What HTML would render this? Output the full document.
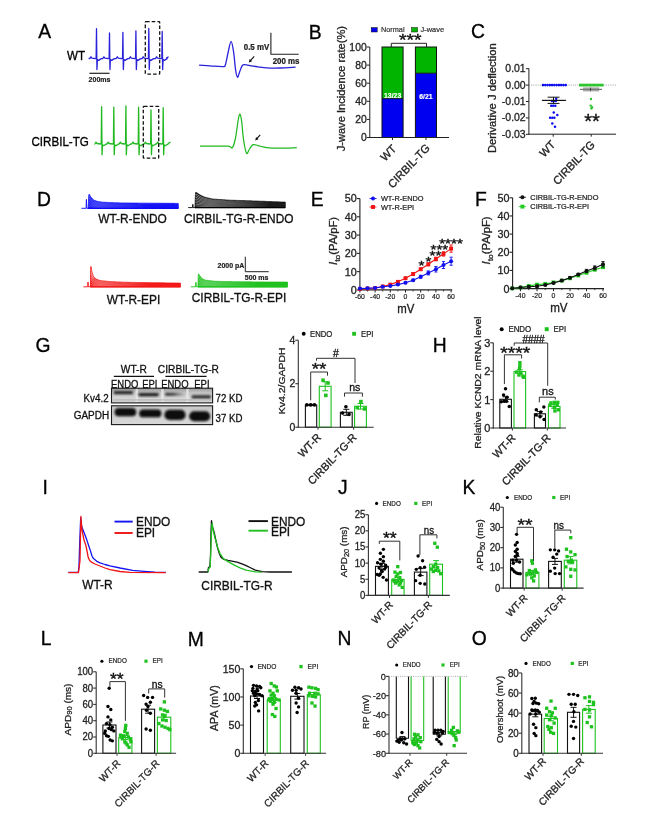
<!DOCTYPE html>
<html><head><meta charset="utf-8"><title>Figure</title>
<style>html,body{margin:0;padding:0;background:#fff;} svg{display:block;} text{font-family:'Liberation Sans', Arial, sans-serif;}</style>
</head><body>
<svg width="657" height="835" viewBox="0 0 657 835">
<rect x="0" y="0" width="657" height="835" fill="#fff"/>
<text transform="translate(38.3,38.3) scale(1,1.06)" font-size="19.3" text-anchor="start" font-weight="normal" fill="#000" stroke="#000" stroke-width="0.3" >A</text>
<text transform="translate(308.8,38.6) scale(1,1.06)" font-size="19.3" text-anchor="start" font-weight="normal" fill="#000" stroke="#000" stroke-width="0.3" >B</text>
<text transform="translate(470.9,38.1) scale(1,1.06)" font-size="19.3" text-anchor="start" font-weight="normal" fill="#000" stroke="#000" stroke-width="0.3" >C</text>
<text transform="translate(36.9,206.4) scale(1,1.06)" font-size="19.3" text-anchor="start" font-weight="normal" fill="#000" stroke="#000" stroke-width="0.3" >D</text>
<text transform="translate(310.8,206.4) scale(1,1.06)" font-size="19.3" text-anchor="start" font-weight="normal" fill="#000" stroke="#000" stroke-width="0.3" >E</text>
<text transform="translate(474.9,206.4) scale(1,1.06)" font-size="19.3" text-anchor="start" font-weight="normal" fill="#000" stroke="#000" stroke-width="0.3" >F</text>
<text transform="translate(35.5,352) scale(1,1.06)" font-size="19.3" text-anchor="start" font-weight="normal" fill="#000" stroke="#000" stroke-width="0.3" >G</text>
<text transform="translate(432.8,352.4) scale(1,1.06)" font-size="19.3" text-anchor="start" font-weight="normal" fill="#000" stroke="#000" stroke-width="0.3" >H</text>
<text transform="translate(42.4,494.2) scale(1,1.06)" font-size="19.3" text-anchor="start" font-weight="normal" fill="#000" stroke="#000" stroke-width="0.3" >I</text>
<text transform="translate(338,494.2) scale(1,1.06)" font-size="19.3" text-anchor="start" font-weight="normal" fill="#000" stroke="#000" stroke-width="0.3" >J</text>
<text transform="translate(462.6,494.4) scale(1,1.06)" font-size="19.3" text-anchor="start" font-weight="normal" fill="#000" stroke="#000" stroke-width="0.3" >K</text>
<text transform="translate(40.8,645.3) scale(1,1.06)" font-size="19.3" text-anchor="start" font-weight="normal" fill="#000" stroke="#000" stroke-width="0.3" >L</text>
<text transform="translate(187.8,645.5) scale(1,1.06)" font-size="19.3" text-anchor="start" font-weight="normal" fill="#000" stroke="#000" stroke-width="0.3" >M</text>
<text transform="translate(337.6,645.3) scale(1,1.06)" font-size="19.3" text-anchor="start" font-weight="normal" fill="#000" stroke="#000" stroke-width="0.3" >N</text>
<text transform="translate(471.7,645.1) scale(1,1.06)" font-size="19.3" text-anchor="start" font-weight="normal" fill="#000" stroke="#000" stroke-width="0.3" >O</text>
<text transform="translate(67,60.4) scale(1,1.06)" font-size="11.6" text-anchor="start" font-weight="normal" fill="#000" stroke="#000" stroke-width="0.3" >WT</text>
<text transform="translate(31.5,146.2) scale(1,1.06)" font-size="11.6" text-anchor="start" font-weight="normal" fill="#000" stroke="#000" stroke-width="0.3" >CIRBIL-TG</text>
<polyline points="88.6,58.4 89.7,58.7 90.9,56.8 91.9,58.2 95.3,58.7 96.15,57.9 96.5,28.7 96.95,69.5 97.4,59.4 98.7,60.4 100.1,59.4 101.5,58.6 102.7,58.7 103.9,56.8 104.9,58.2 108.3,58.7 109.15,57.9 109.5,33 109.95,69.5 110.4,59.4 111.7,60.4 113.1,59.4 114.5,58.6 116.1,58.7 117.3,56.8 118.3,58.2 121.7,58.7 122.55,57.9 122.9,32.5 123.35,69.5 123.8,59.4 125.1,60.4 126.5,59.4 127.9,58.6 129.1,58.7 130.3,56.8 131.3,58.2 134.7,58.7 135.55,57.9 135.9,31 136.35,69.5 136.8,59.4 138.1,60.4 139.5,59.4 140.9,58.6 142,58.7 143.2,56.8 144.2,58.2 147.6,58.7 148.45,57.9 148.8,28.4 149.25,69.5 149.7,59.4 151,60.4 152.4,59.4 153.8,58.6 155.4,58.7 156.6,56.8 157.6,58.2 161,58.7 161.85,57.9 162.2,31.4 162.65,69.5 163.1,59.4 164.4,60.4 165.8,59.4 167.2,58.6 166.6,57.9 168.6,56.8" fill="none" stroke="#2a22d8" stroke-width="1.3" stroke-linejoin="round" />
<polyline points="94.3,143.7 94.8,144 96,142.1 97,143.5 100.4,144 101.25,143.2 101.6,106.7 102.05,154.7 102.5,144.7 103.8,145.7 105.2,144.7 106.6,143.9 107,144 108.2,142.1 109.2,143.5 112.6,144 113.45,143.2 113.8,107.2 114.25,154.7 114.7,144.7 116,145.7 117.4,144.7 118.8,143.9 119.1,144 120.3,142.1 121.3,143.5 124.7,144 125.55,143.2 125.9,106 126.35,154.7 126.8,144.7 128.1,145.7 129.5,144.7 130.9,143.9 131.8,144 133,142.1 134,143.5 137.4,144 138.25,143.2 138.6,107.2 139.05,154.7 139.5,144.7 140.8,145.7 142.2,144.7 143.6,143.9 144.2,144 145.4,142.1 146.4,143.5 149.8,144 150.65,143.2 151,110 151.45,154.7 151.9,144.7 153.2,145.7 154.6,144.7 156,143.9 156.4,144 157.6,142.1 158.6,143.5 162,144 162.85,143.2 163.2,107.7 163.65,154.7 164.1,144.7 165.4,145.7 166.8,144.7 168.2,143.9 168.5,143.2 170.5,142.1" fill="none" stroke="#1fb81f" stroke-width="1.3" stroke-linejoin="round" />
<rect x="145.3" y="21.7" width="14.4" height="52.5" rx="0.7" fill="none" stroke="#111" stroke-width="1.3" stroke-dasharray="3.6,2.1"/>
<rect x="143.3" y="106.3" width="15.4" height="51.8" rx="0.7" fill="none" stroke="#111" stroke-width="1.3" stroke-dasharray="3.6,2.1"/>
<line x1="89.4" y1="73.3" x2="109.5" y2="73.3" stroke="#222" stroke-width="1.2" />
<text transform="translate(99.5,82) scale(1,1.06)" font-size="7.0" text-anchor="middle" font-weight="bold" fill="#222" stroke="#222" stroke-width="0.2" >200ms</text>
<path d="M199.1,65.1 C200.92,65.22 206.03,65.55 210,65.8 C213.97,66.05 220.32,66.82 222.9,66.6 C225.48,66.38 224.62,66.93 225.5,64.5 C226.38,62.07 227.27,55.85 228.2,52 C229.13,48.15 230.2,41.4 231.1,41.4 C232,41.4 232.85,47.23 233.6,52 C234.35,56.77 234.95,65.8 235.6,70 C236.25,74.2 236.83,76.87 237.5,77.2 C238.17,77.53 238.82,73.93 239.6,72 C240.38,70.07 241.3,66.83 242.2,65.6 C243.1,64.37 243.7,64.6 245,64.6 C246.3,64.6 247.83,65.23 250,65.6 C252.17,65.97 255.22,66.42 258,66.8 C260.78,67.18 263.03,67.7 266.7,67.9 C270.37,68.1 275.18,68.13 280,68 C284.82,67.87 293,67.25 295.6,67.1" fill="none" stroke="#2a22d8" stroke-width="1.3" stroke-linejoin="round" />
<polyline points="270.9,32.8 270.9,54.2 298.7,54.2" fill="none" stroke="#222" stroke-width="1.1" stroke-linejoin="round" />
<text transform="translate(269.2,49.7) scale(1,1.06)" font-size="7.9" text-anchor="end" font-weight="bold" fill="#222" stroke="#222" stroke-width="0.22" >0.5 mV</text>
<text transform="translate(286,63.6) scale(1,1.06)" font-size="7.9" text-anchor="middle" font-weight="bold" fill="#222" stroke="#222" stroke-width="0.22" >200 ms</text>
<line x1="254.2" y1="56.4" x2="250.15" y2="60.9" stroke="#111" stroke-width="1.1" />
<polygon points="248.8,62.4 249.68,58.88 252.2,61.16" fill="#111"/>
<line x1="260.2" y1="134.9" x2="256.45" y2="139.18" stroke="#111" stroke-width="1.1" />
<polygon points="255.2,140.6 256.03,137.07 258.59,139.32" fill="#111"/>
<path d="M200,146.2 C202.5,146.2 210.27,146.2 215,146.2 C219.73,146.2 225.5,145.97 228.4,146.2 C231.3,146.43 231.22,148.97 232.4,147.6 C233.58,146.23 234.53,142.6 235.5,138 C236.47,133.4 237.47,123.97 238.2,120 C238.93,116.03 239.33,114.03 239.9,114.2 C240.47,114.37 240.98,116.7 241.6,121 C242.22,125.3 242.77,134.62 243.6,140 C244.43,145.38 245.62,151.8 246.6,153.3 C247.58,154.8 248.43,150.43 249.5,149 C250.57,147.57 251.58,145.27 253,144.7 C254.42,144.13 255.72,145.12 258,145.6 C260.28,146.08 263.03,147.17 266.7,147.6 C270.37,148.03 274.98,148.18 280,148.2 C285.02,148.22 294,147.78 296.8,147.7" fill="none" stroke="#1fb81f" stroke-width="1.25" stroke-linejoin="round" />
<rect x="371.2" y="27.6" width="6" height="4.4" fill="#0000ee" stroke="#111" stroke-width="0.5" />
<text transform="translate(381,32.2) scale(1,1.06)" font-size="7.3" text-anchor="start" font-weight="normal" fill="#333" stroke="#333" stroke-width="0.2" >Normal</text>
<rect x="411.6" y="27.6" width="6" height="4.4" fill="#00b400" stroke="#111" stroke-width="0.5" />
<text transform="translate(420.6,32.2) scale(1,1.06)" font-size="7.4" text-anchor="start" font-weight="normal" fill="#333" stroke="#333" stroke-width="0.21" >J-wave</text>
<rect x="382" y="47" width="21.1" height="51.6" fill="#00b400" stroke="none" stroke-width="1" />
<rect x="382" y="98.6" width="21.1" height="38.9" fill="#0000f0" stroke="none" stroke-width="1" />
<rect x="382" y="47" width="21.1" height="90.5" fill="none" stroke="#111" stroke-width="1.0" />
<line x1="382" y1="98.6" x2="403.1" y2="98.6" stroke="#111" stroke-width="0.9" />
<rect x="415.4" y="47" width="21.1" height="26.2" fill="#00b400" stroke="none" stroke-width="1" />
<rect x="415.4" y="73.2" width="21.1" height="64.3" fill="#0000f0" stroke="none" stroke-width="1" />
<rect x="415.4" y="47" width="21.1" height="90.5" fill="none" stroke="#111" stroke-width="1.0" />
<line x1="415.4" y1="73.2" x2="436.5" y2="73.2" stroke="#111" stroke-width="0.9" />
<text transform="translate(392.6,98.3) scale(1,1.06)" font-size="6.9" text-anchor="middle" font-weight="bold" fill="#fff" stroke="#fff" stroke-width="0.19" >13/23</text>
<text transform="translate(426,99) scale(1,1.06)" font-size="6.9" text-anchor="middle" font-weight="bold" fill="#fff" stroke="#fff" stroke-width="0.19" >6/21</text>
<line x1="369.8" y1="47" x2="369.8" y2="138" stroke="#222" stroke-width="1.0" />
<line x1="369.3" y1="137.5" x2="449" y2="137.5" stroke="#222" stroke-width="1.0" />
<line x1="366.8" y1="137.5" x2="369.8" y2="137.5" stroke="#222" stroke-width="1.0" />
<text transform="translate(366.7,141) scale(1,1.06)" font-size="10.4" text-anchor="end" font-weight="normal" fill="#222" stroke="#222" stroke-width="0.29" >0</text>
<line x1="366.8" y1="119.4" x2="369.8" y2="119.4" stroke="#222" stroke-width="1.0" />
<text transform="translate(366.7,122.9) scale(1,1.06)" font-size="10.4" text-anchor="end" font-weight="normal" fill="#222" stroke="#222" stroke-width="0.29" >20</text>
<line x1="366.8" y1="101.3" x2="369.8" y2="101.3" stroke="#222" stroke-width="1.0" />
<text transform="translate(366.7,104.8) scale(1,1.06)" font-size="10.4" text-anchor="end" font-weight="normal" fill="#222" stroke="#222" stroke-width="0.29" >40</text>
<line x1="366.8" y1="83.2" x2="369.8" y2="83.2" stroke="#222" stroke-width="1.0" />
<text transform="translate(366.7,86.7) scale(1,1.06)" font-size="10.4" text-anchor="end" font-weight="normal" fill="#222" stroke="#222" stroke-width="0.29" >60</text>
<line x1="366.8" y1="65.1" x2="369.8" y2="65.1" stroke="#222" stroke-width="1.0" />
<text transform="translate(366.7,68.6) scale(1,1.06)" font-size="10.4" text-anchor="end" font-weight="normal" fill="#222" stroke="#222" stroke-width="0.29" >80</text>
<line x1="366.8" y1="47" x2="369.8" y2="47" stroke="#222" stroke-width="1.0" />
<text transform="translate(366.7,50.5) scale(1,1.06)" font-size="10.4" text-anchor="end" font-weight="normal" fill="#222" stroke="#222" stroke-width="0.29" >100</text>
<line x1="392.5" y1="137.5" x2="392.5" y2="140" stroke="#222" stroke-width="1.0" />
<line x1="426" y1="137.5" x2="426" y2="140" stroke="#222" stroke-width="1.0" />
<polyline points="391.3,47 391.3,43.3 426.5,43.3 426.5,47" fill="none" stroke="#222" stroke-width="1.0" stroke-linejoin="round" />
<text transform="translate(410.3,46.3) scale(1.12,1)" font-size="17.3" text-anchor="middle" fill="#111" stroke="#111" stroke-width="0.35">***</text>
<text transform="translate(344.9,88.7) scale(1,1.06) rotate(-90)" font-size="10.5" text-anchor="middle" font-weight="normal" fill="#222" stroke="#222" stroke-width="0.29">J-wave Incidence rate(%)</text>
<text transform="translate(397,149.4) scale(1,1.06) rotate(-45)" font-size="10.9" text-anchor="end" font-weight="normal" fill="#222" stroke="#222" stroke-width="0.3">WT</text>
<text transform="translate(430.5,148.6) scale(1,1.06) rotate(-45)" font-size="10.9" text-anchor="end" font-weight="normal" fill="#222" stroke="#222" stroke-width="0.3">CIRBIL-TG</text>
<line x1="528.9" y1="68.4" x2="528.9" y2="134.7" stroke="#222" stroke-width="1.0" />
<line x1="528.4" y1="134.2" x2="616" y2="134.2" stroke="#222" stroke-width="1.0" />
<line x1="525.9" y1="68.69" x2="528.9" y2="68.69" stroke="#222" stroke-width="1.0" />
<text transform="translate(525.7,72.19) scale(1,1.06)" font-size="10.5" text-anchor="end" font-weight="normal" fill="#222" stroke="#222" stroke-width="0.29" >0.01</text>
<line x1="525.9" y1="85.1" x2="528.9" y2="85.1" stroke="#222" stroke-width="1.0" />
<text transform="translate(525.7,88.6) scale(1,1.06)" font-size="10.5" text-anchor="end" font-weight="normal" fill="#222" stroke="#222" stroke-width="0.29" >0.00</text>
<line x1="525.9" y1="101.51" x2="528.9" y2="101.51" stroke="#222" stroke-width="1.0" />
<text transform="translate(525.7,105.01) scale(1,1.06)" font-size="10.5" text-anchor="end" font-weight="normal" fill="#222" stroke="#222" stroke-width="0.29" >-0.01</text>
<line x1="525.9" y1="117.92" x2="528.9" y2="117.92" stroke="#222" stroke-width="1.0" />
<text transform="translate(525.7,121.42) scale(1,1.06)" font-size="10.5" text-anchor="end" font-weight="normal" fill="#222" stroke="#222" stroke-width="0.29" >-0.02</text>
<line x1="525.9" y1="134.33" x2="528.9" y2="134.33" stroke="#222" stroke-width="1.0" />
<text transform="translate(525.7,137.83) scale(1,1.06)" font-size="10.5" text-anchor="end" font-weight="normal" fill="#222" stroke="#222" stroke-width="0.29" >-0.03</text>
<line x1="528.9" y1="85.1" x2="616" y2="85.1" stroke="#888" stroke-width="0.8" stroke-dasharray="1,1.2"/>
<line x1="553.2" y1="134.2" x2="553.2" y2="136.7" stroke="#222" stroke-width="1.0" />
<line x1="591.2" y1="134.2" x2="591.2" y2="136.7" stroke="#222" stroke-width="1.0" />
<circle cx="543" cy="85.1" r="1.3" fill="#0a0af0"/>
<circle cx="545.27" cy="85.1" r="1.3" fill="#0a0af0"/>
<circle cx="547.54" cy="85.1" r="1.3" fill="#0a0af0"/>
<circle cx="549.81" cy="85.1" r="1.3" fill="#0a0af0"/>
<circle cx="552.08" cy="85.1" r="1.3" fill="#0a0af0"/>
<circle cx="554.35" cy="85.1" r="1.3" fill="#0a0af0"/>
<circle cx="556.62" cy="85.1" r="1.3" fill="#0a0af0"/>
<circle cx="558.89" cy="85.1" r="1.3" fill="#0a0af0"/>
<circle cx="561.16" cy="85.1" r="1.3" fill="#0a0af0"/>
<circle cx="563.43" cy="85.1" r="1.3" fill="#0a0af0"/>
<circle cx="565.7" cy="85.1" r="1.3" fill="#0a0af0"/>
<circle cx="556.2" cy="98.8" r="1.25" fill="#0a0af0"/>
<circle cx="552" cy="101" r="1.25" fill="#0a0af0"/>
<circle cx="553.9" cy="101" r="1.25" fill="#0a0af0"/>
<circle cx="555.8" cy="101" r="1.25" fill="#0a0af0"/>
<circle cx="551.2" cy="105.7" r="1.25" fill="#0a0af0"/>
<circle cx="553.2" cy="105.7" r="1.25" fill="#0a0af0"/>
<circle cx="555.3" cy="105.7" r="1.25" fill="#0a0af0"/>
<circle cx="553.8" cy="112.5" r="1.25" fill="#0a0af0"/>
<circle cx="557.3" cy="115" r="1.25" fill="#0a0af0"/>
<circle cx="550.1" cy="117.8" r="1.25" fill="#0a0af0"/>
<circle cx="552.3" cy="117.8" r="1.25" fill="#0a0af0"/>
<circle cx="554.4" cy="117.8" r="1.25" fill="#0a0af0"/>
<circle cx="552.3" cy="123.6" r="1.25" fill="#0a0af0"/>
<circle cx="555" cy="126.7" r="1.25" fill="#0a0af0"/>
<line x1="541.9" y1="100.4" x2="565.9" y2="100.4" stroke="#111" stroke-width="1.2" />
<line x1="547.6" y1="97.2" x2="559.5" y2="97.2" stroke="#111" stroke-width="1.0" />
<line x1="547.6" y1="103.4" x2="559.5" y2="103.4" stroke="#111" stroke-width="1.0" />
<line x1="553.5" y1="97.2" x2="553.5" y2="103.4" stroke="#111" stroke-width="1.0" />
<rect x="579" y="83.7" width="24.6" height="2.8" fill="#2ec42e" stroke="none" stroke-width="1" />
<rect x="583" y="87.4" width="16.2" height="4" fill="#a8a8a8" stroke="none" stroke-width="1" />
<line x1="580" y1="89.4" x2="602" y2="89.4" stroke="#777" stroke-width="1.2" />
<line x1="590.5" y1="87.6" x2="590.5" y2="91.2" stroke="#333" stroke-width="0.8" />
<circle cx="591" cy="99.05" r="1.2" fill="#2ec42e"/>
<circle cx="590.6" cy="105.61" r="1.2" fill="#2ec42e"/>
<circle cx="592" cy="107.25" r="1.2" fill="#2ec42e"/>
<circle cx="591.4" cy="108.4" r="1.2" fill="#2ec42e"/>
<text transform="translate(592,127.5) scale(1.03,1)" font-size="19.5" text-anchor="middle" fill="#111" stroke="#111" stroke-width="0.35">**</text>
<text transform="translate(496.3,98.2) scale(1,1.06) rotate(-90)" font-size="10.6" text-anchor="middle" font-weight="normal" fill="#222" stroke="#222" stroke-width="0.3">Derivative J deflection</text>
<text transform="translate(556,145.3) scale(1,1.06) rotate(-45)" font-size="10.9" text-anchor="end" font-weight="normal" fill="#222" stroke="#222" stroke-width="0.3">WT</text>
<text transform="translate(595.6,145.3) scale(1,1.06) rotate(-45)" font-size="10.9" text-anchor="end" font-weight="normal" fill="#222" stroke="#222" stroke-width="0.3">CIRBIL-TG</text>
<polyline points="81.4,208.3 86.1,208.3 86.4,199.4 86.8,208.3 88.2,208.3" fill="none" stroke="#0b0bf5" stroke-width="0.9" stroke-linejoin="round" />
<path d="M88.2,208.3 L88.2,208.5 L88.45,202.25 L88.7,196 L88.95,195.1 L89.2,194.2 L89.45,194.64 L89.7,195.08 L89.95,195.53 L90.2,195.97 L90.45,196.41 L90.7,196.74 L90.95,197.05 L91.2,197.35 L91.45,197.65 L91.7,197.96 L91.95,198.26 L92.2,198.56 L92.45,198.87 L92.7,199.17 L92.95,199.48 L93.2,199.78 L93.45,199.96 L93.7,200.05 L93.95,200.15 L94.2,200.24 L94.45,200.34 L94.7,200.43 L94.95,200.52 L95.2,200.62 L95.45,200.71 L95.7,200.81 L95.95,200.9 L96.2,201 L96.45,201.09 L96.7,201.19 L96.95,201.28 L97.2,201.33 L97.45,201.38 L97.7,201.42 L97.95,201.46 L98.2,201.5 L98.45,201.54 L98.7,201.58 L98.95,201.62 L99.2,201.67 L99.45,201.71 L99.7,201.75 L99.95,201.79 L100.2,201.83 L100.45,201.88 L100.7,201.92 L100.95,201.96 L101.2,202 L101.45,202.04 L101.7,202.08 L101.95,202.12 L102.2,202.17 L102.45,202.2 L102.7,202.21 L102.95,202.22 L103.2,202.23 L103.45,202.24 L103.7,202.25 L103.95,202.26 L104.2,202.27 L104.45,202.28 L104.7,202.29 L104.95,202.3 L105.2,202.31 L105.45,202.32 L105.7,202.33 L105.95,202.34 L106.2,202.35 L106.45,202.36 L106.7,202.37 L106.95,202.38 L107.2,202.39 L107.45,202.4 L107.7,202.41 L107.95,202.42 L108.2,202.43 L108.45,202.44 L108.7,202.45 L108.95,202.46 L109.2,202.47 L109.45,202.48 L109.7,202.49 L109.95,202.5 L110.2,202.51 L110.45,202.52 L110.7,202.53 L110.95,202.54 L111.2,202.55 L111.45,202.56 L111.7,202.57 L111.95,202.58 L112.2,202.59 L112.45,202.6 L112.7,202.61 L112.95,202.62 L113.2,202.63 L113.45,202.64 L113.7,202.65 L113.95,202.66 L114.2,202.67 L114.45,202.68 L114.7,202.69 L114.95,202.7 L115.2,202.71 L115.45,202.72 L115.7,202.73 L115.95,202.74 L116.2,202.75 L116.45,202.76 L116.7,202.77 L116.95,202.78 L117.2,202.79 L117.45,202.8 L117.7,202.81 L117.95,202.82 L118.2,202.83 L118.45,202.84 L118.7,202.85 L118.95,202.86 L119.2,202.87 L119.45,202.88 L119.7,202.89 L119.95,202.9 L120.2,202.9 L120.45,202.91 L120.7,202.91 L120.95,202.91 L121.2,202.92 L121.45,202.92 L121.7,202.92 L121.95,202.93 L122.2,202.93 L122.45,202.93 L122.7,202.94 L122.95,202.94 L123.2,202.94 L123.45,202.95 L123.7,202.95 L123.95,202.95 L124.2,202.96 L124.45,202.96 L124.7,202.97 L124.95,202.97 L125.2,202.97 L125.45,202.98 L125.7,202.98 L125.95,202.98 L126.2,202.99 L126.45,202.99 L126.7,202.99 L126.95,203 L127.2,203 L127.45,203 L127.7,203.01 L127.95,203.01 L128.2,203.01 L128.45,203.02 L128.7,203.02 L128.95,203.02 L129.2,203.03 L129.45,203.03 L129.7,203.03 L129.95,203.04 L130.2,203.04 L130.45,203.05 L130.7,203.05 L130.95,203.05 L131.2,203.06 L131.45,203.06 L131.7,203.06 L131.95,203.07 L132.2,203.07 L132.45,203.07 L132.7,203.08 L132.95,203.08 L133.2,203.08 L133.45,203.09 L133.7,203.09 L133.95,203.09 L134.2,203.1 L134.45,203.1 L134.7,203.1 L134.95,203.1 L135.2,203.11 L135.45,203.11 L135.7,203.11 L135.95,203.11 L136.2,203.11 L136.45,203.11 L136.7,203.12 L136.95,203.12 L137.2,203.12 L137.45,203.12 L137.7,203.12 L137.95,203.12 L138.2,203.13 L138.45,203.13 L138.7,203.13 L138.95,203.13 L139.2,203.13 L139.45,203.13 L139.7,203.14 L139.95,203.14 L140.2,203.14 L140.45,203.14 L140.7,203.14 L140.95,203.14 L141.2,203.15 L141.45,203.15 L141.7,203.15 L141.95,203.15 L142.2,203.15 L142.45,203.15 L142.7,203.16 L142.95,203.16 L143.2,203.16 L143.45,203.16 L143.7,203.16 L143.95,203.17 L144.2,203.17 L144.45,203.17 L144.7,203.17 L144.95,203.17 L145.2,203.17 L145.45,203.18 L145.7,203.18 L145.95,203.18 L146.2,203.18 L146.45,203.18 L146.7,203.18 L146.95,203.19 L147.2,203.19 L147.45,203.19 L147.7,203.19 L147.95,203.19 L148.2,203.19 L148.45,203.2 L148.7,203.2 L148.95,203.2 L149.2,203.2 L149.45,203.2 L149.7,203.2 L149.95,203.21 L150.2,203.21 L150.45,203.21 L150.7,203.21 L150.95,203.21 L151.2,203.21 L151.45,203.22 L151.7,203.22 L151.95,203.22 L152.2,203.22 L152.45,203.22 L152.7,203.22 L152.95,203.23 L153.2,203.23 L153.45,203.23 L153.7,203.23 L153.95,203.23 L154.2,203.23 L154.45,203.24 L154.7,203.24 L154.95,203.24 L155.2,203.24 L155.45,203.24 L155.7,203.25 L155.95,203.25 L156.2,203.25 L156.45,203.25 L156.7,203.25 L156.95,203.25 L157.2,203.26 L157.45,203.26 L157.7,203.26 L157.95,203.26 L158.2,203.26 L158.45,203.26 L158.7,203.27 L158.95,203.27 L159.2,203.27 L159.45,203.27 L159.7,203.27 L159.95,203.27 L160.2,203.28 L160.45,203.28 L160.7,203.28 L160.95,203.28 L161.2,203.28 L161.45,203.28 L161.7,203.29 L161.95,203.29 L162.2,203.29 L162.45,203.29 L162.7,203.29 L162.95,203.29 L163.2,203.3 L163.45,203.3 L163.7,203.3 L163.95,203.3 L164.2,203.3 L164.45,203.3 L164.7,203.31 L164.95,203.31 L165.2,203.31 L165.45,203.31 L165.7,203.31 L165.95,203.32 L166.2,203.32 L166.45,203.32 L166.7,203.32 L166.95,203.32 L167.2,203.32 L167.45,203.33 L167.7,203.33 L167.95,203.33 L168.2,203.33 L168.45,203.33 L168.7,203.33 L168.95,203.34 L169.2,203.34 L169.45,203.34 L169.7,203.34 L169.95,203.34 L170.2,203.34 L170.45,203.35 L170.7,203.35 L170.95,203.35 L171.2,203.35 L171.45,203.35 L171.7,203.35 L171.95,203.36 L172.2,203.36 L172.45,203.36 L172.7,203.36 L172.95,203.36 L173.2,203.36 L173.45,203.37 L173.7,203.37 L173.95,203.37 L174.2,203.37 L174.45,203.37 L174.7,203.37 L174.95,203.38 L175.2,203.38 L175.45,203.38 L175.7,203.38 L175.95,203.38 L176.2,203.38 L176.45,203.39 L176.7,203.39 L176.95,203.39 L177.2,203.39 L177.45,203.39 L177.7,203.4 L177.95,203.4 L178.2,203.4 L178.4,208.3 Z" fill="#0b0bf5" stroke="#0b0bf5" stroke-width="0.8" stroke-linejoin="round"/>
<defs><linearGradient id="fd882" gradientUnits="userSpaceOnUse" x1="88.2" y1="0" x2="148.2" y2="0"><stop offset="0" stop-color="#fff" stop-opacity="0.6"/><stop offset="0.4" stop-color="#fff" stop-opacity="0.3"/><stop offset="1" stop-color="#fff" stop-opacity="0.05"/></linearGradient></defs>
<polyline points="88.8,206.72 89.3,206.56 89.8,206.67 90.3,206.78 90.8,206.87 91.3,206.95 91.8,207.02 92.3,207.1 92.8,207.17 93.3,207.25 93.8,207.27 94.3,207.3 94.8,207.32 95.3,207.34 95.8,207.37 96.3,207.39 96.8,207.42 97.3,207.43 97.8,207.44 98.3,207.45 98.8,207.46 99.3,207.47 99.8,207.48 100.3,207.49 100.8,207.5 101.3,207.51 101.8,207.53 102.3,207.54 102.8,207.54 103.3,207.54 103.8,207.54 104.3,207.55 104.8,207.55 105.3,207.55 105.8,207.55 106.3,207.56 106.8,207.56 107.3,207.56 107.8,207.56 108.3,207.57 108.8,207.57 109.3,207.57 109.8,207.57 110.3,207.58 110.8,207.58 111.3,207.58 111.8,207.58 112.3,207.59 112.8,207.59 113.3,207.59 113.8,207.59 114.3,207.6 114.8,207.6 115.3,207.6 115.8,207.6 116.3,207.61 116.8,207.61 117.3,207.61 117.8,207.61 118.3,207.62 118.8,207.62 119.3,207.62 119.8,207.62 120.3,207.63 120.8,207.63 121.3,207.63 121.8,207.63 122.3,207.63 122.8,207.63 123.3,207.63 123.8,207.63 124.3,207.63 124.8,207.63 125.3,207.63 125.8,207.64 126.3,207.64 126.8,207.64 127.3,207.64 127.8,207.64 128.3,207.64 128.8,207.64 129.3,207.64 129.8,207.64 130.3,207.64 130.8,207.64 131.3,207.64 131.8,207.65 132.3,207.65 132.8,207.65 133.3,207.65 133.8,207.65 134.3,207.65 134.8,207.65 135.3,207.65 135.8,207.65 136.3,207.65 136.8,207.65 137.3,207.65 137.8,207.65 138.3,207.65 138.8,207.65 139.3,207.65 139.8,207.65 140.3,207.66 140.8,207.66 141.3,207.66 141.8,207.66 142.3,207.66 142.8,207.66 143.3,207.66 143.8,207.66 144.3,207.66 144.8,207.66 145.3,207.66 145.8,207.66 146.3,207.66 146.8,207.66 147.3,207.66 147.8,207.66 148.3,207.66 148.8,207.66 149.3,207.66 149.8,207.66 150.3,207.66 150.8,207.66 151.3,207.66 151.8,207.66 152.3,207.67 152.8,207.67 153.3,207.67 153.8,207.67 154.3,207.67 154.8,207.67 155.3,207.67 155.8,207.67 156.3,207.67 156.8,207.67 157.3,207.67 157.8,207.67 158.3,207.67 158.8,207.67 159.3,207.67 159.8,207.67 160.3,207.67 160.8,207.67 161.3,207.67 161.8,207.67 162.3,207.67 162.8,207.67 163.3,207.67 163.8,207.68 164.3,207.68 164.8,207.68 165.3,207.68 165.8,207.68 166.3,207.68 166.8,207.68 167.3,207.68 167.8,207.68 168.3,207.68 168.8,207.68 169.3,207.68 169.8,207.68 170.3,207.68 170.8,207.68 171.3,207.68 171.8,207.68 172.3,207.68 172.8,207.68 173.3,207.68 173.8,207.68 174.3,207.68 174.8,207.68 175.3,207.68 175.8,207.69 176.3,207.69 176.8,207.69 177.3,207.69 177.8,207.69 178.3,207.69" fill="none" stroke="url(#fd882)" stroke-width="0.45" stroke-linejoin="round" />
<polyline points="88.8,205.14 89.3,204.82 89.8,205.04 90.3,205.26 90.8,205.44 91.3,205.59 91.8,205.74 92.3,205.9 92.8,206.05 93.3,206.2 93.8,206.25 94.3,206.29 94.8,206.34 95.3,206.39 95.8,206.44 96.3,206.48 96.8,206.53 97.3,206.56 97.8,206.58 98.3,206.6 98.8,206.62 99.3,206.65 99.8,206.67 100.3,206.69 100.8,206.71 101.3,206.73 101.8,206.75 102.3,206.77 102.8,206.78 103.3,206.78 103.8,206.79 104.3,206.79 104.8,206.8 105.3,206.8 105.8,206.81 106.3,206.81 106.8,206.82 107.3,206.82 107.8,206.83 108.3,206.83 108.8,206.84 109.3,206.84 109.8,206.85 110.3,206.85 110.8,206.86 111.3,206.86 111.8,206.87 112.3,206.87 112.8,206.88 113.3,206.88 113.8,206.89 114.3,206.89 114.8,206.9 115.3,206.9 115.8,206.91 116.3,206.91 116.8,206.92 117.3,206.92 117.8,206.93 118.3,206.93 118.8,206.94 119.3,206.94 119.8,206.95 120.3,206.95 120.8,206.95 121.3,206.95 121.8,206.96 122.3,206.96 122.8,206.96 123.3,206.96 123.8,206.96 124.3,206.96 124.8,206.97 125.3,206.97 125.8,206.97 126.3,206.97 126.8,206.97 127.3,206.98 127.8,206.98 128.3,206.98 128.8,206.98 129.3,206.98 129.8,206.98 130.3,206.99 130.8,206.99 131.3,206.99 131.8,206.99 132.3,206.99 132.8,206.99 133.3,207 133.8,207 134.3,207 134.8,207 135.3,207 135.8,207 136.3,207 136.8,207 137.3,207 137.8,207.01 138.3,207.01 138.8,207.01 139.3,207.01 139.8,207.01 140.3,207.01 140.8,207.01 141.3,207.01 141.8,207.01 142.3,207.01 142.8,207.01 143.3,207.02 143.8,207.02 144.3,207.02 144.8,207.02 145.3,207.02 145.8,207.02 146.3,207.02 146.8,207.02 147.3,207.02 147.8,207.02 148.3,207.02 148.8,207.02 149.3,207.03 149.8,207.03 150.3,207.03 150.8,207.03 151.3,207.03 151.8,207.03 152.3,207.03 152.8,207.03 153.3,207.03 153.8,207.03 154.3,207.03 154.8,207.03 155.3,207.04 155.8,207.04 156.3,207.04 156.8,207.04 157.3,207.04 157.8,207.04 158.3,207.04 158.8,207.04 159.3,207.04 159.8,207.04 160.3,207.04 160.8,207.05 161.3,207.05 161.8,207.05 162.3,207.05 162.8,207.05 163.3,207.05 163.8,207.05 164.3,207.05 164.8,207.05 165.3,207.05 165.8,207.05 166.3,207.05 166.8,207.06 167.3,207.06 167.8,207.06 168.3,207.06 168.8,207.06 169.3,207.06 169.8,207.06 170.3,207.06 170.8,207.06 171.3,207.06 171.8,207.06 172.3,207.06 172.8,207.07 173.3,207.07 173.8,207.07 174.3,207.07 174.8,207.07 175.3,207.07 175.8,207.07 176.3,207.07 176.8,207.07 177.3,207.07 177.8,207.07 178.3,207.07" fill="none" stroke="url(#fd882)" stroke-width="0.45" stroke-linejoin="round" />
<polyline points="88.8,203.55 89.3,203.08 89.8,203.41 90.3,203.74 90.8,204.01 91.3,204.24 91.8,204.47 92.3,204.69 92.8,204.92 93.3,205.15 93.8,205.22 94.3,205.29 94.8,205.36 95.3,205.43 95.8,205.5 96.3,205.58 96.8,205.65 97.3,205.69 97.8,205.73 98.3,205.76 98.8,205.79 99.3,205.82 99.8,205.85 100.3,205.88 100.8,205.91 101.3,205.94 101.8,205.97 102.3,206.01 102.8,206.02 103.3,206.03 103.8,206.03 104.3,206.04 104.8,206.05 105.3,206.06 105.8,206.06 106.3,206.07 106.8,206.08 107.3,206.09 107.8,206.09 108.3,206.1 108.8,206.11 109.3,206.12 109.8,206.12 110.3,206.13 110.8,206.14 111.3,206.15 111.8,206.15 112.3,206.16 112.8,206.17 113.3,206.18 113.8,206.18 114.3,206.19 114.8,206.2 115.3,206.2 115.8,206.21 116.3,206.22 116.8,206.23 117.3,206.23 117.8,206.24 118.3,206.25 118.8,206.26 119.3,206.26 119.8,206.27 120.3,206.28 120.8,206.28 121.3,206.28 121.8,206.28 122.3,206.29 122.8,206.29 123.3,206.29 123.8,206.29 124.3,206.3 124.8,206.3 125.3,206.3 125.8,206.31 126.3,206.31 126.8,206.31 127.3,206.31 127.8,206.32 128.3,206.32 128.8,206.32 129.3,206.32 129.8,206.33 130.3,206.33 130.8,206.33 131.3,206.33 131.8,206.34 132.3,206.34 132.8,206.34 133.3,206.34 133.8,206.35 134.3,206.35 134.8,206.35 135.3,206.35 135.8,206.35 136.3,206.35 136.8,206.36 137.3,206.36 137.8,206.36 138.3,206.36 138.8,206.36 139.3,206.36 139.8,206.36 140.3,206.37 140.8,206.37 141.3,206.37 141.8,206.37 142.3,206.37 142.8,206.37 143.3,206.37 143.8,206.37 144.3,206.38 144.8,206.38 145.3,206.38 145.8,206.38 146.3,206.38 146.8,206.38 147.3,206.38 147.8,206.38 148.3,206.39 148.8,206.39 149.3,206.39 149.8,206.39 150.3,206.39 150.8,206.39 151.3,206.39 151.8,206.39 152.3,206.4 152.8,206.4 153.3,206.4 153.8,206.4 154.3,206.4 154.8,206.4 155.3,206.4 155.8,206.4 156.3,206.41 156.8,206.41 157.3,206.41 157.8,206.41 158.3,206.41 158.8,206.41 159.3,206.41 159.8,206.41 160.3,206.42 160.8,206.42 161.3,206.42 161.8,206.42 162.3,206.42 162.8,206.42 163.3,206.42 163.8,206.43 164.3,206.43 164.8,206.43 165.3,206.43 165.8,206.43 166.3,206.43 166.8,206.43 167.3,206.43 167.8,206.44 168.3,206.44 168.8,206.44 169.3,206.44 169.8,206.44 170.3,206.44 170.8,206.44 171.3,206.44 171.8,206.45 172.3,206.45 172.8,206.45 173.3,206.45 173.8,206.45 174.3,206.45 174.8,206.45 175.3,206.45 175.8,206.46 176.3,206.46 176.8,206.46 177.3,206.46 177.8,206.46 178.3,206.46" fill="none" stroke="url(#fd882)" stroke-width="0.45" stroke-linejoin="round" />
<polyline points="88.8,201.97 89.3,201.34 89.8,201.78 90.3,202.22 90.8,202.58 91.3,202.89 91.8,203.19 92.3,203.49 92.8,203.8 93.3,204.1 93.8,204.19 94.3,204.29 94.8,204.38 95.3,204.48 95.8,204.57 96.3,204.67 96.8,204.76 97.3,204.83 97.8,204.87 98.3,204.91 98.8,204.95 99.3,204.99 99.8,205.03 100.3,205.07 100.8,205.12 101.3,205.16 101.8,205.2 102.3,205.24 102.8,205.26 103.3,205.27 103.8,205.28 104.3,205.29 104.8,205.3 105.3,205.31 105.8,205.32 106.3,205.33 106.8,205.34 107.3,205.35 107.8,205.36 108.3,205.37 108.8,205.38 109.3,205.39 109.8,205.4 110.3,205.41 110.8,205.42 111.3,205.43 111.8,205.44 112.3,205.45 112.8,205.46 113.3,205.47 113.8,205.48 114.3,205.49 114.8,205.5 115.3,205.51 115.8,205.52 116.3,205.53 116.8,205.54 117.3,205.55 117.8,205.56 118.3,205.57 118.8,205.58 119.3,205.59 119.8,205.6 120.3,205.6 120.8,205.61 121.3,205.61 121.8,205.61 122.3,205.62 122.8,205.62 123.3,205.62 123.8,205.63 124.3,205.63 124.8,205.63 125.3,205.64 125.8,205.64 126.3,205.64 126.8,205.65 127.3,205.65 127.8,205.65 128.3,205.66 128.8,205.66 129.3,205.66 129.8,205.67 130.3,205.67 130.8,205.68 131.3,205.68 131.8,205.68 132.3,205.69 132.8,205.69 133.3,205.69 133.8,205.7 134.3,205.7 134.8,205.7 135.3,205.7 135.8,205.7 136.3,205.71 136.8,205.71 137.3,205.71 137.8,205.71 138.3,205.71 138.8,205.72 139.3,205.72 139.8,205.72 140.3,205.72 140.8,205.72 141.3,205.72 141.8,205.73 142.3,205.73 142.8,205.73 143.3,205.73 143.8,205.73 144.3,205.73 144.8,205.74 145.3,205.74 145.8,205.74 146.3,205.74 146.8,205.74 147.3,205.74 147.8,205.75 148.3,205.75 148.8,205.75 149.3,205.75 149.8,205.75 150.3,205.75 150.8,205.76 151.3,205.76 151.8,205.76 152.3,205.76 152.8,205.76 153.3,205.76 153.8,205.77 154.3,205.77 154.8,205.77 155.3,205.77 155.8,205.77 156.3,205.77 156.8,205.78 157.3,205.78 157.8,205.78 158.3,205.78 158.8,205.78 159.3,205.78 159.8,205.79 160.3,205.79 160.8,205.79 161.3,205.79 161.8,205.79 162.3,205.8 162.8,205.8 163.3,205.8 163.8,205.8 164.3,205.8 164.8,205.8 165.3,205.81 165.8,205.81 166.3,205.81 166.8,205.81 167.3,205.81 167.8,205.81 168.3,205.82 168.8,205.82 169.3,205.82 169.8,205.82 170.3,205.82 170.8,205.82 171.3,205.83 171.8,205.83 172.3,205.83 172.8,205.83 173.3,205.83 173.8,205.83 174.3,205.84 174.8,205.84 175.3,205.84 175.8,205.84 176.3,205.84 176.8,205.84 177.3,205.85 177.8,205.85 178.3,205.85" fill="none" stroke="url(#fd882)" stroke-width="0.45" stroke-linejoin="round" />
<polyline points="88.8,200.39 89.3,199.6 89.8,200.15 90.3,200.7 90.8,201.15 91.3,201.53 91.8,201.91 92.3,202.29 92.8,202.67 93.3,203.05 93.8,203.17 94.3,203.29 94.8,203.4 95.3,203.52 95.8,203.64 96.3,203.76 96.8,203.88 97.3,203.96 97.8,204.01 98.3,204.06 98.8,204.11 99.3,204.16 99.8,204.22 100.3,204.27 100.8,204.32 101.3,204.37 101.8,204.43 102.3,204.48 102.8,204.5 103.3,204.51 103.8,204.52 104.3,204.53 104.8,204.55 105.3,204.56 105.8,204.57 106.3,204.58 106.8,204.6 107.3,204.61 107.8,204.62 108.3,204.63 108.8,204.65 109.3,204.66 109.8,204.67 110.3,204.68 110.8,204.7 111.3,204.71 111.8,204.72 112.3,204.73 112.8,204.75 113.3,204.76 113.8,204.77 114.3,204.78 114.8,204.8 115.3,204.81 115.8,204.82 116.3,204.83 116.8,204.85 117.3,204.86 117.8,204.87 118.3,204.88 118.8,204.9 119.3,204.91 119.8,204.92 120.3,204.93 120.8,204.93 121.3,204.94 121.8,204.94 122.3,204.94 122.8,204.95 123.3,204.95 123.8,204.96 124.3,204.96 124.8,204.97 125.3,204.97 125.8,204.98 126.3,204.98 126.8,204.98 127.3,204.99 127.8,204.99 128.3,205 128.8,205 129.3,205.01 129.8,205.01 130.3,205.01 130.8,205.02 131.3,205.02 131.8,205.03 132.3,205.03 132.8,205.04 133.3,205.04 133.8,205.04 134.3,205.05 134.8,205.05 135.3,205.05 135.8,205.06 136.3,205.06 136.8,205.06 137.3,205.06 137.8,205.06 138.3,205.07 138.8,205.07 139.3,205.07 139.8,205.07 140.3,205.08 140.8,205.08 141.3,205.08 141.8,205.08 142.3,205.08 142.8,205.09 143.3,205.09 143.8,205.09 144.3,205.09 144.8,205.09 145.3,205.1 145.8,205.1 146.3,205.1 146.8,205.1 147.3,205.1 147.8,205.11 148.3,205.11 148.8,205.11 149.3,205.11 149.8,205.12 150.3,205.12 150.8,205.12 151.3,205.12 151.8,205.12 152.3,205.13 152.8,205.13 153.3,205.13 153.8,205.13 154.3,205.13 154.8,205.14 155.3,205.14 155.8,205.14 156.3,205.14 156.8,205.15 157.3,205.15 157.8,205.15 158.3,205.15 158.8,205.15 159.3,205.16 159.8,205.16 160.3,205.16 160.8,205.16 161.3,205.16 161.8,205.17 162.3,205.17 162.8,205.17 163.3,205.17 163.8,205.18 164.3,205.18 164.8,205.18 165.3,205.18 165.8,205.18 166.3,205.19 166.8,205.19 167.3,205.19 167.8,205.19 168.3,205.19 168.8,205.2 169.3,205.2 169.8,205.2 170.3,205.2 170.8,205.21 171.3,205.21 171.8,205.21 172.3,205.21 172.8,205.21 173.3,205.22 173.8,205.22 174.3,205.22 174.8,205.22 175.3,205.22 175.8,205.23 176.3,205.23 176.8,205.23 177.3,205.23 177.8,205.23 178.3,205.24" fill="none" stroke="url(#fd882)" stroke-width="0.45" stroke-linejoin="round" />
<polyline points="88.8,198.81 89.3,197.86 89.8,198.52 90.3,199.18 90.8,199.72 91.3,200.18 91.8,200.63 92.3,201.09 92.8,201.54 93.3,202 93.8,202.14 94.3,202.28 94.8,202.43 95.3,202.57 95.8,202.71 96.3,202.85 96.8,202.99 97.3,203.09 97.8,203.15 98.3,203.21 98.8,203.28 99.3,203.34 99.8,203.4 100.3,203.46 100.8,203.53 101.3,203.59 101.8,203.65 102.3,203.71 102.8,203.74 103.3,203.75 103.8,203.77 104.3,203.78 104.8,203.8 105.3,203.81 105.8,203.83 106.3,203.84 106.8,203.86 107.3,203.87 107.8,203.89 108.3,203.9 108.8,203.92 109.3,203.93 109.8,203.95 110.3,203.96 110.8,203.98 111.3,203.99 111.8,204.01 112.3,204.02 112.8,204.04 113.3,204.05 113.8,204.07 114.3,204.08 114.8,204.09 115.3,204.11 115.8,204.12 116.3,204.14 116.8,204.15 117.3,204.17 117.8,204.18 118.3,204.2 118.8,204.21 119.3,204.23 119.8,204.24 120.3,204.25 120.8,204.26 121.3,204.26 121.8,204.27 122.3,204.27 122.8,204.28 123.3,204.28 123.8,204.29 124.3,204.29 124.8,204.3 125.3,204.31 125.8,204.31 126.3,204.32 126.8,204.32 127.3,204.33 127.8,204.33 128.3,204.34 128.8,204.34 129.3,204.35 129.8,204.35 130.3,204.36 130.8,204.36 131.3,204.37 131.8,204.37 132.3,204.38 132.8,204.38 133.3,204.39 133.8,204.39 134.3,204.4 134.8,204.4 135.3,204.4 135.8,204.41 136.3,204.41 136.8,204.41 137.3,204.41 137.8,204.42 138.3,204.42 138.8,204.42 139.3,204.43 139.8,204.43 140.3,204.43 140.8,204.43 141.3,204.44 141.8,204.44 142.3,204.44 142.8,204.44 143.3,204.45 143.8,204.45 144.3,204.45 144.8,204.45 145.3,204.46 145.8,204.46 146.3,204.46 146.8,204.46 147.3,204.47 147.8,204.47 148.3,204.47 148.8,204.47 149.3,204.48 149.8,204.48 150.3,204.48 150.8,204.48 151.3,204.49 151.8,204.49 152.3,204.49 152.8,204.49 153.3,204.5 153.8,204.5 154.3,204.5 154.8,204.5 155.3,204.51 155.8,204.51 156.3,204.51 156.8,204.51 157.3,204.52 157.8,204.52 158.3,204.52 158.8,204.52 159.3,204.53 159.8,204.53 160.3,204.53 160.8,204.53 161.3,204.54 161.8,204.54 162.3,204.54 162.8,204.55 163.3,204.55 163.8,204.55 164.3,204.55 164.8,204.56 165.3,204.56 165.8,204.56 166.3,204.56 166.8,204.57 167.3,204.57 167.8,204.57 168.3,204.57 168.8,204.58 169.3,204.58 169.8,204.58 170.3,204.58 170.8,204.59 171.3,204.59 171.8,204.59 172.3,204.59 172.8,204.6 173.3,204.6 173.8,204.6 174.3,204.6 174.8,204.61 175.3,204.61 175.8,204.61 176.3,204.61 176.8,204.62 177.3,204.62 177.8,204.62 178.3,204.62" fill="none" stroke="url(#fd882)" stroke-width="0.45" stroke-linejoin="round" />
<polyline points="88.8,197.22 89.3,196.12 89.8,196.89 90.3,197.67 90.8,198.29 91.3,198.82 91.8,199.36 92.3,199.89 92.8,200.42 93.3,200.95 93.8,201.12 94.3,201.28 94.8,201.45 95.3,201.61 95.8,201.78 96.3,201.94 96.8,202.11 97.3,202.22 97.8,202.29 98.3,202.36 98.8,202.44 99.3,202.51 99.8,202.58 100.3,202.66 100.8,202.73 101.3,202.8 101.8,202.88 102.3,202.95 102.8,202.98 103.3,202.99 103.8,203.01 104.3,203.03 104.8,203.05 105.3,203.06 105.8,203.08 106.3,203.1 106.8,203.12 107.3,203.13 107.8,203.15 108.3,203.17 108.8,203.19 109.3,203.2 109.8,203.22 110.3,203.24 110.8,203.25 111.3,203.27 111.8,203.29 112.3,203.31 112.8,203.32 113.3,203.34 113.8,203.36 114.3,203.38 114.8,203.39 115.3,203.41 115.8,203.43 116.3,203.45 116.8,203.46 117.3,203.48 117.8,203.5 118.3,203.52 118.8,203.53 119.3,203.55 119.8,203.57 120.3,203.58 120.8,203.58 121.3,203.59 121.8,203.6 122.3,203.6 122.8,203.61 123.3,203.62 123.8,203.62 124.3,203.63 124.8,203.63 125.3,203.64 125.8,203.65 126.3,203.65 126.8,203.66 127.3,203.66 127.8,203.67 128.3,203.68 128.8,203.68 129.3,203.69 129.8,203.69 130.3,203.7 130.8,203.71 131.3,203.71 131.8,203.72 132.3,203.72 132.8,203.73 133.3,203.74 133.8,203.74 134.3,203.75 134.8,203.75 135.3,203.76 135.8,203.76 136.3,203.76 136.8,203.76 137.3,203.77 137.8,203.77 138.3,203.77 138.8,203.78 139.3,203.78 139.8,203.78 140.3,203.79 140.8,203.79 141.3,203.79 141.8,203.79 142.3,203.8 142.8,203.8 143.3,203.8 143.8,203.81 144.3,203.81 144.8,203.81 145.3,203.82 145.8,203.82 146.3,203.82 146.8,203.82 147.3,203.83 147.8,203.83 148.3,203.83 148.8,203.84 149.3,203.84 149.8,203.84 150.3,203.84 150.8,203.85 151.3,203.85 151.8,203.85 152.3,203.86 152.8,203.86 153.3,203.86 153.8,203.87 154.3,203.87 154.8,203.87 155.3,203.87 155.8,203.88 156.3,203.88 156.8,203.88 157.3,203.89 157.8,203.89 158.3,203.89 158.8,203.9 159.3,203.9 159.8,203.9 160.3,203.9 160.8,203.91 161.3,203.91 161.8,203.91 162.3,203.92 162.8,203.92 163.3,203.92 163.8,203.93 164.3,203.93 164.8,203.93 165.3,203.93 165.8,203.94 166.3,203.94 166.8,203.94 167.3,203.95 167.8,203.95 168.3,203.95 168.8,203.96 169.3,203.96 169.8,203.96 170.3,203.96 170.8,203.97 171.3,203.97 171.8,203.97 172.3,203.98 172.8,203.98 173.3,203.98 173.8,203.99 174.3,203.99 174.8,203.99 175.3,203.99 175.8,204 176.3,204 176.8,204 177.3,204.01 177.8,204.01 178.3,204.01" fill="none" stroke="url(#fd882)" stroke-width="0.45" stroke-linejoin="round" />
<line x1="88.2" y1="208.3" x2="178.4" y2="208.3" stroke="#0b0bf5" stroke-width="1.2" />
<polyline points="188.2,207.6 192.5,207.6 192.8,204.3 193.2,207.6 195,207.6" fill="none" stroke="#000" stroke-width="0.9" stroke-linejoin="round" />
<path d="M195,207.6 L195,207.6 L195.25,199.1 L195.5,193.53 L195.75,192.34 L196,192.24 L196.25,192.41 L196.5,192.58 L196.75,192.76 L197,192.93 L197.25,193.1 L197.5,193.27 L197.75,193.45 L198,193.62 L198.25,193.79 L198.5,193.96 L198.75,194.14 L199,194.31 L199.25,194.48 L199.5,194.65 L199.75,194.83 L200,195 L200.25,195.12 L200.5,195.23 L200.75,195.34 L201,195.46 L201.25,195.57 L201.5,195.69 L201.75,195.81 L202,195.92 L202.25,196.03 L202.5,196.15 L202.75,196.27 L203,196.38 L203.25,196.5 L203.5,196.61 L203.75,196.73 L204,196.84 L204.25,196.96 L204.5,197.07 L204.75,197.19 L205,197.3 L205.25,197.36 L205.5,197.41 L205.75,197.47 L206,197.53 L206.25,197.59 L206.5,197.64 L206.75,197.7 L207,197.76 L207.25,197.82 L207.5,197.87 L207.75,197.93 L208,197.99 L208.25,198.05 L208.5,198.1 L208.75,198.16 L209,198.22 L209.25,198.28 L209.5,198.33 L209.75,198.39 L210,198.45 L210.25,198.51 L210.5,198.56 L210.75,198.62 L211,198.68 L211.25,198.74 L211.5,198.79 L211.75,198.85 L212,198.91 L212.25,198.97 L212.5,199.01 L212.75,199.02 L213,199.04 L213.25,199.06 L213.5,199.07 L213.75,199.09 L214,199.11 L214.25,199.13 L214.5,199.14 L214.75,199.16 L215,199.18 L215.25,199.19 L215.5,199.21 L215.75,199.23 L216,199.25 L216.25,199.26 L216.5,199.28 L216.75,199.3 L217,199.31 L217.25,199.33 L217.5,199.35 L217.75,199.36 L218,199.38 L218.25,199.4 L218.5,199.42 L218.75,199.43 L219,199.45 L219.25,199.47 L219.5,199.48 L219.75,199.5 L220,199.52 L220.25,199.54 L220.5,199.55 L220.75,199.57 L221,199.59 L221.25,199.6 L221.5,199.62 L221.75,199.64 L222,199.65 L222.25,199.67 L222.5,199.69 L222.75,199.71 L223,199.72 L223.25,199.74 L223.5,199.76 L223.75,199.77 L224,199.79 L224.25,199.81 L224.5,199.82 L224.75,199.84 L225,199.86 L225.25,199.88 L225.5,199.89 L225.75,199.91 L226,199.93 L226.25,199.94 L226.5,199.96 L226.75,199.98 L227,200 L227.25,200.01 L227.5,200.03 L227.75,200.05 L228,200.06 L228.25,200.08 L228.5,200.1 L228.75,200.11 L229,200.13 L229.25,200.15 L229.5,200.17 L229.75,200.18 L230,200.2 L230.25,200.21 L230.5,200.21 L230.75,200.22 L231,200.23 L231.25,200.23 L231.5,200.24 L231.75,200.25 L232,200.26 L232.25,200.26 L232.5,200.27 L232.75,200.28 L233,200.28 L233.25,200.29 L233.5,200.3 L233.75,200.3 L234,200.31 L234.25,200.32 L234.5,200.32 L234.75,200.33 L235,200.34 L235.25,200.35 L235.5,200.35 L235.75,200.36 L236,200.37 L236.25,200.37 L236.5,200.38 L236.75,200.39 L237,200.39 L237.25,200.4 L237.5,200.41 L237.75,200.42 L238,200.42 L238.25,200.43 L238.5,200.44 L238.75,200.44 L239,200.45 L239.25,200.46 L239.5,200.46 L239.75,200.47 L240,200.48 L240.25,200.48 L240.5,200.49 L240.75,200.5 L241,200.51 L241.25,200.51 L241.5,200.52 L241.75,200.53 L242,200.53 L242.25,200.54 L242.5,200.55 L242.75,200.55 L243,200.56 L243.25,200.57 L243.5,200.57 L243.75,200.58 L244,200.59 L244.25,200.6 L244.5,200.6 L244.75,200.61 L245,200.62 L245.25,200.63 L245.5,200.64 L245.75,200.65 L246,200.66 L246.25,200.67 L246.5,200.68 L246.75,200.69 L247,200.7 L247.25,200.7 L247.5,200.71 L247.75,200.72 L248,200.73 L248.25,200.74 L248.5,200.75 L248.75,200.76 L249,200.77 L249.25,200.78 L249.5,200.79 L249.75,200.8 L250,200.81 L250.25,200.81 L250.5,200.82 L250.75,200.83 L251,200.84 L251.25,200.85 L251.5,200.86 L251.75,200.87 L252,200.88 L252.25,200.89 L252.5,200.9 L252.75,200.91 L253,200.92 L253.25,200.92 L253.5,200.93 L253.75,200.94 L254,200.95 L254.25,200.96 L254.5,200.97 L254.75,200.98 L255,200.99 L255.25,201 L255.5,201.01 L255.75,201.02 L256,201.03 L256.25,201.03 L256.5,201.04 L256.75,201.05 L257,201.06 L257.25,201.07 L257.5,201.08 L257.75,201.09 L258,201.1 L258.25,201.11 L258.5,201.12 L258.75,201.13 L259,201.14 L259.25,201.14 L259.5,201.15 L259.75,201.16 L260,201.17 L260.25,201.18 L260.5,201.19 L260.75,201.2 L261,201.21 L261.25,201.22 L261.5,201.23 L261.75,201.24 L262,201.25 L262.25,201.25 L262.5,201.26 L262.75,201.27 L263,201.28 L263.25,201.29 L263.5,201.3 L263.75,201.31 L264,201.32 L264.25,201.33 L264.5,201.34 L264.75,201.35 L265,201.36 L265.25,201.36 L265.5,201.37 L265.75,201.38 L266,201.39 L266.25,201.4 L266.5,201.41 L266.75,201.42 L267,201.43 L267.25,201.44 L267.5,201.45 L267.75,201.46 L268,201.47 L268.25,201.47 L268.5,201.48 L268.75,201.49 L269,201.5 L269.25,201.51 L269.5,201.52 L269.75,201.53 L270,201.54 L270.25,201.55 L270.5,201.56 L270.75,201.57 L271,201.58 L271.25,201.58 L271.5,201.59 L271.75,201.6 L272,201.61 L272.25,201.62 L272.5,201.63 L272.75,201.64 L273,201.65 L273.25,201.66 L273.5,201.67 L273.75,201.68 L274,201.69 L274.25,201.69 L274.5,201.7 L274.75,201.71 L275,201.72 L275.25,201.73 L275.5,201.74 L275.75,201.75 L276,201.76 L276.25,201.77 L276.5,201.78 L276.75,201.79 L277,201.8 L277.25,201.8 L277.5,201.81 L277.75,201.82 L278,201.83 L278.25,201.84 L278.5,201.85 L278.75,201.86 L279,201.87 L279.25,201.88 L279.5,201.89 L279.75,201.9 L280,201.91 L280.25,201.91 L280.5,201.92 L280.75,201.93 L281,201.94 L281.25,201.95 L281.5,201.96 L281.75,201.97 L282,201.98 L282.25,201.99 L282.5,202 L282.75,202.01 L283,202.02 L283.25,202.02 L283.5,202.03 L283.75,202.04 L284,202.05 L284.25,202.06 L284.5,202.07 L284.75,202.08 L285,202.09 L285.25,202.1 L285.3,207.6 Z" fill="#000" stroke="#000" stroke-width="0.7" stroke-linejoin="round"/>
<defs><linearGradient id="fadeK" gradientUnits="userSpaceOnUse" x1="195" y1="0" x2="270" y2="0"><stop offset="0" stop-color="#fff" stop-opacity="1"/><stop offset="0.35" stop-color="#fff" stop-opacity="0.6"/><stop offset="1" stop-color="#fff" stop-opacity="0.12"/></linearGradient></defs>
<polyline points="195.6,205.98 196.1,205.9 196.6,205.94 197.1,205.98 197.6,206.02 198.1,206.05 198.6,206.09 199.1,206.13 199.6,206.17 200.1,206.21 200.6,206.23 201.1,206.26 201.6,206.28 202.1,206.31 202.6,206.33 203.1,206.36 203.6,206.38 204.1,206.41 204.6,206.44 205.1,206.46 205.6,206.47 206.1,206.48 206.6,206.5 207.1,206.51 207.6,206.52 208.1,206.53 208.6,206.55 209.1,206.56 209.6,206.57 210.1,206.59 210.6,206.6 211.1,206.61 211.6,206.62 212.1,206.64 212.6,206.65 213.1,206.65 213.6,206.65 214.1,206.66 214.6,206.66 215.1,206.66 215.6,206.67 216.1,206.67 216.6,206.68 217.1,206.68 217.6,206.68 218.1,206.69 218.6,206.69 219.1,206.7 219.6,206.7 220.1,206.7 220.6,206.71 221.1,206.71 221.6,206.71 222.1,206.72 222.6,206.72 223.1,206.73 223.6,206.73 224.1,206.73 224.6,206.74 225.1,206.74 225.6,206.74 226.1,206.75 226.6,206.75 227.1,206.76 227.6,206.76 228.1,206.76 228.6,206.77 229.1,206.77 229.6,206.77 230.1,206.78 230.6,206.78 231.1,206.78 231.6,206.78 232.1,206.78 232.6,206.79 233.1,206.79 233.6,206.79 234.1,206.79 234.6,206.79 235.1,206.79 235.6,206.8 236.1,206.8 236.6,206.8 237.1,206.8 237.6,206.8 238.1,206.8 238.6,206.8 239.1,206.81 239.6,206.81 240.1,206.81 240.6,206.81 241.1,206.81 241.6,206.81 242.1,206.82 242.6,206.82 243.1,206.82 243.6,206.82 244.1,206.82 244.6,206.82 245.1,206.83 245.6,206.83 246.1,206.83 246.6,206.83 247.1,206.83 247.6,206.84 248.1,206.84 248.6,206.84 249.1,206.84 249.6,206.84 250.1,206.85 250.6,206.85 251.1,206.85 251.6,206.85 252.1,206.85 252.6,206.86 253.1,206.86 253.6,206.86 254.1,206.86 254.6,206.86 255.1,206.87 255.6,206.87 256.1,206.87 256.6,206.87 257.1,206.87 257.6,206.88 258.1,206.88 258.6,206.88 259.1,206.88 259.6,206.88 260.1,206.89 260.6,206.89 261.1,206.89 261.6,206.89 262.1,206.89 262.6,206.9 263.1,206.9 263.6,206.9 264.1,206.9 264.6,206.9 265.1,206.91 265.6,206.91 266.1,206.91 266.6,206.91 267.1,206.91 267.6,206.92 268.1,206.92 268.6,206.92 269.1,206.92 269.6,206.92 270.1,206.93 270.6,206.93 271.1,206.93 271.6,206.93 272.1,206.94 272.6,206.94 273.1,206.94 273.6,206.94 274.1,206.94 274.6,206.95 275.1,206.95 275.6,206.95 276.1,206.95 276.6,206.95 277.1,206.96 277.6,206.96 278.1,206.96 278.6,206.96 279.1,206.96 279.6,206.97 280.1,206.97 280.6,206.97 281.1,206.97 281.6,206.97 282.1,206.98 282.6,206.98 283.1,206.98 283.6,206.98 284.1,206.98 284.6,206.99 285.1,206.99" fill="none" stroke="url(#fadeK)" stroke-width="0.6" stroke-linejoin="round" />
<polyline points="195.6,204.37 196.1,204.2 196.6,204.28 197.1,204.36 197.6,204.43 198.1,204.51 198.6,204.59 199.1,204.66 199.6,204.74 200.1,204.81 200.6,204.86 201.1,204.91 201.6,204.96 202.1,205.01 202.6,205.07 203.1,205.12 203.6,205.17 204.1,205.22 204.6,205.27 205.1,205.32 205.6,205.34 206.1,205.37 206.6,205.39 207.1,205.42 207.6,205.44 208.1,205.47 208.6,205.49 209.1,205.52 209.6,205.55 210.1,205.57 210.6,205.6 211.1,205.62 211.6,205.65 212.1,205.67 212.6,205.69 213.1,205.7 213.6,205.71 214.1,205.71 214.6,205.72 215.1,205.73 215.6,205.74 216.1,205.74 216.6,205.75 217.1,205.76 217.6,205.77 218.1,205.78 218.6,205.78 219.1,205.79 219.6,205.8 220.1,205.81 220.6,205.81 221.1,205.82 221.6,205.83 222.1,205.84 222.6,205.84 223.1,205.85 223.6,205.86 224.1,205.87 224.6,205.87 225.1,205.88 225.6,205.89 226.1,205.9 226.6,205.9 227.1,205.91 227.6,205.92 228.1,205.93 228.6,205.93 229.1,205.94 229.6,205.95 230.1,205.96 230.6,205.96 231.1,205.96 231.6,205.97 232.1,205.97 232.6,205.97 233.1,205.97 233.6,205.98 234.1,205.98 234.6,205.98 235.1,205.99 235.6,205.99 236.1,205.99 236.6,206 237.1,206 237.6,206 238.1,206.01 238.6,206.01 239.1,206.01 239.6,206.01 240.1,206.02 240.6,206.02 241.1,206.02 241.6,206.03 242.1,206.03 242.6,206.03 243.1,206.04 243.6,206.04 244.1,206.04 244.6,206.05 245.1,206.05 245.6,206.05 246.1,206.06 246.6,206.06 247.1,206.07 247.6,206.07 248.1,206.07 248.6,206.08 249.1,206.08 249.6,206.09 250.1,206.09 250.6,206.09 251.1,206.1 251.6,206.1 252.1,206.11 252.6,206.11 253.1,206.12 253.6,206.12 254.1,206.12 254.6,206.13 255.1,206.13 255.6,206.14 256.1,206.14 256.6,206.14 257.1,206.15 257.6,206.15 258.1,206.16 258.6,206.16 259.1,206.16 259.6,206.17 260.1,206.17 260.6,206.18 261.1,206.18 261.6,206.18 262.1,206.19 262.6,206.19 263.1,206.2 263.6,206.2 264.1,206.2 264.6,206.21 265.1,206.21 265.6,206.22 266.1,206.22 266.6,206.23 267.1,206.23 267.6,206.23 268.1,206.24 268.6,206.24 269.1,206.25 269.6,206.25 270.1,206.25 270.6,206.26 271.1,206.26 271.6,206.27 272.1,206.27 272.6,206.27 273.1,206.28 273.6,206.28 274.1,206.29 274.6,206.29 275.1,206.29 275.6,206.3 276.1,206.3 276.6,206.31 277.1,206.31 277.6,206.32 278.1,206.32 278.6,206.32 279.1,206.33 279.6,206.33 280.1,206.34 280.6,206.34 281.1,206.34 281.6,206.35 282.1,206.35 282.6,206.36 283.1,206.36 283.6,206.36 284.1,206.37 284.6,206.37 285.1,206.38" fill="none" stroke="url(#fadeK)" stroke-width="0.6" stroke-linejoin="round" />
<polyline points="195.6,202.75 196.1,202.5 196.6,202.62 197.1,202.73 197.6,202.85 198.1,202.96 198.6,203.08 199.1,203.19 199.6,203.31 200.1,203.42 200.6,203.49 201.1,203.57 201.6,203.65 202.1,203.72 202.6,203.8 203.1,203.88 203.6,203.95 204.1,204.03 204.6,204.11 205.1,204.17 205.6,204.21 206.1,204.25 206.6,204.29 207.1,204.33 207.6,204.37 208.1,204.4 208.6,204.44 209.1,204.48 209.6,204.52 210.1,204.56 210.6,204.6 211.1,204.63 211.6,204.67 212.1,204.71 212.6,204.74 213.1,204.75 213.6,204.76 214.1,204.77 214.6,204.78 215.1,204.79 215.6,204.81 216.1,204.82 216.6,204.83 217.1,204.84 217.6,204.85 218.1,204.86 218.6,204.87 219.1,204.89 219.6,204.9 220.1,204.91 220.6,204.92 221.1,204.93 221.6,204.94 222.1,204.95 222.6,204.97 223.1,204.98 223.6,204.99 224.1,205 224.6,205.01 225.1,205.02 225.6,205.03 226.1,205.04 226.6,205.06 227.1,205.07 227.6,205.08 228.1,205.09 228.6,205.1 229.1,205.11 229.6,205.12 230.1,205.13 230.6,205.14 231.1,205.14 231.6,205.15 232.1,205.15 232.6,205.16 233.1,205.16 233.6,205.17 234.1,205.17 234.6,205.18 235.1,205.18 235.6,205.19 236.1,205.19 236.6,205.19 237.1,205.2 237.6,205.2 238.1,205.21 238.6,205.21 239.1,205.22 239.6,205.22 240.1,205.23 240.6,205.23 241.1,205.24 241.6,205.24 242.1,205.25 242.6,205.25 243.1,205.25 243.6,205.26 244.1,205.26 244.6,205.27 245.1,205.28 245.6,205.28 246.1,205.29 246.6,205.29 247.1,205.3 247.6,205.31 248.1,205.31 248.6,205.32 249.1,205.32 249.6,205.33 250.1,205.34 250.6,205.34 251.1,205.35 251.6,205.35 252.1,205.36 252.6,205.37 253.1,205.37 253.6,205.38 254.1,205.39 254.6,205.39 255.1,205.4 255.6,205.4 256.1,205.41 256.6,205.42 257.1,205.42 257.6,205.43 258.1,205.43 258.6,205.44 259.1,205.45 259.6,205.45 260.1,205.46 260.6,205.46 261.1,205.47 261.6,205.48 262.1,205.48 262.6,205.49 263.1,205.5 263.6,205.5 264.1,205.51 264.6,205.51 265.1,205.52 265.6,205.53 266.1,205.53 266.6,205.54 267.1,205.54 267.6,205.55 268.1,205.56 268.6,205.56 269.1,205.57 269.6,205.57 270.1,205.58 270.6,205.59 271.1,205.59 271.6,205.6 272.1,205.61 272.6,205.61 273.1,205.62 273.6,205.62 274.1,205.63 274.6,205.64 275.1,205.64 275.6,205.65 276.1,205.65 276.6,205.66 277.1,205.67 277.6,205.67 278.1,205.68 278.6,205.68 279.1,205.69 279.6,205.7 280.1,205.7 280.6,205.71 281.1,205.72 281.6,205.72 282.1,205.73 282.6,205.73 283.1,205.74 283.6,205.75 284.1,205.75 284.6,205.76 285.1,205.76" fill="none" stroke="url(#fadeK)" stroke-width="0.6" stroke-linejoin="round" />
<polyline points="195.6,201.13 196.1,200.8 196.6,200.96 197.1,201.11 197.6,201.26 198.1,201.42 198.6,201.57 199.1,201.72 199.6,201.88 200.1,202.02 200.6,202.12 201.1,202.22 201.6,202.33 202.1,202.43 202.6,202.53 203.1,202.63 203.6,202.74 204.1,202.84 204.6,202.94 205.1,203.03 205.6,203.08 206.1,203.13 206.6,203.19 207.1,203.24 207.6,203.29 208.1,203.34 208.6,203.39 209.1,203.44 209.6,203.49 210.1,203.54 210.6,203.59 211.1,203.65 211.6,203.7 212.1,203.75 212.6,203.78 213.1,203.8 213.6,203.81 214.1,203.83 214.6,203.84 215.1,203.86 215.6,203.87 216.1,203.89 216.6,203.91 217.1,203.92 217.6,203.94 218.1,203.95 218.6,203.97 219.1,203.98 219.6,204 220.1,204.01 220.6,204.03 221.1,204.04 221.6,204.06 222.1,204.07 222.6,204.09 223.1,204.1 223.6,204.12 224.1,204.13 224.6,204.15 225.1,204.16 225.6,204.18 226.1,204.19 226.6,204.21 227.1,204.22 227.6,204.24 228.1,204.25 228.6,204.27 229.1,204.28 229.6,204.3 230.1,204.31 230.6,204.32 231.1,204.32 231.6,204.33 232.1,204.34 232.6,204.34 233.1,204.35 233.6,204.36 234.1,204.36 234.6,204.37 235.1,204.37 235.6,204.38 236.1,204.39 236.6,204.39 237.1,204.4 237.6,204.4 238.1,204.41 238.6,204.42 239.1,204.42 239.6,204.43 240.1,204.44 240.6,204.44 241.1,204.45 241.6,204.45 242.1,204.46 242.6,204.47 243.1,204.47 243.6,204.48 244.1,204.49 244.6,204.49 245.1,204.5 245.6,204.51 246.1,204.52 246.6,204.52 247.1,204.53 247.6,204.54 248.1,204.55 248.6,204.56 249.1,204.57 249.6,204.57 250.1,204.58 250.6,204.59 251.1,204.6 251.6,204.61 252.1,204.61 252.6,204.62 253.1,204.63 253.6,204.64 254.1,204.65 254.6,204.66 255.1,204.66 255.6,204.67 256.1,204.68 256.6,204.69 257.1,204.7 257.6,204.7 258.1,204.71 258.6,204.72 259.1,204.73 259.6,204.74 260.1,204.74 260.6,204.75 261.1,204.76 261.6,204.77 262.1,204.78 262.6,204.79 263.1,204.79 263.6,204.8 264.1,204.81 264.6,204.82 265.1,204.83 265.6,204.83 266.1,204.84 266.6,204.85 267.1,204.86 267.6,204.87 268.1,204.88 268.6,204.88 269.1,204.89 269.6,204.9 270.1,204.91 270.6,204.92 271.1,204.92 271.6,204.93 272.1,204.94 272.6,204.95 273.1,204.96 273.6,204.96 274.1,204.97 274.6,204.98 275.1,204.99 275.6,205 276.1,205.01 276.6,205.01 277.1,205.02 277.6,205.03 278.1,205.04 278.6,205.05 279.1,205.05 279.6,205.06 280.1,205.07 280.6,205.08 281.1,205.09 281.6,205.1 282.1,205.1 282.6,205.11 283.1,205.12 283.6,205.13 284.1,205.14 284.6,205.14 285.1,205.15" fill="none" stroke="url(#fadeK)" stroke-width="0.6" stroke-linejoin="round" />
<polyline points="195.6,199.52 196.1,199.1 196.6,199.3 197.1,199.49 197.6,199.68 198.1,199.87 198.6,200.06 199.1,200.25 199.6,200.45 200.1,200.63 200.6,200.75 201.1,200.88 201.6,201.01 202.1,201.14 202.6,201.26 203.1,201.39 203.6,201.52 204.1,201.65 204.6,201.78 205.1,201.89 205.6,201.95 206.1,202.02 206.6,202.08 207.1,202.15 207.6,202.21 208.1,202.27 208.6,202.34 209.1,202.4 209.6,202.46 210.1,202.53 210.6,202.59 211.1,202.66 211.6,202.72 212.1,202.78 212.6,202.83 213.1,202.85 213.6,202.87 214.1,202.89 214.6,202.91 215.1,202.92 215.6,202.94 216.1,202.96 216.6,202.98 217.1,203 217.6,203.02 218.1,203.04 218.6,203.06 219.1,203.08 219.6,203.09 220.1,203.11 220.6,203.13 221.1,203.15 221.6,203.17 222.1,203.19 222.6,203.21 223.1,203.23 223.6,203.25 224.1,203.27 224.6,203.28 225.1,203.3 225.6,203.32 226.1,203.34 226.6,203.36 227.1,203.38 227.6,203.4 228.1,203.42 228.6,203.44 229.1,203.45 229.6,203.47 230.1,203.49 230.6,203.5 231.1,203.51 231.6,203.51 232.1,203.52 232.6,203.53 233.1,203.54 233.6,203.54 234.1,203.55 234.6,203.56 235.1,203.57 235.6,203.58 236.1,203.58 236.6,203.59 237.1,203.6 237.6,203.61 238.1,203.61 238.6,203.62 239.1,203.63 239.6,203.64 240.1,203.64 240.6,203.65 241.1,203.66 241.6,203.67 242.1,203.68 242.6,203.68 243.1,203.69 243.6,203.7 244.1,203.71 244.6,203.72 245.1,203.73 245.6,203.74 246.1,203.75 246.6,203.76 247.1,203.77 247.6,203.78 248.1,203.79 248.6,203.8 249.1,203.81 249.6,203.82 250.1,203.83 250.6,203.84 251.1,203.85 251.6,203.86 252.1,203.87 252.6,203.88 253.1,203.89 253.6,203.9 254.1,203.91 254.6,203.92 255.1,203.93 255.6,203.94 256.1,203.95 256.6,203.96 257.1,203.97 257.6,203.98 258.1,203.99 258.6,204 259.1,204.01 259.6,204.02 260.1,204.03 260.6,204.04 261.1,204.05 261.6,204.06 262.1,204.07 262.6,204.08 263.1,204.09 263.6,204.1 264.1,204.11 264.6,204.12 265.1,204.13 265.6,204.14 266.1,204.15 266.6,204.16 267.1,204.17 267.6,204.18 268.1,204.19 268.6,204.2 269.1,204.21 269.6,204.22 270.1,204.23 270.6,204.24 271.1,204.26 271.6,204.27 272.1,204.28 272.6,204.29 273.1,204.3 273.6,204.31 274.1,204.32 274.6,204.33 275.1,204.34 275.6,204.35 276.1,204.36 276.6,204.37 277.1,204.38 277.6,204.39 278.1,204.4 278.6,204.41 279.1,204.42 279.6,204.43 280.1,204.44 280.6,204.45 281.1,204.46 281.6,204.47 282.1,204.48 282.6,204.49 283.1,204.5 283.6,204.51 284.1,204.52 284.6,204.53 285.1,204.54" fill="none" stroke="url(#fadeK)" stroke-width="0.6" stroke-linejoin="round" />
<polyline points="195.6,197.9 196.1,197.4 196.6,197.63 197.1,197.87 197.6,198.1 198.1,198.33 198.6,198.56 199.1,198.79 199.6,199.02 200.1,199.23 200.6,199.38 201.1,199.54 201.6,199.69 202.1,199.84 202.6,200 203.1,200.15 203.6,200.3 204.1,200.46 204.6,200.61 205.1,200.75 205.6,200.83 206.1,200.9 206.6,200.98 207.1,201.05 207.6,201.13 208.1,201.21 208.6,201.28 209.1,201.36 209.6,201.44 210.1,201.51 210.6,201.59 211.1,201.67 211.6,201.74 212.1,201.82 212.6,201.88 213.1,201.9 213.6,201.92 214.1,201.94 214.6,201.97 215.1,201.99 215.6,202.01 216.1,202.03 216.6,202.06 217.1,202.08 217.6,202.1 218.1,202.13 218.6,202.15 219.1,202.17 219.6,202.19 220.1,202.22 220.6,202.24 221.1,202.26 221.6,202.28 222.1,202.31 222.6,202.33 223.1,202.35 223.6,202.38 224.1,202.4 224.6,202.42 225.1,202.44 225.6,202.47 226.1,202.49 226.6,202.51 227.1,202.53 227.6,202.56 228.1,202.58 228.6,202.6 229.1,202.63 229.6,202.65 230.1,202.67 230.6,202.68 231.1,202.69 231.6,202.7 232.1,202.71 232.6,202.71 233.1,202.72 233.6,202.73 234.1,202.74 234.6,202.75 235.1,202.76 235.6,202.77 236.1,202.78 236.6,202.79 237.1,202.8 237.6,202.81 238.1,202.82 238.6,202.83 239.1,202.84 239.6,202.84 240.1,202.85 240.6,202.86 241.1,202.87 241.6,202.88 242.1,202.89 242.6,202.9 243.1,202.91 243.6,202.92 244.1,202.93 244.6,202.94 245.1,202.95 245.6,202.96 246.1,202.97 246.6,202.99 247.1,203 247.6,203.01 248.1,203.02 248.6,203.04 249.1,203.05 249.6,203.06 250.1,203.07 250.6,203.08 251.1,203.1 251.6,203.11 252.1,203.12 252.6,203.13 253.1,203.15 253.6,203.16 254.1,203.17 254.6,203.18 255.1,203.19 255.6,203.21 256.1,203.22 256.6,203.23 257.1,203.24 257.6,203.26 258.1,203.27 258.6,203.28 259.1,203.29 259.6,203.3 260.1,203.32 260.6,203.33 261.1,203.34 261.6,203.35 262.1,203.37 262.6,203.38 263.1,203.39 263.6,203.4 264.1,203.41 264.6,203.43 265.1,203.44 265.6,203.45 266.1,203.46 266.6,203.48 267.1,203.49 267.6,203.5 268.1,203.51 268.6,203.53 269.1,203.54 269.6,203.55 270.1,203.56 270.6,203.57 271.1,203.59 271.6,203.6 272.1,203.61 272.6,203.62 273.1,203.64 273.6,203.65 274.1,203.66 274.6,203.67 275.1,203.68 275.6,203.7 276.1,203.71 276.6,203.72 277.1,203.73 277.6,203.75 278.1,203.76 278.6,203.77 279.1,203.78 279.6,203.79 280.1,203.81 280.6,203.82 281.1,203.83 281.6,203.84 282.1,203.86 282.6,203.87 283.1,203.88 283.6,203.89 284.1,203.9 284.6,203.92 285.1,203.93" fill="none" stroke="url(#fadeK)" stroke-width="0.6" stroke-linejoin="round" />
<polyline points="195.6,196.28 196.1,195.71 196.6,195.97 197.1,196.24 197.6,196.51 198.1,196.78 198.6,197.05 199.1,197.32 199.6,197.59 200.1,197.84 200.6,198.01 201.1,198.19 201.6,198.37 202.1,198.55 202.6,198.73 203.1,198.91 203.6,199.09 204.1,199.27 204.6,199.45 205.1,199.61 205.6,199.7 206.1,199.79 206.6,199.87 207.1,199.96 207.6,200.05 208.1,200.14 208.6,200.23 209.1,200.32 209.6,200.41 210.1,200.5 210.6,200.59 211.1,200.68 211.6,200.77 212.1,200.86 212.6,200.92 213.1,200.95 213.6,200.97 214.1,201 214.6,201.03 215.1,201.05 215.6,201.08 216.1,201.11 216.6,201.13 217.1,201.16 217.6,201.19 218.1,201.21 218.6,201.24 219.1,201.27 219.6,201.29 220.1,201.32 220.6,201.35 221.1,201.37 221.6,201.4 222.1,201.43 222.6,201.45 223.1,201.48 223.6,201.51 224.1,201.53 224.6,201.56 225.1,201.58 225.6,201.61 226.1,201.64 226.6,201.66 227.1,201.69 227.6,201.72 228.1,201.74 228.6,201.77 229.1,201.8 229.6,201.82 230.1,201.85 230.6,201.86 231.1,201.87 231.6,201.88 232.1,201.89 232.6,201.9 233.1,201.91 233.6,201.92 234.1,201.93 234.6,201.94 235.1,201.95 235.6,201.97 236.1,201.98 236.6,201.99 237.1,202 237.6,202.01 238.1,202.02 238.6,202.03 239.1,202.04 239.6,202.05 240.1,202.06 240.6,202.07 241.1,202.08 241.6,202.1 242.1,202.11 242.6,202.12 243.1,202.13 243.6,202.14 244.1,202.15 244.6,202.16 245.1,202.18 245.6,202.19 246.1,202.2 246.6,202.22 247.1,202.23 247.6,202.25 248.1,202.26 248.6,202.28 249.1,202.29 249.6,202.3 250.1,202.32 250.6,202.33 251.1,202.35 251.6,202.36 252.1,202.38 252.6,202.39 253.1,202.4 253.6,202.42 254.1,202.43 254.6,202.45 255.1,202.46 255.6,202.48 256.1,202.49 256.6,202.5 257.1,202.52 257.6,202.53 258.1,202.55 258.6,202.56 259.1,202.57 259.6,202.59 260.1,202.6 260.6,202.62 261.1,202.63 261.6,202.65 262.1,202.66 262.6,202.67 263.1,202.69 263.6,202.7 264.1,202.72 264.6,202.73 265.1,202.75 265.6,202.76 266.1,202.77 266.6,202.79 267.1,202.8 267.6,202.82 268.1,202.83 268.6,202.85 269.1,202.86 269.6,202.87 270.1,202.89 270.6,202.9 271.1,202.92 271.6,202.93 272.1,202.95 272.6,202.96 273.1,202.97 273.6,202.99 274.1,203 274.6,203.02 275.1,203.03 275.6,203.05 276.1,203.06 276.6,203.07 277.1,203.09 277.6,203.1 278.1,203.12 278.6,203.13 279.1,203.15 279.6,203.16 280.1,203.17 280.6,203.19 281.1,203.2 281.6,203.22 282.1,203.23 282.6,203.25 283.1,203.26 283.6,203.27 284.1,203.29 284.6,203.3 285.1,203.32" fill="none" stroke="url(#fadeK)" stroke-width="0.6" stroke-linejoin="round" />
<polyline points="195.6,194.67 196.1,194.01 196.6,194.31 197.1,194.62 197.6,194.93 198.1,195.23 198.6,195.54 199.1,195.85 199.6,196.15 200.1,196.44 200.6,196.65 201.1,196.85 201.6,197.05 202.1,197.26 202.6,197.46 203.1,197.67 203.6,197.87 204.1,198.08 204.6,198.28 205.1,198.46 205.6,198.57 206.1,198.67 206.6,198.77 207.1,198.87 207.6,198.98 208.1,199.08 208.6,199.18 209.1,199.28 209.6,199.38 210.1,199.49 210.6,199.59 211.1,199.69 211.6,199.79 212.1,199.89 212.6,199.97 213.1,200 213.6,200.03 214.1,200.06 214.6,200.09 215.1,200.12 215.6,200.15 216.1,200.18 216.6,200.21 217.1,200.24 217.6,200.27 218.1,200.3 218.6,200.33 219.1,200.36 219.6,200.39 220.1,200.42 220.6,200.45 221.1,200.48 221.6,200.51 222.1,200.54 222.6,200.57 223.1,200.6 223.6,200.63 224.1,200.66 224.6,200.69 225.1,200.73 225.6,200.76 226.1,200.79 226.6,200.82 227.1,200.85 227.6,200.88 228.1,200.91 228.6,200.94 229.1,200.97 229.6,201 230.1,201.02 230.6,201.04 231.1,201.05 231.6,201.06 232.1,201.07 232.6,201.09 233.1,201.1 233.6,201.11 234.1,201.12 234.6,201.14 235.1,201.15 235.6,201.16 236.1,201.17 236.6,201.19 237.1,201.2 237.6,201.21 238.1,201.22 238.6,201.23 239.1,201.25 239.6,201.26 240.1,201.27 240.6,201.28 241.1,201.3 241.6,201.31 242.1,201.32 242.6,201.33 243.1,201.35 243.6,201.36 244.1,201.37 244.6,201.38 245.1,201.4 245.6,201.42 246.1,201.43 246.6,201.45 247.1,201.47 247.6,201.48 248.1,201.5 248.6,201.51 249.1,201.53 249.6,201.55 250.1,201.56 250.6,201.58 251.1,201.6 251.6,201.61 252.1,201.63 252.6,201.65 253.1,201.66 253.6,201.68 254.1,201.69 254.6,201.71 255.1,201.73 255.6,201.74 256.1,201.76 256.6,201.78 257.1,201.79 257.6,201.81 258.1,201.82 258.6,201.84 259.1,201.86 259.6,201.87 260.1,201.89 260.6,201.91 261.1,201.92 261.6,201.94 262.1,201.95 262.6,201.97 263.1,201.99 263.6,202 264.1,202.02 264.6,202.04 265.1,202.05 265.6,202.07 266.1,202.09 266.6,202.1 267.1,202.12 267.6,202.13 268.1,202.15 268.6,202.17 269.1,202.18 269.6,202.2 270.1,202.22 270.6,202.23 271.1,202.25 271.6,202.26 272.1,202.28 272.6,202.3 273.1,202.31 273.6,202.33 274.1,202.35 274.6,202.36 275.1,202.38 275.6,202.39 276.1,202.41 276.6,202.43 277.1,202.44 277.6,202.46 278.1,202.48 278.6,202.49 279.1,202.51 279.6,202.53 280.1,202.54 280.6,202.56 281.1,202.57 281.6,202.59 282.1,202.61 282.6,202.62 283.1,202.64 283.6,202.66 284.1,202.67 284.6,202.69 285.1,202.7" fill="none" stroke="url(#fadeK)" stroke-width="0.6" stroke-linejoin="round" />
<line x1="195" y1="207.6" x2="285.3" y2="207.6" stroke="#000" stroke-width="1.2" />
<polyline points="83.4,286.8 87.7,286.8 88,282 88.4,286.8 90.4,286.8" fill="none" stroke="#f21010" stroke-width="0.9" stroke-linejoin="round" />
<path d="M90.4,286.8 L90.4,286.8 L90.65,269.4 L90.9,266.4 L91.15,267.67 L91.4,268.95 L91.65,270.22 L91.9,271.49 L92.15,272.47 L92.4,273.26 L92.65,274.04 L92.9,274.83 L93.15,275.61 L93.4,276.4 L93.65,276.65 L93.9,276.9 L94.15,277.15 L94.4,277.4 L94.65,277.65 L94.9,277.9 L95.15,278.15 L95.4,278.4 L95.65,278.65 L95.9,278.9 L96.15,279.06 L96.4,279.16 L96.65,279.25 L96.9,279.35 L97.15,279.45 L97.4,279.55 L97.65,279.64 L97.9,279.74 L98.15,279.84 L98.4,279.94 L98.65,280.03 L98.9,280.13 L99.15,280.23 L99.4,280.33 L99.65,280.42 L99.9,280.52 L100.15,280.61 L100.4,280.63 L100.65,280.66 L100.9,280.68 L101.15,280.71 L101.4,280.73 L101.65,280.76 L101.9,280.78 L102.15,280.81 L102.4,280.83 L102.65,280.86 L102.9,280.88 L103.15,280.91 L103.4,280.93 L103.65,280.96 L103.9,280.98 L104.15,281.01 L104.4,281.03 L104.65,281.06 L104.9,281.08 L105.15,281.11 L105.4,281.14 L105.65,281.16 L105.9,281.19 L106.15,281.21 L106.4,281.24 L106.65,281.26 L106.9,281.29 L107.15,281.31 L107.4,281.34 L107.65,281.36 L107.9,281.39 L108.15,281.41 L108.4,281.44 L108.65,281.46 L108.9,281.49 L109.15,281.51 L109.4,281.54 L109.65,281.56 L109.9,281.59 L110.15,281.61 L110.4,281.62 L110.65,281.63 L110.9,281.64 L111.15,281.65 L111.4,281.66 L111.65,281.68 L111.9,281.69 L112.15,281.7 L112.4,281.71 L112.65,281.72 L112.9,281.73 L113.15,281.75 L113.4,281.76 L113.65,281.77 L113.9,281.78 L114.15,281.79 L114.4,281.8 L114.65,281.81 L114.9,281.83 L115.15,281.84 L115.4,281.85 L115.65,281.86 L115.9,281.87 L116.15,281.88 L116.4,281.89 L116.65,281.91 L116.9,281.92 L117.15,281.93 L117.4,281.94 L117.65,281.95 L117.9,281.96 L118.15,281.98 L118.4,281.99 L118.65,282 L118.9,282.01 L119.15,282.02 L119.4,282.03 L119.65,282.04 L119.9,282.06 L120.15,282.07 L120.4,282.08 L120.65,282.09 L120.9,282.1 L121.15,282.11 L121.4,282.12 L121.65,282.14 L121.9,282.15 L122.15,282.16 L122.4,282.17 L122.65,282.18 L122.9,282.19 L123.15,282.21 L123.4,282.22 L123.65,282.23 L123.9,282.24 L124.15,282.25 L124.4,282.26 L124.65,282.27 L124.9,282.29 L125.15,282.3 L125.4,282.3 L125.65,282.31 L125.9,282.31 L126.15,282.31 L126.4,282.32 L126.65,282.32 L126.9,282.32 L127.15,282.33 L127.4,282.33 L127.65,282.34 L127.9,282.34 L128.15,282.34 L128.4,282.35 L128.65,282.35 L128.9,282.35 L129.15,282.36 L129.4,282.36 L129.65,282.36 L129.9,282.37 L130.15,282.37 L130.4,282.38 L130.65,282.38 L130.9,282.38 L131.15,282.39 L131.4,282.39 L131.65,282.39 L131.9,282.4 L132.15,282.4 L132.4,282.4 L132.65,282.41 L132.9,282.41 L133.15,282.42 L133.4,282.42 L133.65,282.42 L133.9,282.43 L134.15,282.43 L134.4,282.43 L134.65,282.44 L134.9,282.44 L135.15,282.44 L135.4,282.45 L135.65,282.45 L135.9,282.45 L136.15,282.46 L136.4,282.46 L136.65,282.47 L136.9,282.47 L137.15,282.47 L137.4,282.48 L137.65,282.48 L137.9,282.48 L138.15,282.49 L138.4,282.49 L138.65,282.49 L138.9,282.5 L139.15,282.5 L139.4,282.51 L139.65,282.51 L139.9,282.51 L140.15,282.52 L140.4,282.52 L140.65,282.52 L140.9,282.53 L141.15,282.53 L141.4,282.53 L141.65,282.54 L141.9,282.54 L142.15,282.55 L142.4,282.55 L142.65,282.55 L142.9,282.56 L143.15,282.56 L143.4,282.56 L143.65,282.57 L143.9,282.57 L144.15,282.57 L144.4,282.58 L144.65,282.58 L144.9,282.58 L145.15,282.59 L145.4,282.59 L145.65,282.6 L145.9,282.6 L146.15,282.6 L146.4,282.61 L146.65,282.61 L146.9,282.61 L147.15,282.62 L147.4,282.62 L147.65,282.62 L147.9,282.63 L148.15,282.63 L148.4,282.64 L148.65,282.64 L148.9,282.64 L149.15,282.65 L149.4,282.65 L149.65,282.65 L149.9,282.66 L150.15,282.66 L150.4,282.66 L150.65,282.67 L150.9,282.67 L151.15,282.68 L151.4,282.68 L151.65,282.68 L151.9,282.69 L152.15,282.69 L152.4,282.69 L152.65,282.7 L152.9,282.7 L153.15,282.7 L153.4,282.71 L153.65,282.71 L153.9,282.72 L154.15,282.72 L154.4,282.72 L154.65,282.73 L154.9,282.73 L155.15,282.73 L155.4,282.74 L155.65,282.74 L155.9,282.74 L156.15,282.75 L156.4,282.75 L156.65,282.75 L156.9,282.76 L157.15,282.76 L157.4,282.77 L157.65,282.77 L157.9,282.77 L158.15,282.78 L158.4,282.78 L158.65,282.78 L158.9,282.79 L159.15,282.79 L159.4,282.79 L159.65,282.8 L159.9,282.8 L160.15,282.81 L160.4,282.81 L160.65,282.81 L160.9,282.82 L161.15,282.82 L161.4,282.82 L161.65,282.83 L161.9,282.83 L162.15,282.83 L162.4,282.84 L162.65,282.84 L162.9,282.85 L163.15,282.85 L163.4,282.85 L163.65,282.86 L163.9,282.86 L164.15,282.86 L164.4,282.87 L164.65,282.87 L164.9,282.87 L165.15,282.88 L165.4,282.88 L165.65,282.89 L165.9,282.89 L166.15,282.89 L166.4,282.9 L166.65,282.9 L166.9,282.9 L167.15,282.91 L167.4,282.91 L167.65,282.91 L167.9,282.92 L168.15,282.92 L168.4,282.92 L168.65,282.93 L168.9,282.93 L169.15,282.94 L169.4,282.94 L169.65,282.94 L169.9,282.95 L170.15,282.95 L170.4,282.95 L170.65,282.96 L170.9,282.96 L171.15,282.96 L171.4,282.97 L171.65,282.97 L171.9,282.98 L172.15,282.98 L172.4,282.98 L172.65,282.99 L172.9,282.99 L173.15,282.99 L173.4,283 L173.65,283 L173.9,283 L174.15,283.01 L174.4,283.01 L174.65,283.02 L174.9,283.02 L175.15,283.02 L175.4,283.03 L175.65,283.03 L175.9,283.03 L176.15,283.04 L176.4,283.04 L176.65,283.04 L176.9,283.05 L177.15,283.05 L177.4,283.06 L177.65,283.06 L177.9,283.06 L178.15,283.07 L178.4,283.07 L178.65,283.07 L178.9,283.08 L179.15,283.08 L179.4,283.08 L179.65,283.09 L179.9,283.09 L180.15,283.09 L180.4,283.1 L180.5,286.8 Z" fill="#f21010" stroke="#f21010" stroke-width="0.8" stroke-linejoin="round"/>
<defs><linearGradient id="fd904" gradientUnits="userSpaceOnUse" x1="90.4" y1="0" x2="150.4" y2="0"><stop offset="0" stop-color="#fff" stop-opacity="0.85"/><stop offset="0.4" stop-color="#fff" stop-opacity="0.42"/><stop offset="1" stop-color="#fff" stop-opacity="0.05"/></linearGradient></defs>
<polyline points="91,284.31 91.5,284.63 92,284.95 92.5,285.15 93,285.34 93.5,285.51 94,285.57 94.5,285.64 95,285.7 95.5,285.76 96,285.82 96.5,285.85 97,285.87 97.5,285.9 98,285.92 98.5,285.95 99,285.97 99.5,286 100,286.02 100.5,286.03 101,286.04 101.5,286.04 102,286.05 102.5,286.06 103,286.06 103.5,286.07 104,286.07 104.5,286.08 105,286.09 105.5,286.09 106,286.1 106.5,286.11 107,286.11 107.5,286.12 108,286.12 108.5,286.13 109,286.14 109.5,286.14 110,286.15 110.5,286.15 111,286.16 111.5,286.16 112,286.16 112.5,286.16 113,286.17 113.5,286.17 114,286.17 114.5,286.18 115,286.18 115.5,286.18 116,286.18 116.5,286.19 117,286.19 117.5,286.19 118,286.2 118.5,286.2 119,286.2 119.5,286.2 120,286.21 120.5,286.21 121,286.21 121.5,286.22 122,286.22 122.5,286.22 123,286.22 123.5,286.23 124,286.23 124.5,286.23 125,286.24 125.5,286.24 126,286.24 126.5,286.24 127,286.24 127.5,286.24 128,286.24 128.5,286.24 129,286.24 129.5,286.25 130,286.25 130.5,286.25 131,286.25 131.5,286.25 132,286.25 132.5,286.25 133,286.25 133.5,286.25 134,286.25 134.5,286.25 135,286.26 135.5,286.26 136,286.26 136.5,286.26 137,286.26 137.5,286.26 138,286.26 138.5,286.26 139,286.26 139.5,286.26 140,286.26 140.5,286.27 141,286.27 141.5,286.27 142,286.27 142.5,286.27 143,286.27 143.5,286.27 144,286.27 144.5,286.27 145,286.27 145.5,286.27 146,286.28 146.5,286.28 147,286.28 147.5,286.28 148,286.28 148.5,286.28 149,286.28 149.5,286.28 150,286.28 150.5,286.28 151,286.28 151.5,286.29 152,286.29 152.5,286.29 153,286.29 153.5,286.29 154,286.29 154.5,286.29 155,286.29 155.5,286.29 156,286.29 156.5,286.29 157,286.3 157.5,286.3 158,286.3 158.5,286.3 159,286.3 159.5,286.3 160,286.3 160.5,286.3 161,286.3 161.5,286.3 162,286.3 162.5,286.3 163,286.31 163.5,286.31 164,286.31 164.5,286.31 165,286.31 165.5,286.31 166,286.31 166.5,286.31 167,286.31 167.5,286.31 168,286.31 168.5,286.32 169,286.32 169.5,286.32 170,286.32 170.5,286.32 171,286.32 171.5,286.32 172,286.32 172.5,286.32 173,286.32 173.5,286.32 174,286.33 174.5,286.33 175,286.33 175.5,286.33 176,286.33 176.5,286.33 177,286.33 177.5,286.33 178,286.33 178.5,286.33 179,286.33 179.5,286.34 180,286.34 180.5,286.34" fill="none" stroke="url(#fd904)" stroke-width="0.45" stroke-linejoin="round" />
<polyline points="91,281.83 91.5,282.46 92,283.1 92.5,283.49 93,283.89 93.5,284.23 94,284.35 94.5,284.48 95,284.6 95.5,284.73 96,284.85 96.5,284.9 97,284.95 97.5,285 98,285.05 98.5,285.09 99,285.14 99.5,285.19 100,285.24 100.5,285.26 101,285.27 101.5,285.29 102,285.3 102.5,285.31 103,285.32 103.5,285.34 104,285.35 104.5,285.36 105,285.37 105.5,285.39 106,285.4 106.5,285.41 107,285.42 107.5,285.44 108,285.45 108.5,285.46 109,285.47 109.5,285.49 110,285.5 110.5,285.51 111,285.51 111.5,285.52 112,285.52 112.5,285.53 113,285.53 113.5,285.54 114,285.55 114.5,285.55 115,285.56 115.5,285.56 116,285.57 116.5,285.57 117,285.58 117.5,285.59 118,285.59 118.5,285.6 119,285.6 119.5,285.61 120,285.62 120.5,285.62 121,285.63 121.5,285.63 122,285.64 122.5,285.64 123,285.65 123.5,285.66 124,285.66 124.5,285.67 125,285.67 125.5,285.68 126,285.68 126.5,285.68 127,285.68 127.5,285.68 128,285.69 128.5,285.69 129,285.69 129.5,285.69 130,285.69 130.5,285.69 131,285.7 131.5,285.7 132,285.7 132.5,285.7 133,285.7 133.5,285.71 134,285.71 134.5,285.71 135,285.71 135.5,285.71 136,285.71 136.5,285.72 137,285.72 137.5,285.72 138,285.72 138.5,285.72 139,285.72 139.5,285.73 140,285.73 140.5,285.73 141,285.73 141.5,285.73 142,285.74 142.5,285.74 143,285.74 143.5,285.74 144,285.74 144.5,285.74 145,285.75 145.5,285.75 146,285.75 146.5,285.75 147,285.75 147.5,285.76 148,285.76 148.5,285.76 149,285.76 149.5,285.76 150,285.76 150.5,285.77 151,285.77 151.5,285.77 152,285.77 152.5,285.77 153,285.78 153.5,285.78 154,285.78 154.5,285.78 155,285.78 155.5,285.78 156,285.79 156.5,285.79 157,285.79 157.5,285.79 158,285.79 158.5,285.8 159,285.8 159.5,285.8 160,285.8 160.5,285.8 161,285.8 161.5,285.81 162,285.81 162.5,285.81 163,285.81 163.5,285.81 164,285.82 164.5,285.82 165,285.82 165.5,285.82 166,285.82 166.5,285.82 167,285.83 167.5,285.83 168,285.83 168.5,285.83 169,285.83 169.5,285.84 170,285.84 170.5,285.84 171,285.84 171.5,285.84 172,285.84 172.5,285.85 173,285.85 173.5,285.85 174,285.85 174.5,285.85 175,285.86 175.5,285.86 176,285.86 176.5,285.86 177,285.86 177.5,285.86 178,285.87 178.5,285.87 179,285.87 179.5,285.87 180,285.87 180.5,285.88" fill="none" stroke="url(#fd904)" stroke-width="0.45" stroke-linejoin="round" />
<polyline points="91,279.34 91.5,280.3 92,281.25 92.5,281.84 93,282.43 93.5,282.94 94,283.12 94.5,283.31 95,283.5 95.5,283.69 96,283.88 96.5,283.95 97,284.02 97.5,284.09 98,284.17 98.5,284.24 99,284.31 99.5,284.39 100,284.46 100.5,284.49 101,284.51 101.5,284.53 102,284.55 102.5,284.57 103,284.58 103.5,284.6 104,284.62 104.5,284.64 105,284.66 105.5,284.68 106,284.7 106.5,284.72 107,284.74 107.5,284.76 108,284.77 108.5,284.79 109,284.81 109.5,284.83 110,284.85 110.5,284.86 111,284.87 111.5,284.88 112,284.88 112.5,284.89 113,284.9 113.5,284.91 114,284.92 114.5,284.93 115,284.94 115.5,284.94 116,284.95 116.5,284.96 117,284.97 117.5,284.98 118,284.99 118.5,285 119,285.01 119.5,285.01 120,285.02 120.5,285.03 121,285.04 121.5,285.05 122,285.06 122.5,285.07 123,285.07 123.5,285.08 124,285.09 124.5,285.1 125,285.11 125.5,285.11 126,285.12 126.5,285.12 127,285.12 127.5,285.12 128,285.13 128.5,285.13 129,285.13 129.5,285.14 130,285.14 130.5,285.14 131,285.14 131.5,285.15 132,285.15 132.5,285.15 133,285.15 133.5,285.16 134,285.16 134.5,285.16 135,285.17 135.5,285.17 136,285.17 136.5,285.17 137,285.18 137.5,285.18 138,285.18 138.5,285.18 139,285.19 139.5,285.19 140,285.19 140.5,285.2 141,285.2 141.5,285.2 142,285.2 142.5,285.21 143,285.21 143.5,285.21 144,285.21 144.5,285.22 145,285.22 145.5,285.22 146,285.23 146.5,285.23 147,285.23 147.5,285.23 148,285.24 148.5,285.24 149,285.24 149.5,285.24 150,285.25 150.5,285.25 151,285.25 151.5,285.26 152,285.26 152.5,285.26 153,285.26 153.5,285.27 154,285.27 154.5,285.27 155,285.27 155.5,285.28 156,285.28 156.5,285.28 157,285.29 157.5,285.29 158,285.29 158.5,285.29 159,285.3 159.5,285.3 160,285.3 160.5,285.3 161,285.31 161.5,285.31 162,285.31 162.5,285.31 163,285.32 163.5,285.32 164,285.32 164.5,285.33 165,285.33 165.5,285.33 166,285.33 166.5,285.34 167,285.34 167.5,285.34 168,285.34 168.5,285.35 169,285.35 169.5,285.35 170,285.36 170.5,285.36 171,285.36 171.5,285.36 172,285.37 172.5,285.37 173,285.37 173.5,285.37 174,285.38 174.5,285.38 175,285.38 175.5,285.39 176,285.39 176.5,285.39 177,285.39 177.5,285.4 178,285.4 178.5,285.4 179,285.4 179.5,285.41 180,285.41 180.5,285.41" fill="none" stroke="url(#fd904)" stroke-width="0.45" stroke-linejoin="round" />
<polyline points="91,276.85 91.5,278.13 92,279.4 92.5,280.19 93,280.97 93.5,281.65 94,281.9 94.5,282.15 95,282.4 95.5,282.65 96,282.9 96.5,283 97,283.1 97.5,283.19 98,283.29 98.5,283.39 99,283.49 99.5,283.58 100,283.68 100.5,283.72 101,283.75 101.5,283.77 102,283.8 102.5,283.82 103,283.85 103.5,283.87 104,283.9 104.5,283.92 105,283.95 105.5,283.97 106,284 106.5,284.02 107,284.05 107.5,284.07 108,284.1 108.5,284.12 109,284.15 109.5,284.17 110,284.2 110.5,284.21 111,284.22 111.5,284.23 112,284.25 112.5,284.26 113,284.27 113.5,284.28 114,284.29 114.5,284.3 115,284.32 115.5,284.33 116,284.34 116.5,284.35 117,284.36 117.5,284.37 118,284.38 118.5,284.4 119,284.41 119.5,284.42 120,284.43 120.5,284.44 121,284.45 121.5,284.46 122,284.48 122.5,284.49 123,284.5 123.5,284.51 124,284.52 124.5,284.53 125,284.55 125.5,284.55 126,284.56 126.5,284.56 127,284.56 127.5,284.57 128,284.57 128.5,284.57 129,284.58 129.5,284.58 130,284.58 130.5,284.59 131,284.59 131.5,284.6 132,284.6 132.5,284.6 133,284.61 133.5,284.61 134,284.61 134.5,284.62 135,284.62 135.5,284.62 136,284.63 136.5,284.63 137,284.64 137.5,284.64 138,284.64 138.5,284.65 139,284.65 139.5,284.65 140,284.66 140.5,284.66 141,284.66 141.5,284.67 142,284.67 142.5,284.68 143,284.68 143.5,284.68 144,284.69 144.5,284.69 145,284.69 145.5,284.7 146,284.7 146.5,284.7 147,284.71 147.5,284.71 148,284.71 148.5,284.72 149,284.72 149.5,284.73 150,284.73 150.5,284.73 151,284.74 151.5,284.74 152,284.74 152.5,284.75 153,284.75 153.5,284.75 154,284.76 154.5,284.76 155,284.77 155.5,284.77 156,284.77 156.5,284.78 157,284.78 157.5,284.78 158,284.79 158.5,284.79 159,284.79 159.5,284.8 160,284.8 160.5,284.81 161,284.81 161.5,284.81 162,284.82 162.5,284.82 163,284.82 163.5,284.83 164,284.83 164.5,284.83 165,284.84 165.5,284.84 166,284.85 166.5,284.85 167,284.85 167.5,284.86 168,284.86 168.5,284.86 169,284.87 169.5,284.87 170,284.87 170.5,284.88 171,284.88 171.5,284.88 172,284.89 172.5,284.89 173,284.9 173.5,284.9 174,284.9 174.5,284.91 175,284.91 175.5,284.91 176,284.92 176.5,284.92 177,284.92 177.5,284.93 178,284.93 178.5,284.94 179,284.94 179.5,284.94 180,284.95 180.5,284.95" fill="none" stroke="url(#fd904)" stroke-width="0.45" stroke-linejoin="round" />
<polyline points="91,274.37 91.5,275.96 92,277.55 92.5,278.53 93,279.51 93.5,280.36 94,280.68 94.5,280.99 95,281.3 95.5,281.61 96,281.93 96.5,282.05 97,282.17 97.5,282.29 98,282.41 98.5,282.53 99,282.66 99.5,282.78 100,282.9 100.5,282.95 101,282.98 101.5,283.01 102,283.04 102.5,283.08 103,283.11 103.5,283.14 104,283.17 104.5,283.2 105,283.23 105.5,283.27 106,283.3 106.5,283.33 107,283.36 107.5,283.39 108,283.42 108.5,283.46 109,283.49 109.5,283.52 110,283.55 110.5,283.56 111,283.58 111.5,283.59 112,283.61 112.5,283.62 113,283.64 113.5,283.65 114,283.67 114.5,283.68 115,283.69 115.5,283.71 116,283.72 116.5,283.74 117,283.75 117.5,283.77 118,283.78 118.5,283.79 119,283.81 119.5,283.82 120,283.84 120.5,283.85 121,283.87 121.5,283.88 122,283.9 122.5,283.91 123,283.92 123.5,283.94 124,283.95 124.5,283.97 125,283.98 125.5,283.99 126,283.99 126.5,284 127,284 127.5,284.01 128,284.01 128.5,284.02 129,284.02 129.5,284.03 130,284.03 130.5,284.04 131,284.04 131.5,284.04 132,284.05 132.5,284.05 133,284.06 133.5,284.06 134,284.07 134.5,284.07 135,284.08 135.5,284.08 136,284.09 136.5,284.09 137,284.09 137.5,284.1 138,284.1 138.5,284.11 139,284.11 139.5,284.12 140,284.12 140.5,284.13 141,284.13 141.5,284.13 142,284.14 142.5,284.14 143,284.15 143.5,284.15 144,284.16 144.5,284.16 145,284.17 145.5,284.17 146,284.18 146.5,284.18 147,284.18 147.5,284.19 148,284.19 148.5,284.2 149,284.2 149.5,284.21 150,284.21 150.5,284.22 151,284.22 151.5,284.23 152,284.23 152.5,284.23 153,284.24 153.5,284.24 154,284.25 154.5,284.25 155,284.26 155.5,284.26 156,284.27 156.5,284.27 157,284.28 157.5,284.28 158,284.28 158.5,284.29 159,284.29 159.5,284.3 160,284.3 160.5,284.31 161,284.31 161.5,284.32 162,284.32 162.5,284.32 163,284.33 163.5,284.33 164,284.34 164.5,284.34 165,284.35 165.5,284.35 166,284.36 166.5,284.36 167,284.37 167.5,284.37 168,284.37 168.5,284.38 169,284.38 169.5,284.39 170,284.39 170.5,284.4 171,284.4 171.5,284.41 172,284.41 172.5,284.42 173,284.42 173.5,284.42 174,284.43 174.5,284.43 175,284.44 175.5,284.44 176,284.45 176.5,284.45 177,284.46 177.5,284.46 178,284.46 178.5,284.47 179,284.47 179.5,284.48 180,284.48 180.5,284.49" fill="none" stroke="url(#fd904)" stroke-width="0.45" stroke-linejoin="round" />
<polyline points="91,271.88 91.5,273.79 92,275.7 92.5,276.88 93,278.06 93.5,279.07 94,279.45 94.5,279.82 95,280.2 95.5,280.57 96,280.95 96.5,281.1 97,281.24 97.5,281.39 98,281.54 98.5,281.68 99,281.83 99.5,281.97 100,282.12 100.5,282.18 101,282.22 101.5,282.26 102,282.29 102.5,282.33 103,282.37 103.5,282.41 104,282.45 104.5,282.48 105,282.52 105.5,282.56 106,282.6 106.5,282.63 107,282.67 107.5,282.71 108,282.75 108.5,282.79 109,282.82 109.5,282.86 110,282.9 110.5,282.92 111,282.93 111.5,282.95 112,282.97 112.5,282.99 113,283 113.5,283.02 114,283.04 114.5,283.06 115,283.07 115.5,283.09 116,283.11 116.5,283.12 117,283.14 117.5,283.16 118,283.18 118.5,283.19 119,283.21 119.5,283.23 120,283.25 120.5,283.26 121,283.28 121.5,283.3 122,283.31 122.5,283.33 123,283.35 123.5,283.37 124,283.38 124.5,283.4 125,283.42 125.5,283.43 126,283.43 126.5,283.44 127,283.44 127.5,283.45 128,283.46 128.5,283.46 129,283.47 129.5,283.47 130,283.48 130.5,283.48 131,283.49 131.5,283.49 132,283.5 132.5,283.5 133,283.51 133.5,283.52 134,283.52 134.5,283.53 135,283.53 135.5,283.54 136,283.54 136.5,283.55 137,283.55 137.5,283.56 138,283.56 138.5,283.57 139,283.57 139.5,283.58 140,283.59 140.5,283.59 141,283.6 141.5,283.6 142,283.61 142.5,283.61 143,283.62 143.5,283.62 144,283.63 144.5,283.63 145,283.64 145.5,283.65 146,283.65 146.5,283.66 147,283.66 147.5,283.67 148,283.67 148.5,283.68 149,283.68 149.5,283.69 150,283.69 150.5,283.7 151,283.7 151.5,283.71 152,283.72 152.5,283.72 153,283.73 153.5,283.73 154,283.74 154.5,283.74 155,283.75 155.5,283.75 156,283.76 156.5,283.76 157,283.77 157.5,283.78 158,283.78 158.5,283.79 159,283.79 159.5,283.8 160,283.8 160.5,283.81 161,283.81 161.5,283.82 162,283.82 162.5,283.83 163,283.84 163.5,283.84 164,283.85 164.5,283.85 165,283.86 165.5,283.86 166,283.87 166.5,283.87 167,283.88 167.5,283.88 168,283.89 168.5,283.89 169,283.9 169.5,283.91 170,283.91 170.5,283.92 171,283.92 171.5,283.93 172,283.93 172.5,283.94 173,283.94 173.5,283.95 174,283.95 174.5,283.96 175,283.97 175.5,283.97 176,283.98 176.5,283.98 177,283.99 177.5,283.99 178,284 178.5,284 179,284.01 179.5,284.01 180,284.02 180.5,284.03" fill="none" stroke="url(#fd904)" stroke-width="0.45" stroke-linejoin="round" />
<polyline points="91,269.4 91.5,271.62 92,273.85 92.5,275.22 93,276.6 93.5,277.79 94,278.23 94.5,278.66 95,279.1 95.5,279.54 96,279.98 96.5,280.15 97,280.32 97.5,280.49 98,280.66 98.5,280.83 99,281 99.5,281.17 100,281.34 100.5,281.41 101,281.45 101.5,281.5 102,281.54 102.5,281.59 103,281.63 103.5,281.68 104,281.72 104.5,281.76 105,281.81 105.5,281.85 106,281.9 106.5,281.94 107,281.98 107.5,282.03 108,282.07 108.5,282.12 109,282.16 109.5,282.21 110,282.25 110.5,282.27 111,282.29 111.5,282.31 112,282.33 112.5,282.35 113,282.37 113.5,282.39 114,282.41 114.5,282.43 115,282.45 115.5,282.47 116,282.49 116.5,282.51 117,282.53 117.5,282.55 118,282.57 118.5,282.59 119,282.61 119.5,282.63 120,282.65 120.5,282.67 121,282.69 121.5,282.71 122,282.73 122.5,282.75 123,282.77 123.5,282.79 124,282.81 124.5,282.83 125,282.85 125.5,282.87 126,282.87 126.5,282.88 127,282.89 127.5,282.89 128,282.9 128.5,282.9 129,282.91 129.5,282.92 130,282.92 130.5,282.93 131,282.94 131.5,282.94 132,282.95 132.5,282.95 133,282.96 133.5,282.97 134,282.97 134.5,282.98 135,282.99 135.5,282.99 136,283 136.5,283.01 137,283.01 137.5,283.02 138,283.02 138.5,283.03 139,283.04 139.5,283.04 140,283.05 140.5,283.06 141,283.06 141.5,283.07 142,283.08 142.5,283.08 143,283.09 143.5,283.09 144,283.1 144.5,283.11 145,283.11 145.5,283.12 146,283.13 146.5,283.13 147,283.14 147.5,283.14 148,283.15 148.5,283.16 149,283.16 149.5,283.17 150,283.18 150.5,283.18 151,283.19 151.5,283.2 152,283.2 152.5,283.21 153,283.21 153.5,283.22 154,283.23 154.5,283.23 155,283.24 155.5,283.25 156,283.25 156.5,283.26 157,283.27 157.5,283.27 158,283.28 158.5,283.28 159,283.29 159.5,283.3 160,283.3 160.5,283.31 161,283.32 161.5,283.32 162,283.33 162.5,283.33 163,283.34 163.5,283.35 164,283.35 164.5,283.36 165,283.37 165.5,283.37 166,283.38 166.5,283.39 167,283.39 167.5,283.4 168,283.4 168.5,283.41 169,283.42 169.5,283.42 170,283.43 170.5,283.44 171,283.44 171.5,283.45 172,283.45 172.5,283.46 173,283.47 173.5,283.47 174,283.48 174.5,283.49 175,283.49 175.5,283.5 176,283.51 176.5,283.51 177,283.52 177.5,283.52 178,283.53 178.5,283.54 179,283.54 179.5,283.55 180,283.56 180.5,283.56" fill="none" stroke="url(#fd904)" stroke-width="0.45" stroke-linejoin="round" />
<line x1="90.4" y1="286.8" x2="180.5" y2="286.8" stroke="#f21010" stroke-width="1.2" />
<polyline points="190.9,286.8 195.6,286.8 195.9,282.3 196.3,286.8 198,286.8" fill="none" stroke="#19c019" stroke-width="0.9" stroke-linejoin="round" />
<path d="M198,286.8 L198,286.8 L198.25,275.63 L198.5,273.8 L198.75,274.17 L199,274.53 L199.25,274.9 L199.5,275.27 L199.75,275.63 L200,276 L200.25,276.31 L200.5,276.62 L200.75,276.94 L201,277.25 L201.25,277.56 L201.5,277.88 L201.75,278.19 L202,278.5 L202.25,278.63 L202.5,278.76 L202.75,278.89 L203,279.02 L203.25,279.15 L203.5,279.27 L203.75,279.4 L204,279.53 L204.25,279.66 L204.5,279.79 L204.75,279.92 L205,280.05 L205.25,280.12 L205.5,280.15 L205.75,280.18 L206,280.21 L206.25,280.24 L206.5,280.27 L206.75,280.3 L207,280.33 L207.25,280.36 L207.5,280.39 L207.75,280.42 L208,280.45 L208.25,280.48 L208.5,280.51 L208.75,280.54 L209,280.57 L209.25,280.6 L209.5,280.63 L209.75,280.66 L210,280.69 L210.25,280.72 L210.5,280.75 L210.75,280.78 L211,280.82 L211.25,280.85 L211.5,280.88 L211.75,280.91 L212,280.94 L212.25,280.97 L212.5,281 L212.75,281.03 L213,281.06 L213.25,281.09 L213.5,281.12 L213.75,281.15 L214,281.18 L214.25,281.21 L214.5,281.24 L214.75,281.27 L215,281.3 L215.25,281.31 L215.5,281.31 L215.75,281.31 L216,281.32 L216.25,281.32 L216.5,281.33 L216.75,281.34 L217,281.34 L217.25,281.35 L217.5,281.35 L217.75,281.36 L218,281.36 L218.25,281.37 L218.5,281.37 L218.75,281.38 L219,281.38 L219.25,281.38 L219.5,281.39 L219.75,281.4 L220,281.4 L220.25,281.41 L220.5,281.41 L220.75,281.42 L221,281.42 L221.25,281.43 L221.5,281.43 L221.75,281.44 L222,281.44 L222.25,281.44 L222.5,281.45 L222.75,281.45 L223,281.46 L223.25,281.47 L223.5,281.47 L223.75,281.48 L224,281.48 L224.25,281.49 L224.5,281.49 L224.75,281.5 L225,281.5 L225.25,281.5 L225.5,281.51 L225.75,281.51 L226,281.52 L226.25,281.53 L226.5,281.53 L226.75,281.54 L227,281.54 L227.25,281.55 L227.5,281.55 L227.75,281.56 L228,281.56 L228.25,281.56 L228.5,281.57 L228.75,281.57 L229,281.58 L229.25,281.59 L229.5,281.59 L229.75,281.6 L230,281.6 L230.25,281.61 L230.5,281.61 L230.75,281.62 L231,281.62 L231.25,281.62 L231.5,281.63 L231.75,281.63 L232,281.64 L232.25,281.65 L232.5,281.65 L232.75,281.66 L233,281.66 L233.25,281.67 L233.5,281.67 L233.75,281.68 L234,281.68 L234.25,281.69 L234.5,281.69 L234.75,281.69 L235,281.7 L235.25,281.7 L235.5,281.71 L235.75,281.72 L236,281.72 L236.25,281.73 L236.5,281.73 L236.75,281.74 L237,281.74 L237.25,281.75 L237.5,281.75 L237.75,281.75 L238,281.76 L238.25,281.76 L238.5,281.77 L238.75,281.78 L239,281.78 L239.25,281.79 L239.5,281.79 L239.75,281.8 L240,281.8 L240.25,281.8 L240.5,281.8 L240.75,281.8 L241,281.81 L241.25,281.81 L241.5,281.81 L241.75,281.81 L242,281.81 L242.25,281.81 L242.5,281.82 L242.75,281.82 L243,281.82 L243.25,281.82 L243.5,281.82 L243.75,281.82 L244,281.83 L244.25,281.83 L244.5,281.83 L244.75,281.83 L245,281.83 L245.25,281.83 L245.5,281.83 L245.75,281.84 L246,281.84 L246.25,281.84 L246.5,281.84 L246.75,281.84 L247,281.84 L247.25,281.85 L247.5,281.85 L247.75,281.85 L248,281.85 L248.25,281.85 L248.5,281.85 L248.75,281.86 L249,281.86 L249.25,281.86 L249.5,281.86 L249.75,281.86 L250,281.86 L250.25,281.86 L250.5,281.87 L250.75,281.87 L251,281.87 L251.25,281.87 L251.5,281.87 L251.75,281.87 L252,281.88 L252.25,281.88 L252.5,281.88 L252.75,281.88 L253,281.88 L253.25,281.88 L253.5,281.89 L253.75,281.89 L254,281.89 L254.25,281.89 L254.5,281.89 L254.75,281.89 L255,281.89 L255.25,281.9 L255.5,281.9 L255.75,281.9 L256,281.9 L256.25,281.9 L256.5,281.9 L256.75,281.91 L257,281.91 L257.25,281.91 L257.5,281.91 L257.75,281.91 L258,281.91 L258.25,281.92 L258.5,281.92 L258.75,281.92 L259,281.92 L259.25,281.92 L259.5,281.92 L259.75,281.92 L260,281.93 L260.25,281.93 L260.5,281.93 L260.75,281.93 L261,281.93 L261.25,281.93 L261.5,281.94 L261.75,281.94 L262,281.94 L262.25,281.94 L262.5,281.94 L262.75,281.94 L263,281.95 L263.25,281.95 L263.5,281.95 L263.75,281.95 L264,281.95 L264.25,281.95 L264.5,281.95 L264.75,281.96 L265,281.96 L265.25,281.96 L265.5,281.96 L265.75,281.96 L266,281.96 L266.25,281.97 L266.5,281.97 L266.75,281.97 L267,281.97 L267.25,281.97 L267.5,281.97 L267.75,281.98 L268,281.98 L268.25,281.98 L268.5,281.98 L268.75,281.98 L269,281.98 L269.25,281.98 L269.5,281.99 L269.75,281.99 L270,281.99 L270.25,281.99 L270.5,281.99 L270.75,281.99 L271,282 L271.25,282 L271.5,282 L271.75,282 L272,282 L272.25,282 L272.5,282.01 L272.75,282.01 L273,282.01 L273.25,282.01 L273.5,282.01 L273.75,282.01 L274,282.01 L274.25,282.02 L274.5,282.02 L274.75,282.02 L275,282.02 L275.25,282.02 L275.5,282.02 L275.75,282.03 L276,282.03 L276.25,282.03 L276.5,282.03 L276.75,282.03 L277,282.03 L277.25,282.04 L277.5,282.04 L277.75,282.04 L278,282.04 L278.25,282.04 L278.5,282.04 L278.75,282.04 L279,282.05 L279.25,282.05 L279.5,282.05 L279.75,282.05 L280,282.05 L280.25,282.05 L280.5,282.06 L280.75,282.06 L281,282.06 L281.25,282.06 L281.5,282.06 L281.75,282.06 L282,282.07 L282.25,282.07 L282.5,282.07 L282.75,282.07 L283,282.07 L283.25,282.07 L283.5,282.07 L283.75,282.08 L284,282.08 L284.25,282.08 L284.5,282.08 L284.75,282.08 L285,282.08 L285.25,282.09 L285.5,282.09 L285.75,282.09 L286,282.09 L286.25,282.09 L286.5,282.09 L286.75,282.1 L287,282.1 L287.25,282.1 L287.5,282.1 L287.5,286.8 Z" fill="#19c019" stroke="#19c019" stroke-width="0.8" stroke-linejoin="round"/>
<defs><linearGradient id="fd1980" gradientUnits="userSpaceOnUse" x1="198" y1="0" x2="258" y2="0"><stop offset="0" stop-color="#fff" stop-opacity="0.7"/><stop offset="0.4" stop-color="#fff" stop-opacity="0.35"/><stop offset="1" stop-color="#fff" stop-opacity="0.05"/></linearGradient></defs>
<polyline points="198.6,285.19 199.1,285.29 199.6,285.38 200.1,285.47 200.6,285.54 201.1,285.62 201.6,285.7 202.1,285.77 202.6,285.8 203.1,285.83 203.6,285.87 204.1,285.9 204.6,285.93 205.1,285.96 205.6,285.97 206.1,285.98 206.6,285.99 207.1,285.99 207.6,286 208.1,286.01 208.6,286.02 209.1,286.02 209.6,286.03 210.1,286.04 210.6,286.05 211.1,286.05 211.6,286.06 212.1,286.07 212.6,286.08 213.1,286.08 213.6,286.09 214.1,286.1 214.6,286.11 215.1,286.11 215.6,286.11 216.1,286.12 216.6,286.12 217.1,286.12 217.6,286.12 218.1,286.12 218.6,286.12 219.1,286.12 219.6,286.12 220.1,286.13 220.6,286.13 221.1,286.13 221.6,286.13 222.1,286.13 222.6,286.13 223.1,286.13 223.6,286.13 224.1,286.14 224.6,286.14 225.1,286.14 225.6,286.14 226.1,286.14 226.6,286.14 227.1,286.14 227.6,286.14 228.1,286.15 228.6,286.15 229.1,286.15 229.6,286.15 230.1,286.15 230.6,286.15 231.1,286.15 231.6,286.15 232.1,286.16 232.6,286.16 233.1,286.16 233.6,286.16 234.1,286.16 234.6,286.16 235.1,286.16 235.6,286.16 236.1,286.17 236.6,286.17 237.1,286.17 237.6,286.17 238.1,286.17 238.6,286.17 239.1,286.17 239.6,286.17 240.1,286.18 240.6,286.18 241.1,286.18 241.6,286.18 242.1,286.18 242.6,286.18 243.1,286.18 243.6,286.18 244.1,286.18 244.6,286.18 245.1,286.18 245.6,286.18 246.1,286.18 246.6,286.18 247.1,286.18 247.6,286.18 248.1,286.18 248.6,286.18 249.1,286.18 249.6,286.18 250.1,286.18 250.6,286.18 251.1,286.18 251.6,286.18 252.1,286.18 252.6,286.18 253.1,286.19 253.6,286.19 254.1,286.19 254.6,286.19 255.1,286.19 255.6,286.19 256.1,286.19 256.6,286.19 257.1,286.19 257.6,286.19 258.1,286.19 258.6,286.19 259.1,286.19 259.6,286.19 260.1,286.19 260.6,286.19 261.1,286.19 261.6,286.19 262.1,286.19 262.6,286.19 263.1,286.19 263.6,286.19 264.1,286.19 264.6,286.19 265.1,286.19 265.6,286.2 266.1,286.2 266.6,286.2 267.1,286.2 267.6,286.2 268.1,286.2 268.6,286.2 269.1,286.2 269.6,286.2 270.1,286.2 270.6,286.2 271.1,286.2 271.6,286.2 272.1,286.2 272.6,286.2 273.1,286.2 273.6,286.2 274.1,286.2 274.6,286.2 275.1,286.2 275.6,286.2 276.1,286.2 276.6,286.2 277.1,286.2 277.6,286.2 278.1,286.21 278.6,286.21 279.1,286.21 279.6,286.21 280.1,286.21 280.6,286.21 281.1,286.21 281.6,286.21 282.1,286.21 282.6,286.21 283.1,286.21 283.6,286.21 284.1,286.21 284.6,286.21 285.1,286.21 285.6,286.21 286.1,286.21 286.6,286.21 287.1,286.21" fill="none" stroke="url(#fd1980)" stroke-width="0.45" stroke-linejoin="round" />
<polyline points="198.6,283.59 199.1,283.77 199.6,283.95 200.1,284.13 200.6,284.29 201.1,284.44 201.6,284.6 202.1,284.74 202.6,284.8 203.1,284.87 203.6,284.93 204.1,285 204.6,285.06 205.1,285.12 205.6,285.14 206.1,285.16 206.6,285.17 207.1,285.19 207.6,285.2 208.1,285.22 208.6,285.23 209.1,285.25 209.6,285.26 210.1,285.28 210.6,285.29 211.1,285.31 211.6,285.32 212.1,285.34 212.6,285.35 213.1,285.37 213.6,285.38 214.1,285.4 214.6,285.41 215.1,285.43 215.6,285.43 216.1,285.43 216.6,285.43 217.1,285.44 217.6,285.44 218.1,285.44 218.6,285.44 219.1,285.45 219.6,285.45 220.1,285.45 220.6,285.45 221.1,285.46 221.6,285.46 222.1,285.46 222.6,285.46 223.1,285.47 223.6,285.47 224.1,285.47 224.6,285.47 225.1,285.48 225.6,285.48 226.1,285.48 226.6,285.48 227.1,285.49 227.6,285.49 228.1,285.49 228.6,285.49 229.1,285.5 229.6,285.5 230.1,285.5 230.6,285.5 231.1,285.51 231.6,285.51 232.1,285.51 232.6,285.51 233.1,285.52 233.6,285.52 234.1,285.52 234.6,285.52 235.1,285.53 235.6,285.53 236.1,285.53 236.6,285.53 237.1,285.54 237.6,285.54 238.1,285.54 238.6,285.54 239.1,285.55 239.6,285.55 240.1,285.55 240.6,285.55 241.1,285.55 241.6,285.55 242.1,285.55 242.6,285.55 243.1,285.55 243.6,285.56 244.1,285.56 244.6,285.56 245.1,285.56 245.6,285.56 246.1,285.56 246.6,285.56 247.1,285.56 247.6,285.56 248.1,285.56 248.6,285.56 249.1,285.56 249.6,285.57 250.1,285.57 250.6,285.57 251.1,285.57 251.6,285.57 252.1,285.57 252.6,285.57 253.1,285.57 253.6,285.57 254.1,285.57 254.6,285.57 255.1,285.57 255.6,285.57 256.1,285.58 256.6,285.58 257.1,285.58 257.6,285.58 258.1,285.58 258.6,285.58 259.1,285.58 259.6,285.58 260.1,285.58 260.6,285.58 261.1,285.58 261.6,285.58 262.1,285.58 262.6,285.59 263.1,285.59 263.6,285.59 264.1,285.59 264.6,285.59 265.1,285.59 265.6,285.59 266.1,285.59 266.6,285.59 267.1,285.59 267.6,285.59 268.1,285.59 268.6,285.6 269.1,285.6 269.6,285.6 270.1,285.6 270.6,285.6 271.1,285.6 271.6,285.6 272.1,285.6 272.6,285.6 273.1,285.6 273.6,285.6 274.1,285.6 274.6,285.6 275.1,285.61 275.6,285.61 276.1,285.61 276.6,285.61 277.1,285.61 277.6,285.61 278.1,285.61 278.6,285.61 279.1,285.61 279.6,285.61 280.1,285.61 280.6,285.61 281.1,285.61 281.6,285.62 282.1,285.62 282.6,285.62 283.1,285.62 283.6,285.62 284.1,285.62 284.6,285.62 285.1,285.62 285.6,285.62 286.1,285.62 286.6,285.62 287.1,285.62" fill="none" stroke="url(#fd1980)" stroke-width="0.45" stroke-linejoin="round" />
<polyline points="198.6,281.98 199.1,282.25 199.6,282.53 200.1,282.8 200.6,283.03 201.1,283.27 201.6,283.5 202.1,283.71 202.6,283.8 203.1,283.9 203.6,284 204.1,284.09 204.6,284.19 205.1,284.29 205.6,284.31 206.1,284.33 206.6,284.36 207.1,284.38 207.6,284.4 208.1,284.42 208.6,284.45 209.1,284.47 209.6,284.49 210.1,284.51 210.6,284.54 211.1,284.56 211.6,284.58 212.1,284.61 212.6,284.63 213.1,284.65 213.6,284.67 214.1,284.7 214.6,284.72 215.1,284.74 215.6,284.74 216.1,284.75 216.6,284.75 217.1,284.75 217.6,284.76 218.1,284.76 218.6,284.76 219.1,284.77 219.6,284.77 220.1,284.78 220.6,284.78 221.1,284.78 221.6,284.79 222.1,284.79 222.6,284.79 223.1,284.8 223.6,284.8 224.1,284.81 224.6,284.81 225.1,284.81 225.6,284.82 226.1,284.82 226.6,284.82 227.1,284.83 227.6,284.83 228.1,284.84 228.6,284.84 229.1,284.84 229.6,284.85 230.1,284.85 230.6,284.85 231.1,284.86 231.6,284.86 232.1,284.87 232.6,284.87 233.1,284.87 233.6,284.88 234.1,284.88 234.6,284.88 235.1,284.89 235.6,284.89 236.1,284.9 236.6,284.9 237.1,284.9 237.6,284.91 238.1,284.91 238.6,284.91 239.1,284.92 239.6,284.92 240.1,284.93 240.6,284.93 241.1,284.93 241.6,284.93 242.1,284.93 242.6,284.93 243.1,284.93 243.6,284.93 244.1,284.93 244.6,284.94 245.1,284.94 245.6,284.94 246.1,284.94 246.6,284.94 247.1,284.94 247.6,284.94 248.1,284.94 248.6,284.95 249.1,284.95 249.6,284.95 250.1,284.95 250.6,284.95 251.1,284.95 251.6,284.95 252.1,284.95 252.6,284.95 253.1,284.96 253.6,284.96 254.1,284.96 254.6,284.96 255.1,284.96 255.6,284.96 256.1,284.96 256.6,284.96 257.1,284.97 257.6,284.97 258.1,284.97 258.6,284.97 259.1,284.97 259.6,284.97 260.1,284.97 260.6,284.97 261.1,284.97 261.6,284.98 262.1,284.98 262.6,284.98 263.1,284.98 263.6,284.98 264.1,284.98 264.6,284.98 265.1,284.98 265.6,284.99 266.1,284.99 266.6,284.99 267.1,284.99 267.6,284.99 268.1,284.99 268.6,284.99 269.1,284.99 269.6,285 270.1,285 270.6,285 271.1,285 271.6,285 272.1,285 272.6,285 273.1,285 273.6,285 274.1,285.01 274.6,285.01 275.1,285.01 275.6,285.01 276.1,285.01 276.6,285.01 277.1,285.01 277.6,285.01 278.1,285.02 278.6,285.02 279.1,285.02 279.6,285.02 280.1,285.02 280.6,285.02 281.1,285.02 281.6,285.02 282.1,285.02 282.6,285.03 283.1,285.03 283.6,285.03 284.1,285.03 284.6,285.03 285.1,285.03 285.6,285.03 286.1,285.03 286.6,285.04 287.1,285.04" fill="none" stroke="url(#fd1980)" stroke-width="0.45" stroke-linejoin="round" />
<polyline points="198.6,280.37 199.1,280.74 199.6,281.11 200.1,281.46 200.6,281.77 201.1,282.09 201.6,282.4 202.1,282.68 202.6,282.8 203.1,282.93 203.6,283.06 204.1,283.19 204.6,283.32 205.1,283.45 205.6,283.48 206.1,283.51 206.6,283.54 207.1,283.57 207.6,283.6 208.1,283.63 208.6,283.66 209.1,283.69 209.6,283.72 210.1,283.75 210.6,283.78 211.1,283.81 211.6,283.84 212.1,283.87 212.6,283.9 213.1,283.93 213.6,283.97 214.1,284 214.6,284.03 215.1,284.05 215.6,284.06 216.1,284.06 216.6,284.07 217.1,284.07 217.6,284.08 218.1,284.08 218.6,284.09 219.1,284.09 219.6,284.1 220.1,284.1 220.6,284.11 221.1,284.11 221.6,284.12 222.1,284.12 222.6,284.13 223.1,284.13 223.6,284.14 224.1,284.14 224.6,284.15 225.1,284.15 225.6,284.16 226.1,284.16 226.6,284.17 227.1,284.17 227.6,284.18 228.1,284.18 228.6,284.19 229.1,284.19 229.6,284.2 230.1,284.2 230.6,284.21 231.1,284.21 231.6,284.22 232.1,284.22 232.6,284.23 233.1,284.23 233.6,284.24 234.1,284.24 234.6,284.25 235.1,284.25 235.6,284.26 236.1,284.26 236.6,284.27 237.1,284.27 237.6,284.28 238.1,284.28 238.6,284.29 239.1,284.29 239.6,284.3 240.1,284.3 240.6,284.3 241.1,284.3 241.6,284.31 242.1,284.31 242.6,284.31 243.1,284.31 243.6,284.31 244.1,284.31 244.6,284.31 245.1,284.32 245.6,284.32 246.1,284.32 246.6,284.32 247.1,284.32 247.6,284.32 248.1,284.33 248.6,284.33 249.1,284.33 249.6,284.33 250.1,284.33 250.6,284.33 251.1,284.34 251.6,284.34 252.1,284.34 252.6,284.34 253.1,284.34 253.6,284.34 254.1,284.34 254.6,284.35 255.1,284.35 255.6,284.35 256.1,284.35 256.6,284.35 257.1,284.35 257.6,284.36 258.1,284.36 258.6,284.36 259.1,284.36 259.6,284.36 260.1,284.36 260.6,284.37 261.1,284.37 261.6,284.37 262.1,284.37 262.6,284.37 263.1,284.37 263.6,284.37 264.1,284.38 264.6,284.38 265.1,284.38 265.6,284.38 266.1,284.38 266.6,284.38 267.1,284.39 267.6,284.39 268.1,284.39 268.6,284.39 269.1,284.39 269.6,284.39 270.1,284.4 270.6,284.4 271.1,284.4 271.6,284.4 272.1,284.4 272.6,284.4 273.1,284.4 273.6,284.41 274.1,284.41 274.6,284.41 275.1,284.41 275.6,284.41 276.1,284.41 276.6,284.42 277.1,284.42 277.6,284.42 278.1,284.42 278.6,284.42 279.1,284.42 279.6,284.43 280.1,284.43 280.6,284.43 281.1,284.43 281.6,284.43 282.1,284.43 282.6,284.43 283.1,284.44 283.6,284.44 284.1,284.44 284.6,284.44 285.1,284.44 285.6,284.44 286.1,284.45 286.6,284.45 287.1,284.45" fill="none" stroke="url(#fd1980)" stroke-width="0.45" stroke-linejoin="round" />
<polyline points="198.6,278.77 199.1,279.23 199.6,279.68 200.1,280.13 200.6,280.52 201.1,280.91 201.6,281.3 202.1,281.64 202.6,281.81 203.1,281.97 203.6,282.13 204.1,282.29 204.6,282.45 205.1,282.61 205.6,282.65 206.1,282.69 206.6,282.73 207.1,282.76 207.6,282.8 208.1,282.84 208.6,282.88 209.1,282.92 209.6,282.95 210.1,282.99 210.6,283.03 211.1,283.07 211.6,283.1 212.1,283.14 212.6,283.18 213.1,283.22 213.6,283.26 214.1,283.29 214.6,283.33 215.1,283.36 215.6,283.37 216.1,283.38 216.6,283.38 217.1,283.39 217.6,283.4 218.1,283.4 218.6,283.41 219.1,283.41 219.6,283.42 220.1,283.43 220.6,283.43 221.1,283.44 221.6,283.44 222.1,283.45 222.6,283.46 223.1,283.46 223.6,283.47 224.1,283.48 224.6,283.48 225.1,283.49 225.6,283.5 226.1,283.5 226.6,283.51 227.1,283.51 227.6,283.52 228.1,283.53 228.6,283.53 229.1,283.54 229.6,283.55 230.1,283.55 230.6,283.56 231.1,283.56 231.6,283.57 232.1,283.58 232.6,283.58 233.1,283.59 233.6,283.6 234.1,283.6 234.6,283.61 235.1,283.61 235.6,283.62 236.1,283.63 236.6,283.63 237.1,283.64 237.6,283.64 238.1,283.65 238.6,283.66 239.1,283.66 239.6,283.67 240.1,283.68 240.6,283.68 241.1,283.68 241.6,283.68 242.1,283.68 242.6,283.69 243.1,283.69 243.6,283.69 244.1,283.69 244.6,283.69 245.1,283.7 245.6,283.7 246.1,283.7 246.6,283.7 247.1,283.7 247.6,283.71 248.1,283.71 248.6,283.71 249.1,283.71 249.6,283.71 250.1,283.71 250.6,283.72 251.1,283.72 251.6,283.72 252.1,283.72 252.6,283.72 253.1,283.73 253.6,283.73 254.1,283.73 254.6,283.73 255.1,283.73 255.6,283.74 256.1,283.74 256.6,283.74 257.1,283.74 257.6,283.74 258.1,283.75 258.6,283.75 259.1,283.75 259.6,283.75 260.1,283.75 260.6,283.76 261.1,283.76 261.6,283.76 262.1,283.76 262.6,283.76 263.1,283.77 263.6,283.77 264.1,283.77 264.6,283.77 265.1,283.77 265.6,283.78 266.1,283.78 266.6,283.78 267.1,283.78 267.6,283.78 268.1,283.79 268.6,283.79 269.1,283.79 269.6,283.79 270.1,283.79 270.6,283.8 271.1,283.8 271.6,283.8 272.1,283.8 272.6,283.8 273.1,283.81 273.6,283.81 274.1,283.81 274.6,283.81 275.1,283.81 275.6,283.82 276.1,283.82 276.6,283.82 277.1,283.82 277.6,283.82 278.1,283.83 278.6,283.83 279.1,283.83 279.6,283.83 280.1,283.83 280.6,283.84 281.1,283.84 281.6,283.84 282.1,283.84 282.6,283.84 283.1,283.85 283.6,283.85 284.1,283.85 284.6,283.85 285.1,283.85 285.6,283.86 286.1,283.86 286.6,283.86 287.1,283.86" fill="none" stroke="url(#fd1980)" stroke-width="0.45" stroke-linejoin="round" />
<polyline points="198.6,277.16 199.1,277.71 199.6,278.26 200.1,278.79 200.6,279.26 201.1,279.73 201.6,280.2 202.1,280.61 202.6,280.81 203.1,281 203.6,281.19 204.1,281.39 204.6,281.58 205.1,281.78 205.6,281.82 206.1,281.87 206.6,281.91 207.1,281.96 207.6,282 208.1,282.05 208.6,282.09 209.1,282.14 209.6,282.18 210.1,282.23 210.6,282.28 211.1,282.32 211.6,282.37 212.1,282.41 212.6,282.46 213.1,282.5 213.6,282.55 214.1,282.59 214.6,282.64 215.1,282.68 215.6,282.68 216.1,282.69 216.6,282.7 217.1,282.71 217.6,282.71 218.1,282.72 218.6,282.73 219.1,282.74 219.6,282.74 220.1,282.75 220.6,282.76 221.1,282.77 221.6,282.77 222.1,282.78 222.6,282.79 223.1,282.8 223.6,282.8 224.1,282.81 224.6,282.82 225.1,282.83 225.6,282.83 226.1,282.84 226.6,282.85 227.1,282.86 227.6,282.86 228.1,282.87 228.6,282.88 229.1,282.89 229.6,282.89 230.1,282.9 230.6,282.91 231.1,282.92 231.6,282.92 232.1,282.93 232.6,282.94 233.1,282.95 233.6,282.95 234.1,282.96 234.6,282.97 235.1,282.98 235.6,282.98 236.1,282.99 236.6,283 237.1,283.01 237.6,283.01 238.1,283.02 238.6,283.03 239.1,283.04 239.6,283.04 240.1,283.05 240.6,283.05 241.1,283.06 241.6,283.06 242.1,283.06 242.6,283.06 243.1,283.06 243.6,283.07 244.1,283.07 244.6,283.07 245.1,283.07 245.6,283.08 246.1,283.08 246.6,283.08 247.1,283.08 247.6,283.09 248.1,283.09 248.6,283.09 249.1,283.09 249.6,283.1 250.1,283.1 250.6,283.1 251.1,283.1 251.6,283.1 252.1,283.11 252.6,283.11 253.1,283.11 253.6,283.11 254.1,283.12 254.6,283.12 255.1,283.12 255.6,283.12 256.1,283.13 256.6,283.13 257.1,283.13 257.6,283.13 258.1,283.14 258.6,283.14 259.1,283.14 259.6,283.14 260.1,283.15 260.6,283.15 261.1,283.15 261.6,283.15 262.1,283.15 262.6,283.16 263.1,283.16 263.6,283.16 264.1,283.16 264.6,283.17 265.1,283.17 265.6,283.17 266.1,283.17 266.6,283.18 267.1,283.18 267.6,283.18 268.1,283.18 268.6,283.19 269.1,283.19 269.6,283.19 270.1,283.19 270.6,283.19 271.1,283.2 271.6,283.2 272.1,283.2 272.6,283.2 273.1,283.21 273.6,283.21 274.1,283.21 274.6,283.21 275.1,283.22 275.6,283.22 276.1,283.22 276.6,283.22 277.1,283.23 277.6,283.23 278.1,283.23 278.6,283.23 279.1,283.24 279.6,283.24 280.1,283.24 280.6,283.24 281.1,283.24 281.6,283.25 282.1,283.25 282.6,283.25 283.1,283.25 283.6,283.26 284.1,283.26 284.6,283.26 285.1,283.26 285.6,283.27 286.1,283.27 286.6,283.27 287.1,283.27" fill="none" stroke="url(#fd1980)" stroke-width="0.45" stroke-linejoin="round" />
<polyline points="198.6,275.55 199.1,276.19 199.6,276.84 200.1,277.46 200.6,278.01 201.1,278.55 201.6,279.1 202.1,279.58 202.6,279.81 203.1,280.03 203.6,280.26 204.1,280.49 204.6,280.71 205.1,280.94 205.6,280.99 206.1,281.04 206.6,281.1 207.1,281.15 207.6,281.2 208.1,281.26 208.6,281.31 209.1,281.36 209.6,281.41 210.1,281.47 210.6,281.52 211.1,281.57 211.6,281.63 212.1,281.68 212.6,281.73 213.1,281.79 213.6,281.84 214.1,281.89 214.6,281.95 215.1,281.99 215.6,282 216.1,282.01 216.6,282.02 217.1,282.02 217.6,282.03 218.1,282.04 218.6,282.05 219.1,282.06 219.6,282.07 220.1,282.08 220.6,282.09 221.1,282.09 221.6,282.1 222.1,282.11 222.6,282.12 223.1,282.13 223.6,282.14 224.1,282.15 224.6,282.16 225.1,282.16 225.6,282.17 226.1,282.18 226.6,282.19 227.1,282.2 227.6,282.21 228.1,282.22 228.6,282.23 229.1,282.23 229.6,282.24 230.1,282.25 230.6,282.26 231.1,282.27 231.6,282.28 232.1,282.29 232.6,282.3 233.1,282.3 233.6,282.31 234.1,282.32 234.6,282.33 235.1,282.34 235.6,282.35 236.1,282.36 236.6,282.37 237.1,282.37 237.6,282.38 238.1,282.39 238.6,282.4 239.1,282.41 239.6,282.42 240.1,282.43 240.6,282.43 241.1,282.43 241.6,282.43 242.1,282.44 242.6,282.44 243.1,282.44 243.6,282.44 244.1,282.45 244.6,282.45 245.1,282.45 245.6,282.46 246.1,282.46 246.6,282.46 247.1,282.46 247.6,282.47 248.1,282.47 248.6,282.47 249.1,282.48 249.6,282.48 250.1,282.48 250.6,282.48 251.1,282.49 251.6,282.49 252.1,282.49 252.6,282.49 253.1,282.5 253.6,282.5 254.1,282.5 254.6,282.51 255.1,282.51 255.6,282.51 256.1,282.51 256.6,282.52 257.1,282.52 257.6,282.52 258.1,282.53 258.6,282.53 259.1,282.53 259.6,282.53 260.1,282.54 260.6,282.54 261.1,282.54 261.6,282.54 262.1,282.55 262.6,282.55 263.1,282.55 263.6,282.56 264.1,282.56 264.6,282.56 265.1,282.56 265.6,282.57 266.1,282.57 266.6,282.57 267.1,282.57 267.6,282.58 268.1,282.58 268.6,282.58 269.1,282.59 269.6,282.59 270.1,282.59 270.6,282.59 271.1,282.6 271.6,282.6 272.1,282.6 272.6,282.61 273.1,282.61 273.6,282.61 274.1,282.61 274.6,282.62 275.1,282.62 275.6,282.62 276.1,282.62 276.6,282.63 277.1,282.63 277.6,282.63 278.1,282.64 278.6,282.64 279.1,282.64 279.6,282.64 280.1,282.65 280.6,282.65 281.1,282.65 281.6,282.65 282.1,282.66 282.6,282.66 283.1,282.66 283.6,282.67 284.1,282.67 284.6,282.67 285.1,282.67 285.6,282.68 286.1,282.68 286.6,282.68 287.1,282.69" fill="none" stroke="url(#fd1980)" stroke-width="0.45" stroke-linejoin="round" />
<line x1="198" y1="286.8" x2="287.5" y2="286.8" stroke="#19c019" stroke-width="1.2" />
<text transform="translate(132.5,222.7) scale(1,1.06)" font-size="11.9" text-anchor="middle" font-weight="normal" fill="#111" stroke="#111" stroke-width="0.3" >WT-R-ENDO</text>
<text transform="translate(238.7,222.7) scale(1,1.06)" font-size="11.9" text-anchor="middle" font-weight="normal" fill="#111" stroke="#111" stroke-width="0.3" >CIRBIL-TG-R-ENDO</text>
<text transform="translate(133.5,303.5) scale(1,1.06)" font-size="11.9" text-anchor="middle" font-weight="normal" fill="#111" stroke="#111" stroke-width="0.3" >WT-R-EPI</text>
<text transform="translate(239,301.6) scale(1,1.06)" font-size="11.9" text-anchor="middle" font-weight="normal" fill="#111" stroke="#111" stroke-width="0.3" >CIRBIL-TG-R-EPI</text>
<polyline points="245.3,256.7 245.3,271.7 268.7,271.7" fill="none" stroke="#222" stroke-width="1.0" stroke-linejoin="round" />
<text transform="translate(244.4,268.4) scale(1,1.06)" font-size="7.0" text-anchor="end" font-weight="bold" fill="#222" stroke="#222" stroke-width="0.2" >2000 pA</text>
<text transform="translate(256.6,279.8) scale(1,1.06)" font-size="7.0" text-anchor="middle" font-weight="bold" fill="#222" stroke="#222" stroke-width="0.2" >500 ms</text>
<line x1="359.9" y1="198.55" x2="359.9" y2="290.4" stroke="#222" stroke-width="1.1" />
<line x1="359.4" y1="289.9" x2="452.2" y2="289.9" stroke="#222" stroke-width="1.1" />
<line x1="356.9" y1="289.9" x2="359.9" y2="289.9" stroke="#222" stroke-width="1.1" />
<text transform="translate(356.7,293.8) scale(1,1.06)" font-size="10.8" text-anchor="end" font-weight="normal" fill="#222" stroke="#222" stroke-width="0.3" >0</text>
<line x1="356.9" y1="271.63" x2="359.9" y2="271.63" stroke="#222" stroke-width="1.1" />
<text transform="translate(356.7,275.53) scale(1,1.06)" font-size="10.8" text-anchor="end" font-weight="normal" fill="#222" stroke="#222" stroke-width="0.3" >10</text>
<line x1="356.9" y1="253.36" x2="359.9" y2="253.36" stroke="#222" stroke-width="1.1" />
<text transform="translate(356.7,257.26) scale(1,1.06)" font-size="10.8" text-anchor="end" font-weight="normal" fill="#222" stroke="#222" stroke-width="0.3" >20</text>
<line x1="356.9" y1="235.09" x2="359.9" y2="235.09" stroke="#222" stroke-width="1.1" />
<text transform="translate(356.7,238.99) scale(1,1.06)" font-size="10.8" text-anchor="end" font-weight="normal" fill="#222" stroke="#222" stroke-width="0.3" >30</text>
<line x1="356.9" y1="216.82" x2="359.9" y2="216.82" stroke="#222" stroke-width="1.1" />
<text transform="translate(356.7,220.72) scale(1,1.06)" font-size="10.8" text-anchor="end" font-weight="normal" fill="#222" stroke="#222" stroke-width="0.3" >40</text>
<line x1="356.9" y1="198.55" x2="359.9" y2="198.55" stroke="#222" stroke-width="1.1" />
<text transform="translate(356.7,202.45) scale(1,1.06)" font-size="10.8" text-anchor="end" font-weight="normal" fill="#222" stroke="#222" stroke-width="0.3" >50</text>
<line x1="359.9" y1="289.9" x2="359.9" y2="292.5" stroke="#222" stroke-width="1.0" />
<text transform="translate(359.9,299.3) scale(1,1.06)" font-size="6.9" text-anchor="middle" font-weight="normal" fill="#222" stroke="#222" stroke-width="0.19" >-60</text>
<line x1="375.1" y1="289.9" x2="375.1" y2="292.5" stroke="#222" stroke-width="1.0" />
<text transform="translate(375.1,299.3) scale(1,1.06)" font-size="6.9" text-anchor="middle" font-weight="normal" fill="#222" stroke="#222" stroke-width="0.19" >-40</text>
<line x1="390.3" y1="289.9" x2="390.3" y2="292.5" stroke="#222" stroke-width="1.0" />
<text transform="translate(390.3,299.3) scale(1,1.06)" font-size="6.9" text-anchor="middle" font-weight="normal" fill="#222" stroke="#222" stroke-width="0.19" >-20</text>
<line x1="405.5" y1="289.9" x2="405.5" y2="292.5" stroke="#222" stroke-width="1.0" />
<text transform="translate(405.5,299.3) scale(1,1.06)" font-size="6.9" text-anchor="middle" font-weight="normal" fill="#222" stroke="#222" stroke-width="0.19" >0</text>
<line x1="420.7" y1="289.9" x2="420.7" y2="292.5" stroke="#222" stroke-width="1.0" />
<text transform="translate(420.7,299.3) scale(1,1.06)" font-size="6.9" text-anchor="middle" font-weight="normal" fill="#222" stroke="#222" stroke-width="0.19" >20</text>
<line x1="435.9" y1="289.9" x2="435.9" y2="292.5" stroke="#222" stroke-width="1.0" />
<text transform="translate(435.9,299.3) scale(1,1.06)" font-size="6.9" text-anchor="middle" font-weight="normal" fill="#222" stroke="#222" stroke-width="0.19" >40</text>
<line x1="451.1" y1="289.9" x2="451.1" y2="292.5" stroke="#222" stroke-width="1.0" />
<text transform="translate(451.1,299.3) scale(1,1.06)" font-size="6.9" text-anchor="middle" font-weight="normal" fill="#222" stroke="#222" stroke-width="0.19" >60</text>
<line x1="367.5" y1="289.9" x2="367.5" y2="291.5" stroke="#222" stroke-width="0.8" />
<line x1="382.7" y1="289.9" x2="382.7" y2="291.5" stroke="#222" stroke-width="0.8" />
<line x1="397.9" y1="289.9" x2="397.9" y2="291.5" stroke="#222" stroke-width="0.8" />
<line x1="413.1" y1="289.9" x2="413.1" y2="291.5" stroke="#222" stroke-width="0.8" />
<line x1="428.3" y1="289.9" x2="428.3" y2="291.5" stroke="#222" stroke-width="0.8" />
<line x1="443.5" y1="289.9" x2="443.5" y2="291.5" stroke="#222" stroke-width="0.8" />
<polyline points="359.9,288.99 367.5,288.44 375.1,288.07 382.7,286.43 390.3,284.6 397.9,281.86 405.5,278.21 413.1,274.01 420.7,269.25 428.3,264.32 435.9,259.02 443.5,253.91 451.1,248.61" fill="none" stroke="#f01414" stroke-width="1.1" stroke-linejoin="round" />
<line x1="397.9" y1="282.59" x2="397.9" y2="281.13" stroke="#f01414" stroke-width="0.9" />
<line x1="396.3" y1="281.13" x2="399.5" y2="281.13" stroke="#f01414" stroke-width="0.9" />
<line x1="396.3" y1="282.59" x2="399.5" y2="282.59" stroke="#f01414" stroke-width="0.9" />
<line x1="405.5" y1="279.12" x2="405.5" y2="277.29" stroke="#f01414" stroke-width="0.9" />
<line x1="403.9" y1="277.29" x2="407.1" y2="277.29" stroke="#f01414" stroke-width="0.9" />
<line x1="403.9" y1="279.12" x2="407.1" y2="279.12" stroke="#f01414" stroke-width="0.9" />
<line x1="413.1" y1="275.1" x2="413.1" y2="272.91" stroke="#f01414" stroke-width="0.9" />
<line x1="411.5" y1="272.91" x2="414.7" y2="272.91" stroke="#f01414" stroke-width="0.9" />
<line x1="411.5" y1="275.1" x2="414.7" y2="275.1" stroke="#f01414" stroke-width="0.9" />
<line x1="420.7" y1="270.53" x2="420.7" y2="267.98" stroke="#f01414" stroke-width="0.9" />
<line x1="419.1" y1="267.98" x2="422.3" y2="267.98" stroke="#f01414" stroke-width="0.9" />
<line x1="419.1" y1="270.53" x2="422.3" y2="270.53" stroke="#f01414" stroke-width="0.9" />
<line x1="428.3" y1="265.78" x2="428.3" y2="262.86" stroke="#f01414" stroke-width="0.9" />
<line x1="426.7" y1="262.86" x2="429.9" y2="262.86" stroke="#f01414" stroke-width="0.9" />
<line x1="426.7" y1="265.78" x2="429.9" y2="265.78" stroke="#f01414" stroke-width="0.9" />
<line x1="435.9" y1="260.85" x2="435.9" y2="257.2" stroke="#f01414" stroke-width="0.9" />
<line x1="434.3" y1="257.2" x2="437.5" y2="257.2" stroke="#f01414" stroke-width="0.9" />
<line x1="434.3" y1="260.85" x2="437.5" y2="260.85" stroke="#f01414" stroke-width="0.9" />
<line x1="443.5" y1="256.1" x2="443.5" y2="251.72" stroke="#f01414" stroke-width="0.9" />
<line x1="441.9" y1="251.72" x2="445.1" y2="251.72" stroke="#f01414" stroke-width="0.9" />
<line x1="441.9" y1="256.1" x2="445.1" y2="256.1" stroke="#f01414" stroke-width="0.9" />
<line x1="451.1" y1="252.26" x2="451.1" y2="244.96" stroke="#f01414" stroke-width="0.9" />
<line x1="449.5" y1="244.96" x2="452.7" y2="244.96" stroke="#f01414" stroke-width="0.9" />
<line x1="449.5" y1="252.26" x2="452.7" y2="252.26" stroke="#f01414" stroke-width="0.9" />
<rect x="357.95" y="287.04" width="3.9" height="3.9" fill="#f01414" stroke="none" stroke-width="1" />
<rect x="365.55" y="286.49" width="3.9" height="3.9" fill="#f01414" stroke="none" stroke-width="1" />
<rect x="373.15" y="286.12" width="3.9" height="3.9" fill="#f01414" stroke="none" stroke-width="1" />
<rect x="380.75" y="284.48" width="3.9" height="3.9" fill="#f01414" stroke="none" stroke-width="1" />
<rect x="388.35" y="282.65" width="3.9" height="3.9" fill="#f01414" stroke="none" stroke-width="1" />
<rect x="395.95" y="279.91" width="3.9" height="3.9" fill="#f01414" stroke="none" stroke-width="1" />
<rect x="403.55" y="276.26" width="3.9" height="3.9" fill="#f01414" stroke="none" stroke-width="1" />
<rect x="411.15" y="272.06" width="3.9" height="3.9" fill="#f01414" stroke="none" stroke-width="1" />
<rect x="418.75" y="267.3" width="3.9" height="3.9" fill="#f01414" stroke="none" stroke-width="1" />
<rect x="426.35" y="262.37" width="3.9" height="3.9" fill="#f01414" stroke="none" stroke-width="1" />
<rect x="433.95" y="257.07" width="3.9" height="3.9" fill="#f01414" stroke="none" stroke-width="1" />
<rect x="441.55" y="251.96" width="3.9" height="3.9" fill="#f01414" stroke="none" stroke-width="1" />
<rect x="449.15" y="246.66" width="3.9" height="3.9" fill="#f01414" stroke="none" stroke-width="1" />
<polyline points="359.9,288.62 367.5,288.26 375.1,287.89 382.7,286.79 390.3,286.06 397.9,284.6 405.5,282.77 413.1,280.22 420.7,276.75 428.3,272.91 435.9,269.25 443.5,265.05 451.1,261.22" fill="none" stroke="#1010ee" stroke-width="1.1" stroke-linejoin="round" />
<line x1="397.9" y1="285.33" x2="397.9" y2="283.87" stroke="#1010ee" stroke-width="0.9" />
<line x1="396.3" y1="283.87" x2="399.5" y2="283.87" stroke="#1010ee" stroke-width="0.9" />
<line x1="396.3" y1="285.33" x2="399.5" y2="285.33" stroke="#1010ee" stroke-width="0.9" />
<line x1="405.5" y1="283.69" x2="405.5" y2="281.86" stroke="#1010ee" stroke-width="0.9" />
<line x1="403.9" y1="281.86" x2="407.1" y2="281.86" stroke="#1010ee" stroke-width="0.9" />
<line x1="403.9" y1="283.69" x2="407.1" y2="283.69" stroke="#1010ee" stroke-width="0.9" />
<line x1="413.1" y1="281.31" x2="413.1" y2="279.12" stroke="#1010ee" stroke-width="0.9" />
<line x1="411.5" y1="279.12" x2="414.7" y2="279.12" stroke="#1010ee" stroke-width="0.9" />
<line x1="411.5" y1="281.31" x2="414.7" y2="281.31" stroke="#1010ee" stroke-width="0.9" />
<line x1="420.7" y1="278.21" x2="420.7" y2="275.28" stroke="#1010ee" stroke-width="0.9" />
<line x1="419.1" y1="275.28" x2="422.3" y2="275.28" stroke="#1010ee" stroke-width="0.9" />
<line x1="419.1" y1="278.21" x2="422.3" y2="278.21" stroke="#1010ee" stroke-width="0.9" />
<line x1="428.3" y1="274.92" x2="428.3" y2="270.9" stroke="#1010ee" stroke-width="0.9" />
<line x1="426.7" y1="270.9" x2="429.9" y2="270.9" stroke="#1010ee" stroke-width="0.9" />
<line x1="426.7" y1="274.92" x2="429.9" y2="274.92" stroke="#1010ee" stroke-width="0.9" />
<line x1="435.9" y1="272" x2="435.9" y2="266.51" stroke="#1010ee" stroke-width="0.9" />
<line x1="434.3" y1="266.51" x2="437.5" y2="266.51" stroke="#1010ee" stroke-width="0.9" />
<line x1="434.3" y1="272" x2="437.5" y2="272" stroke="#1010ee" stroke-width="0.9" />
<line x1="443.5" y1="268.52" x2="443.5" y2="261.58" stroke="#1010ee" stroke-width="0.9" />
<line x1="441.9" y1="261.58" x2="445.1" y2="261.58" stroke="#1010ee" stroke-width="0.9" />
<line x1="441.9" y1="268.52" x2="445.1" y2="268.52" stroke="#1010ee" stroke-width="0.9" />
<line x1="451.1" y1="265.24" x2="451.1" y2="257.2" stroke="#1010ee" stroke-width="0.9" />
<line x1="449.5" y1="257.2" x2="452.7" y2="257.2" stroke="#1010ee" stroke-width="0.9" />
<line x1="449.5" y1="265.24" x2="452.7" y2="265.24" stroke="#1010ee" stroke-width="0.9" />
<circle cx="359.9" cy="288.62" r="2" fill="#1010ee"/>
<circle cx="367.5" cy="288.26" r="2" fill="#1010ee"/>
<circle cx="375.1" cy="287.89" r="2" fill="#1010ee"/>
<circle cx="382.7" cy="286.79" r="2" fill="#1010ee"/>
<circle cx="390.3" cy="286.06" r="2" fill="#1010ee"/>
<circle cx="397.9" cy="284.6" r="2" fill="#1010ee"/>
<circle cx="405.5" cy="282.77" r="2" fill="#1010ee"/>
<circle cx="413.1" cy="280.22" r="2" fill="#1010ee"/>
<circle cx="420.7" cy="276.75" r="2" fill="#1010ee"/>
<circle cx="428.3" cy="272.91" r="2" fill="#1010ee"/>
<circle cx="435.9" cy="269.25" r="2" fill="#1010ee"/>
<circle cx="443.5" cy="265.05" r="2" fill="#1010ee"/>
<circle cx="451.1" cy="261.22" r="2" fill="#1010ee"/>
<line x1="369.5" y1="198.5" x2="376.5" y2="198.5" stroke="#1010ee" stroke-width="0.9" />
<circle cx="373" cy="198.5" r="2" fill="#1010ee"/>
<text transform="translate(380.9,201.2) scale(1,1.06)" font-size="7.4" text-anchor="start" font-weight="normal" fill="#222" stroke="#222" stroke-width="0.21" >WT-R-ENDO</text>
<line x1="369.5" y1="207" x2="376.5" y2="207" stroke="#f01414" stroke-width="0.9" />
<rect x="371.05" y="205.05" width="3.9" height="3.9" fill="#f01414" stroke="none" stroke-width="1" />
<text transform="translate(380.9,209.7) scale(1,1.06)" font-size="7.4" text-anchor="start" font-weight="normal" fill="#222" stroke="#222" stroke-width="0.21" >WT-R-EPI</text>
<text transform="translate(421.4,270.4) scale(1.22,1)" font-size="12.4" text-anchor="middle" fill="#111" stroke="#111" stroke-width="0.35">*</text>
<text transform="translate(428.5,266.1) scale(1.22,1)" font-size="12.4" text-anchor="middle" fill="#111" stroke="#111" stroke-width="0.35">*</text>
<text transform="translate(435.4,260.1) scale(1.22,1)" font-size="12.4" text-anchor="middle" fill="#111" stroke="#111" stroke-width="0.35">**</text>
<text transform="translate(439.4,253.6) scale(1.22,1)" font-size="12.4" text-anchor="middle" fill="#111" stroke="#111" stroke-width="0.35">***</text>
<text transform="translate(451,247.5) scale(1.22,1)" font-size="12.4" text-anchor="middle" fill="#111" stroke="#111" stroke-width="0.35">****</text>
<text transform="translate(337.4,240.9) scale(1,1.06) rotate(-90)" font-size="10.6" text-anchor="middle" font-weight="normal" fill="#222" stroke="#222" stroke-width="0.3"><tspan font-style="italic">I</tspan><tspan font-size="8" dy="2.2">to</tspan><tspan dy="-2.2">(PA/pF)</tspan></text>
<text transform="translate(405.8,313) scale(1,1.06)" font-size="11.4" text-anchor="middle" font-weight="normal" fill="#222" stroke="#222" stroke-width="0.3" >mV</text>
<line x1="512.6" y1="197.8" x2="512.6" y2="289.1" stroke="#222" stroke-width="1.1" />
<line x1="512.1" y1="288.6" x2="604" y2="288.6" stroke="#222" stroke-width="1.1" />
<line x1="509.6" y1="288.6" x2="512.6" y2="288.6" stroke="#222" stroke-width="1.1" />
<text transform="translate(509.4,292.5) scale(1,1.06)" font-size="10.8" text-anchor="end" font-weight="normal" fill="#222" stroke="#222" stroke-width="0.3" >0</text>
<line x1="509.6" y1="270.44" x2="512.6" y2="270.44" stroke="#222" stroke-width="1.1" />
<text transform="translate(509.4,274.34) scale(1,1.06)" font-size="10.8" text-anchor="end" font-weight="normal" fill="#222" stroke="#222" stroke-width="0.3" >10</text>
<line x1="509.6" y1="252.28" x2="512.6" y2="252.28" stroke="#222" stroke-width="1.1" />
<text transform="translate(509.4,256.18) scale(1,1.06)" font-size="10.8" text-anchor="end" font-weight="normal" fill="#222" stroke="#222" stroke-width="0.3" >20</text>
<line x1="509.6" y1="234.12" x2="512.6" y2="234.12" stroke="#222" stroke-width="1.1" />
<text transform="translate(509.4,238.02) scale(1,1.06)" font-size="10.8" text-anchor="end" font-weight="normal" fill="#222" stroke="#222" stroke-width="0.3" >30</text>
<line x1="509.6" y1="215.96" x2="512.6" y2="215.96" stroke="#222" stroke-width="1.1" />
<text transform="translate(509.4,219.86) scale(1,1.06)" font-size="10.8" text-anchor="end" font-weight="normal" fill="#222" stroke="#222" stroke-width="0.3" >40</text>
<line x1="509.6" y1="197.8" x2="512.6" y2="197.8" stroke="#222" stroke-width="1.1" />
<text transform="translate(509.4,201.7) scale(1,1.06)" font-size="10.8" text-anchor="end" font-weight="normal" fill="#222" stroke="#222" stroke-width="0.3" >50</text>
<line x1="520.5" y1="288.6" x2="520.5" y2="291.2" stroke="#222" stroke-width="1.0" />
<text transform="translate(520.5,298) scale(1,1.06)" font-size="6.9" text-anchor="middle" font-weight="normal" fill="#222" stroke="#222" stroke-width="0.19" >-40</text>
<line x1="537" y1="288.6" x2="537" y2="291.2" stroke="#222" stroke-width="1.0" />
<text transform="translate(537,298) scale(1,1.06)" font-size="6.9" text-anchor="middle" font-weight="normal" fill="#222" stroke="#222" stroke-width="0.19" >-20</text>
<line x1="553.5" y1="288.6" x2="553.5" y2="291.2" stroke="#222" stroke-width="1.0" />
<text transform="translate(553.5,298) scale(1,1.06)" font-size="6.9" text-anchor="middle" font-weight="normal" fill="#222" stroke="#222" stroke-width="0.19" >0</text>
<line x1="570" y1="288.6" x2="570" y2="291.2" stroke="#222" stroke-width="1.0" />
<text transform="translate(570,298) scale(1,1.06)" font-size="6.9" text-anchor="middle" font-weight="normal" fill="#222" stroke="#222" stroke-width="0.19" >20</text>
<line x1="586.5" y1="288.6" x2="586.5" y2="291.2" stroke="#222" stroke-width="1.0" />
<text transform="translate(586.5,298) scale(1,1.06)" font-size="6.9" text-anchor="middle" font-weight="normal" fill="#222" stroke="#222" stroke-width="0.19" >40</text>
<line x1="603" y1="288.6" x2="603" y2="291.2" stroke="#222" stroke-width="1.0" />
<text transform="translate(603,298) scale(1,1.06)" font-size="6.9" text-anchor="middle" font-weight="normal" fill="#222" stroke="#222" stroke-width="0.19" >60</text>
<line x1="512.25" y1="288.6" x2="512.25" y2="290.2" stroke="#222" stroke-width="0.8" />
<line x1="528.75" y1="288.6" x2="528.75" y2="290.2" stroke="#222" stroke-width="0.8" />
<line x1="545.25" y1="288.6" x2="545.25" y2="290.2" stroke="#222" stroke-width="0.8" />
<line x1="561.75" y1="288.6" x2="561.75" y2="290.2" stroke="#222" stroke-width="0.8" />
<line x1="578.25" y1="288.6" x2="578.25" y2="290.2" stroke="#222" stroke-width="0.8" />
<line x1="594.75" y1="288.6" x2="594.75" y2="290.2" stroke="#222" stroke-width="0.8" />
<polyline points="512.25,288.42 520.5,287.51 528.75,285.88 537,284.6 545.25,283.88 553.5,282.43 561.75,280.61 570,278.25 578.25,275.52 586.5,272.8 594.75,269.71 603,267.17" fill="none" stroke="#22cc22" stroke-width="1.1" stroke-linejoin="round" />
<line x1="586.5" y1="273.53" x2="586.5" y2="272.07" stroke="#22cc22" stroke-width="0.9" />
<line x1="584.9" y1="272.07" x2="588.1" y2="272.07" stroke="#22cc22" stroke-width="0.9" />
<line x1="584.9" y1="273.53" x2="588.1" y2="273.53" stroke="#22cc22" stroke-width="0.9" />
<line x1="594.75" y1="270.62" x2="594.75" y2="268.81" stroke="#22cc22" stroke-width="0.9" />
<line x1="593.15" y1="268.81" x2="596.35" y2="268.81" stroke="#22cc22" stroke-width="0.9" />
<line x1="593.15" y1="270.62" x2="596.35" y2="270.62" stroke="#22cc22" stroke-width="0.9" />
<line x1="603" y1="268.26" x2="603" y2="266.08" stroke="#22cc22" stroke-width="0.9" />
<line x1="601.4" y1="266.08" x2="604.6" y2="266.08" stroke="#22cc22" stroke-width="0.9" />
<line x1="601.4" y1="268.26" x2="604.6" y2="268.26" stroke="#22cc22" stroke-width="0.9" />
<rect x="510.3" y="286.47" width="3.9" height="3.9" fill="#22cc22" stroke="none" stroke-width="1" />
<rect x="518.55" y="285.56" width="3.9" height="3.9" fill="#22cc22" stroke="none" stroke-width="1" />
<rect x="526.8" y="283.93" width="3.9" height="3.9" fill="#22cc22" stroke="none" stroke-width="1" />
<rect x="535.05" y="282.65" width="3.9" height="3.9" fill="#22cc22" stroke="none" stroke-width="1" />
<rect x="543.3" y="281.93" width="3.9" height="3.9" fill="#22cc22" stroke="none" stroke-width="1" />
<rect x="551.55" y="280.48" width="3.9" height="3.9" fill="#22cc22" stroke="none" stroke-width="1" />
<rect x="559.8" y="278.66" width="3.9" height="3.9" fill="#22cc22" stroke="none" stroke-width="1" />
<rect x="568.05" y="276.3" width="3.9" height="3.9" fill="#22cc22" stroke="none" stroke-width="1" />
<rect x="576.3" y="273.57" width="3.9" height="3.9" fill="#22cc22" stroke="none" stroke-width="1" />
<rect x="584.55" y="270.85" width="3.9" height="3.9" fill="#22cc22" stroke="none" stroke-width="1" />
<rect x="592.8" y="267.76" width="3.9" height="3.9" fill="#22cc22" stroke="none" stroke-width="1" />
<rect x="601.05" y="265.22" width="3.9" height="3.9" fill="#22cc22" stroke="none" stroke-width="1" />
<polyline points="512.25,288.24 520.5,287.51 528.75,286.78 537,286.24 545.25,284.97 553.5,282.97 561.75,280.61 570,277.7 578.25,274.44 586.5,270.98 594.75,267.9 603,264.27" fill="none" stroke="#111" stroke-width="1.1" stroke-linejoin="round" />
<line x1="537" y1="287.33" x2="537" y2="285.15" stroke="#111" stroke-width="0.9" />
<line x1="535.4" y1="285.15" x2="538.6" y2="285.15" stroke="#111" stroke-width="0.9" />
<line x1="535.4" y1="287.33" x2="538.6" y2="287.33" stroke="#111" stroke-width="0.9" />
<line x1="545.25" y1="285.69" x2="545.25" y2="284.24" stroke="#111" stroke-width="0.9" />
<line x1="543.65" y1="284.24" x2="546.85" y2="284.24" stroke="#111" stroke-width="0.9" />
<line x1="543.65" y1="285.69" x2="546.85" y2="285.69" stroke="#111" stroke-width="0.9" />
<line x1="553.5" y1="283.7" x2="553.5" y2="282.24" stroke="#111" stroke-width="0.9" />
<line x1="551.9" y1="282.24" x2="555.1" y2="282.24" stroke="#111" stroke-width="0.9" />
<line x1="551.9" y1="283.7" x2="555.1" y2="283.7" stroke="#111" stroke-width="0.9" />
<line x1="561.75" y1="281.52" x2="561.75" y2="279.7" stroke="#111" stroke-width="0.9" />
<line x1="560.15" y1="279.7" x2="563.35" y2="279.7" stroke="#111" stroke-width="0.9" />
<line x1="560.15" y1="281.52" x2="563.35" y2="281.52" stroke="#111" stroke-width="0.9" />
<line x1="570" y1="278.61" x2="570" y2="276.8" stroke="#111" stroke-width="0.9" />
<line x1="568.4" y1="276.8" x2="571.6" y2="276.8" stroke="#111" stroke-width="0.9" />
<line x1="568.4" y1="278.61" x2="571.6" y2="278.61" stroke="#111" stroke-width="0.9" />
<line x1="578.25" y1="275.52" x2="578.25" y2="273.35" stroke="#111" stroke-width="0.9" />
<line x1="576.65" y1="273.35" x2="579.85" y2="273.35" stroke="#111" stroke-width="0.9" />
<line x1="576.65" y1="275.52" x2="579.85" y2="275.52" stroke="#111" stroke-width="0.9" />
<line x1="586.5" y1="272.62" x2="586.5" y2="269.35" stroke="#111" stroke-width="0.9" />
<line x1="584.9" y1="269.35" x2="588.1" y2="269.35" stroke="#111" stroke-width="0.9" />
<line x1="584.9" y1="272.62" x2="588.1" y2="272.62" stroke="#111" stroke-width="0.9" />
<line x1="594.75" y1="269.9" x2="594.75" y2="265.9" stroke="#111" stroke-width="0.9" />
<line x1="593.15" y1="265.9" x2="596.35" y2="265.9" stroke="#111" stroke-width="0.9" />
<line x1="593.15" y1="269.9" x2="596.35" y2="269.9" stroke="#111" stroke-width="0.9" />
<line x1="603" y1="266.99" x2="603" y2="261.54" stroke="#111" stroke-width="0.9" />
<line x1="601.4" y1="261.54" x2="604.6" y2="261.54" stroke="#111" stroke-width="0.9" />
<line x1="601.4" y1="266.99" x2="604.6" y2="266.99" stroke="#111" stroke-width="0.9" />
<circle cx="512.25" cy="288.24" r="2" fill="#111"/>
<circle cx="520.5" cy="287.51" r="2" fill="#111"/>
<circle cx="528.75" cy="286.78" r="2" fill="#111"/>
<circle cx="537" cy="286.24" r="2" fill="#111"/>
<circle cx="545.25" cy="284.97" r="2" fill="#111"/>
<circle cx="553.5" cy="282.97" r="2" fill="#111"/>
<circle cx="561.75" cy="280.61" r="2" fill="#111"/>
<circle cx="570" cy="277.7" r="2" fill="#111"/>
<circle cx="578.25" cy="274.44" r="2" fill="#111"/>
<circle cx="586.5" cy="270.98" r="2" fill="#111"/>
<circle cx="594.75" cy="267.9" r="2" fill="#111"/>
<circle cx="603" cy="264.27" r="2" fill="#111"/>
<line x1="518.9" y1="197.3" x2="525.9" y2="197.3" stroke="#111" stroke-width="0.9" />
<circle cx="522.4" cy="197.3" r="2" fill="#111"/>
<text transform="translate(530.3,200) scale(1,1.06)" font-size="7.4" text-anchor="start" font-weight="normal" fill="#222" stroke="#222" stroke-width="0.21" >CIRBIL-TG-R-ENDO</text>
<line x1="518.9" y1="206.6" x2="525.9" y2="206.6" stroke="#22cc22" stroke-width="0.9" />
<rect x="520.45" y="204.65" width="3.9" height="3.9" fill="#22cc22" stroke="none" stroke-width="1" />
<text transform="translate(530.3,209.3) scale(1,1.06)" font-size="7.4" text-anchor="start" font-weight="normal" fill="#222" stroke="#222" stroke-width="0.21" >CIRBIL-TG-R-EPI</text>
<text transform="translate(490.4,240.4) scale(1,1.06) rotate(-90)" font-size="10.6" text-anchor="middle" font-weight="normal" fill="#222" stroke="#222" stroke-width="0.3"><tspan font-style="italic">I</tspan><tspan font-size="8" dy="2.2">to</tspan><tspan dy="-2.2">(PA/pF)</tspan></text>
<text transform="translate(558.9,312.3) scale(1,1.06)" font-size="11.6" text-anchor="middle" font-weight="normal" fill="#222" stroke="#222" stroke-width="0.3" >mV</text>
<defs>
<filter id="bl1" x="-20%" y="-50%" width="140%" height="200%"><feGaussianBlur stdDeviation="0.9"/></filter>
<filter id="bl2" x="-20%" y="-50%" width="140%" height="200%"><feGaussianBlur stdDeviation="0.6"/></filter>
<linearGradient id="gb1" x1="0" y1="0" x2="0" y2="1"><stop offset="0" stop-color="#9a9a9a"/><stop offset="0.3" stop-color="#c4c4c4"/><stop offset="0.7" stop-color="#d6d6d6"/><stop offset="1" stop-color="#cfcfcf"/></linearGradient>
<linearGradient id="gb2" x1="0" y1="0" x2="0" y2="1"><stop offset="0" stop-color="#c8c8c8"/><stop offset="1" stop-color="#d8d8d8"/></linearGradient>
</defs>
<rect x="111.5" y="388.2" width="101.1" height="14.7" fill="url(#gb1)" stroke="none" stroke-width="1" />
<rect x="111.5" y="405.8" width="101.1" height="18.8" fill="url(#gb2)" stroke="none" stroke-width="1" />
<rect x="135.60000000000002" y="388.8" width="2.4" height="13.6" fill="#ececec" opacity="0.75" filter="url(#bl2)"/>
<rect x="161.3" y="388.8" width="2.4" height="13.6" fill="#ececec" opacity="0.75" filter="url(#bl2)"/>
<rect x="186.3" y="388.8" width="2.4" height="13.6" fill="#ececec" opacity="0.75" filter="url(#bl2)"/>
<defs><linearGradient id="b3" x1="0" y1="0" x2="1" y2="0"><stop offset="0" stop-color="#2a2a2a"/><stop offset="0.45" stop-color="#444"/><stop offset="1" stop-color="#999" stop-opacity="0.5"/></linearGradient></defs>
<rect x="113.8" y="391" width="19.2" height="3.2" rx="1.2" fill="#252525" filter="url(#bl1)"/>
<rect x="138.5" y="392.9" width="20.1" height="3.4" rx="1.2" fill="#1c1c1c" filter="url(#bl1)"/>
<rect x="165.2" y="392.7" width="18.8" height="3" rx="1.2" fill="url(#b3)" filter="url(#bl1)"/>
<rect x="191.6" y="395.2" width="19.3" height="3.2" rx="1.2" fill="#2a2a2a" filter="url(#bl1)"/>
<rect x="113" y="399.3" width="98" height="1.2" fill="#b8b8b8" filter="url(#bl2)"/>
<rect x="114.6" y="408.1" width="21.6" height="8.2" rx="4.1" fill="#0a0a0a" filter="url(#bl1)"/>
<rect x="139.2" y="409.5" width="22.2" height="7.8" rx="3.9" fill="#0a0a0a" filter="url(#bl1)"/>
<rect x="164.4" y="409.8" width="21.2" height="10.2" rx="5.1" fill="#0a0a0a" filter="url(#bl1)"/>
<rect x="189.2" y="411.2" width="21" height="10" rx="5" fill="#0a0a0a" filter="url(#bl1)"/>
<rect x="111.5" y="388.2" width="101.1" height="14.7" fill="none" stroke="#1a1a1a" stroke-width="1.1" />
<rect x="111.5" y="405.8" width="101.1" height="18.8" fill="none" stroke="#1a1a1a" stroke-width="1.1" />
<text transform="translate(133.8,373) scale(1,1.06)" font-size="10.2" text-anchor="middle" font-weight="normal" fill="#111" stroke="#111" stroke-width="0.29" >WT-R</text>
<text transform="translate(188.4,373) scale(1,1.06)" font-size="10.2" text-anchor="middle" font-weight="normal" fill="#111" stroke="#111" stroke-width="0.29" >CIRBIL-TG-R</text>
<line x1="113.8" y1="376.3" x2="154" y2="376.3" stroke="#111" stroke-width="1.3" />
<line x1="165.4" y1="376.3" x2="206.5" y2="376.3" stroke="#111" stroke-width="1.3" />
<text transform="translate(111,387.5) scale(1,1.06)" font-size="9.5" text-anchor="start" font-weight="normal" fill="#111" stroke="#111" stroke-width="0.27" >ENDO</text>
<text transform="translate(142.2,387.5) scale(1,1.06)" font-size="9.5" text-anchor="start" font-weight="normal" fill="#111" stroke="#111" stroke-width="0.27" >EPI</text>
<text transform="translate(161.2,387.5) scale(1,1.06)" font-size="9.5" text-anchor="start" font-weight="normal" fill="#111" stroke="#111" stroke-width="0.27" >ENDO</text>
<text transform="translate(194.3,387.5) scale(1,1.06)" font-size="9.5" text-anchor="start" font-weight="normal" fill="#111" stroke="#111" stroke-width="0.27" >EPI</text>
<text transform="translate(108.6,402) scale(1,1.06)" font-size="9.8" text-anchor="end" font-weight="normal" fill="#111" stroke="#111" stroke-width="0.27" >Kv4.2</text>
<text transform="translate(109.2,419.3) scale(1,1.06)" font-size="10.0" text-anchor="end" font-weight="normal" fill="#111" stroke="#111" stroke-width="0.28" >GAPDH</text>
<text transform="translate(215.6,402) scale(1,1.06)" font-size="9.7" text-anchor="start" font-weight="normal" fill="#111" stroke="#111" stroke-width="0.27" >72 KD</text>
<text transform="translate(215.6,422.2) scale(1,1.06)" font-size="9.7" text-anchor="start" font-weight="normal" fill="#111" stroke="#111" stroke-width="0.27" >37 KD</text>
<rect x="305.4" y="405" width="11.3" height="22.2" fill="#fff" stroke="#111" stroke-width="1.1" />
<line x1="311.05" y1="404.4" x2="311.05" y2="405.6" stroke="#111" stroke-width="1.0" />
<line x1="308.05" y1="404.4" x2="314.05" y2="404.4" stroke="#111" stroke-width="1.0" />
<line x1="308.05" y1="405.6" x2="314.05" y2="405.6" stroke="#111" stroke-width="1.0" />
<circle cx="306.8" cy="404.9" r="1.8" fill="#000"/>
<circle cx="310.7" cy="404.9" r="1.8" fill="#000"/>
<circle cx="314.5" cy="404.9" r="1.8" fill="#000"/>
<rect x="319.3" y="386.3" width="11.8" height="40.9" fill="#fff" stroke="#1ec21e" stroke-width="1.1" />
<line x1="325.2" y1="381.8" x2="325.2" y2="390.8" stroke="#1ec21e" stroke-width="1.0" />
<line x1="322.2" y1="381.8" x2="328.2" y2="381.8" stroke="#1ec21e" stroke-width="1.0" />
<line x1="322.2" y1="390.8" x2="328.2" y2="390.8" stroke="#1ec21e" stroke-width="1.0" />
<rect x="321.28" y="378.43" width="3.6" height="3.6" fill="#1ec21e" stroke="none" stroke-width="1" />
<rect x="326.21" y="381.17" width="3.6" height="3.6" fill="#1ec21e" stroke="none" stroke-width="1" />
<rect x="324.02" y="393.59" width="3.6" height="3.6" fill="#1ec21e" stroke="none" stroke-width="1" />
<rect x="340.4" y="412.3" width="11.8" height="14.9" fill="#fff" stroke="#111" stroke-width="1.1" />
<line x1="346.3" y1="409.3" x2="346.3" y2="415.3" stroke="#111" stroke-width="1.0" />
<line x1="343.3" y1="409.3" x2="349.3" y2="409.3" stroke="#111" stroke-width="1.0" />
<line x1="343.3" y1="415.3" x2="349.3" y2="415.3" stroke="#111" stroke-width="1.0" />
<circle cx="345.91" cy="406.71" r="1.8" fill="#000"/>
<circle cx="342.63" cy="413.11" r="1.8" fill="#000"/>
<circle cx="349.02" cy="414.38" r="1.8" fill="#000"/>
<rect x="354.6" y="406.3" width="11.8" height="20.9" fill="#fff" stroke="#1ec21e" stroke-width="1.1" />
<line x1="360.5" y1="403.5" x2="360.5" y2="409.1" stroke="#1ec21e" stroke-width="1.0" />
<line x1="357.5" y1="403.5" x2="363.5" y2="403.5" stroke="#1ec21e" stroke-width="1.0" />
<line x1="357.5" y1="409.1" x2="363.5" y2="409.1" stroke="#1ec21e" stroke-width="1.0" />
<rect x="359.09" y="399.8" width="3.6" height="3.6" fill="#1ec21e" stroke="none" stroke-width="1" />
<rect x="355.44" y="405.83" width="3.6" height="3.6" fill="#1ec21e" stroke="none" stroke-width="1" />
<rect x="362.74" y="407.1" width="3.6" height="3.6" fill="#1ec21e" stroke="none" stroke-width="1" />
<line x1="298.3" y1="340.2" x2="298.3" y2="427.7" stroke="#333" stroke-width="1.1" />
<line x1="297.8" y1="427.2" x2="373.7" y2="427.2" stroke="#333" stroke-width="1.1" />
<line x1="295.3" y1="427.2" x2="298.3" y2="427.2" stroke="#333" stroke-width="1.1" />
<text transform="translate(295.3,430.98) scale(1,1.06)" font-size="10.5" text-anchor="end" font-weight="normal" fill="#222" stroke="#222" stroke-width="0.29" >0</text>
<line x1="295.3" y1="383.7" x2="298.3" y2="383.7" stroke="#333" stroke-width="1.1" />
<text transform="translate(295.3,387.48) scale(1,1.06)" font-size="10.5" text-anchor="end" font-weight="normal" fill="#222" stroke="#222" stroke-width="0.29" >2</text>
<line x1="295.3" y1="340.2" x2="298.3" y2="340.2" stroke="#333" stroke-width="1.1" />
<text transform="translate(295.3,343.98) scale(1,1.06)" font-size="10.5" text-anchor="end" font-weight="normal" fill="#222" stroke="#222" stroke-width="0.29" >4</text>
<line x1="318" y1="427.2" x2="318" y2="429.7" stroke="#333" stroke-width="1.0" />
<line x1="353.6" y1="427.2" x2="353.6" y2="429.7" stroke="#333" stroke-width="1.0" />
<circle cx="303.7" cy="333.8" r="1.93" fill="#000"/>
<text transform="translate(310.1,336.57) scale(1,1.06)" font-size="7.7" text-anchor="start" font-weight="normal" fill="#222" stroke="#222" stroke-width="0.22" >ENDO</text>
<rect x="352.18" y="331.88" width="3.85" height="3.85" fill="#1ec21e" stroke="none" stroke-width="1" />
<text transform="translate(361,336.57) scale(1,1.06)" font-size="7.7" text-anchor="start" font-weight="normal" fill="#222" stroke="#222" stroke-width="0.22" >EPI</text>
<polyline points="310.7,400.3 310.7,372 327.5,372 327.5,375.7" fill="none" stroke="#333" stroke-width="1.0" stroke-linejoin="round" />
<text transform="translate(319,375) scale(1.12,1)" font-size="16.9" text-anchor="middle" fill="#111" stroke="#111" stroke-width="0.35">**</text>
<polyline points="316.5,360.7 316.5,358.3 355,358.3 355,383" fill="none" stroke="#333" stroke-width="1.0" stroke-linejoin="round" />
<text transform="translate(335.8,357) scale(1,1.06)" font-size="10.5" text-anchor="middle" font-weight="normal" fill="#111" stroke="#111" stroke-width="0.29" >#</text>
<polyline points="344.5,396.7 344.5,393 362.4,393 362.4,396.7" fill="none" stroke="#333" stroke-width="1.0" stroke-linejoin="round" />
<text transform="translate(354.8,391.3) scale(1,1.06)" font-size="10.6" text-anchor="middle" font-weight="normal" fill="#111" stroke="#111" stroke-width="0.3" >ns</text>
<text transform="translate(284.6,380.8) scale(1,1.06) rotate(-90)" font-size="9.9" text-anchor="middle" font-weight="normal" fill="#222" stroke="#222" stroke-width="0.28">Kv4.2/GAPDH</text>
<text transform="translate(321.6,438) scale(1,1.06) rotate(-45)" font-size="10.6" text-anchor="end" font-weight="normal" fill="#222" stroke="#222" stroke-width="0.3">WT-R</text>
<text transform="translate(357.2,438) scale(1,1.06) rotate(-45)" font-size="10.6" text-anchor="end" font-weight="normal" fill="#222" stroke="#222" stroke-width="0.3">CIRBIL-TG-R</text>
<rect x="499.8" y="399.3" width="11.6" height="28.7" fill="#fff" stroke="#111" stroke-width="1.1" />
<line x1="505.6" y1="396.8" x2="505.6" y2="401.8" stroke="#111" stroke-width="1.0" />
<line x1="502.6" y1="396.8" x2="508.6" y2="396.8" stroke="#111" stroke-width="1.0" />
<line x1="502.6" y1="401.8" x2="508.6" y2="401.8" stroke="#111" stroke-width="1.0" />
<circle cx="505.5" cy="388.68" r="1.75" fill="#000"/>
<circle cx="503.56" cy="394.95" r="1.75" fill="#000"/>
<circle cx="506.99" cy="397.24" r="1.75" fill="#000"/>
<circle cx="501.28" cy="401.8" r="1.75" fill="#000"/>
<circle cx="504.13" cy="401.23" r="1.75" fill="#000"/>
<circle cx="506.42" cy="401.23" r="1.75" fill="#000"/>
<circle cx="509.27" cy="406.6" r="1.75" fill="#000"/>
<rect x="514" y="371.6" width="11.6" height="56.4" fill="#fff" stroke="#1ec21e" stroke-width="1.1" />
<line x1="519.8" y1="369.8" x2="519.8" y2="373.4" stroke="#1ec21e" stroke-width="1.0" />
<line x1="516.8" y1="369.8" x2="522.8" y2="369.8" stroke="#1ec21e" stroke-width="1.0" />
<line x1="516.8" y1="373.4" x2="522.8" y2="373.4" stroke="#1ec21e" stroke-width="1.0" />
<rect x="518.19" y="361.06" width="3.4" height="3.4" fill="#1ec21e" stroke="none" stroke-width="1" />
<rect x="518.19" y="364.14" width="3.4" height="3.4" fill="#1ec21e" stroke="none" stroke-width="1" />
<rect x="517.84" y="367" width="3.4" height="3.4" fill="#1ec21e" stroke="none" stroke-width="1" />
<rect x="514.99" y="370.42" width="3.4" height="3.4" fill="#1ec21e" stroke="none" stroke-width="1" />
<rect x="518.98" y="371.56" width="3.4" height="3.4" fill="#1ec21e" stroke="none" stroke-width="1" />
<rect x="517.27" y="373.28" width="3.4" height="3.4" fill="#1ec21e" stroke="none" stroke-width="1" />
<rect x="521.27" y="374.42" width="3.4" height="3.4" fill="#1ec21e" stroke="none" stroke-width="1" />
<rect x="521.84" y="375.56" width="3.4" height="3.4" fill="#1ec21e" stroke="none" stroke-width="1" />
<rect x="534.4" y="413.8" width="11.1" height="14.2" fill="#fff" stroke="#111" stroke-width="1.1" />
<line x1="539.95" y1="411.6" x2="539.95" y2="416" stroke="#111" stroke-width="1.0" />
<line x1="536.95" y1="411.6" x2="542.95" y2="411.6" stroke="#111" stroke-width="1.0" />
<line x1="536.95" y1="416" x2="542.95" y2="416" stroke="#111" stroke-width="1.0" />
<circle cx="543.86" cy="406.94" r="1.75" fill="#000"/>
<circle cx="536.32" cy="409.79" r="1.75" fill="#000"/>
<circle cx="540.66" cy="412.08" r="1.75" fill="#000"/>
<circle cx="536.1" cy="414.93" r="1.75" fill="#000"/>
<circle cx="540.09" cy="416.64" r="1.75" fill="#000"/>
<circle cx="544.09" cy="419.5" r="1.75" fill="#000"/>
<rect x="548.4" y="406.4" width="11.6" height="21.6" fill="#fff" stroke="#1ec21e" stroke-width="1.1" />
<line x1="554.2" y1="404.6" x2="554.2" y2="408.2" stroke="#1ec21e" stroke-width="1.0" />
<line x1="551.2" y1="404.6" x2="557.2" y2="404.6" stroke="#1ec21e" stroke-width="1.0" />
<line x1="551.2" y1="408.2" x2="557.2" y2="408.2" stroke="#1ec21e" stroke-width="1.0" />
<rect x="549.24" y="401.25" width="3.4" height="3.4" fill="#1ec21e" stroke="none" stroke-width="1" />
<rect x="552.66" y="400.67" width="3.4" height="3.4" fill="#1ec21e" stroke="none" stroke-width="1" />
<rect x="556.09" y="400.67" width="3.4" height="3.4" fill="#1ec21e" stroke="none" stroke-width="1" />
<rect x="548.09" y="403.53" width="3.4" height="3.4" fill="#1ec21e" stroke="none" stroke-width="1" />
<rect x="555.51" y="403.53" width="3.4" height="3.4" fill="#1ec21e" stroke="none" stroke-width="1" />
<rect x="552.66" y="405.81" width="3.4" height="3.4" fill="#1ec21e" stroke="none" stroke-width="1" />
<rect x="556.66" y="408.09" width="3.4" height="3.4" fill="#1ec21e" stroke="none" stroke-width="1" />
<rect x="553.23" y="409.24" width="3.4" height="3.4" fill="#1ec21e" stroke="none" stroke-width="1" />
<line x1="493.3" y1="342.8" x2="493.3" y2="428.5" stroke="#333" stroke-width="1.1" />
<line x1="492.8" y1="428" x2="566" y2="428" stroke="#333" stroke-width="1.1" />
<line x1="490.3" y1="428" x2="493.3" y2="428" stroke="#333" stroke-width="1.1" />
<text transform="translate(490.3,431.96) scale(1,1.06)" font-size="11.0" text-anchor="end" font-weight="normal" fill="#222" stroke="#222" stroke-width="0.3" >0</text>
<line x1="490.3" y1="399.6" x2="493.3" y2="399.6" stroke="#333" stroke-width="1.1" />
<text transform="translate(490.3,403.56) scale(1,1.06)" font-size="11.0" text-anchor="end" font-weight="normal" fill="#222" stroke="#222" stroke-width="0.3" >1</text>
<line x1="490.3" y1="371.2" x2="493.3" y2="371.2" stroke="#333" stroke-width="1.1" />
<text transform="translate(490.3,375.16) scale(1,1.06)" font-size="11.0" text-anchor="end" font-weight="normal" fill="#222" stroke="#222" stroke-width="0.3" >2</text>
<line x1="490.3" y1="342.8" x2="493.3" y2="342.8" stroke="#333" stroke-width="1.1" />
<text transform="translate(490.3,346.76) scale(1,1.06)" font-size="11.0" text-anchor="end" font-weight="normal" fill="#222" stroke="#222" stroke-width="0.3" >3</text>
<line x1="512.4" y1="428" x2="512.4" y2="430.5" stroke="#333" stroke-width="1.0" />
<line x1="547.3" y1="428" x2="547.3" y2="430.5" stroke="#333" stroke-width="1.0" />
<circle cx="501.7" cy="329.2" r="1.98" fill="#000"/>
<text transform="translate(508.4,332.04) scale(1,1.06)" font-size="7.9" text-anchor="start" font-weight="normal" fill="#222" stroke="#222" stroke-width="0.22" >ENDO</text>
<rect x="544.73" y="327.22" width="3.95" height="3.95" fill="#1ec21e" stroke="none" stroke-width="1" />
<text transform="translate(553.4,332.04) scale(1,1.06)" font-size="7.9" text-anchor="start" font-weight="normal" fill="#222" stroke="#222" stroke-width="0.22" >EPI</text>
<polyline points="504.4,384.1 504.4,354.8 521.6,354.8 521.6,358.5" fill="none" stroke="#333" stroke-width="1.0" stroke-linejoin="round" />
<text transform="translate(515.3,358.9) scale(1.12,1)" font-size="17.3" text-anchor="middle" fill="#111" stroke="#111" stroke-width="0.35">****</text>
<polyline points="514.2,345.7 514.2,343 547.7,343 547.7,385.8" fill="none" stroke="#333" stroke-width="1.0" stroke-linejoin="round" />
<text transform="translate(533.5,342.8) scale(1,1.06)" font-size="10.0" text-anchor="middle" font-weight="normal" fill="#111" stroke="#111" stroke-width="0.28" >####</text>
<polyline points="539.3,402.4 539.3,397.2 555.3,397.2 555.3,399.5" fill="none" stroke="#333" stroke-width="1.0" stroke-linejoin="round" />
<text transform="translate(547.9,395.3) scale(1,1.06)" font-size="11.0" text-anchor="middle" font-weight="normal" fill="#111" stroke="#111" stroke-width="0.3" >ns</text>
<text transform="translate(481.1,382.6) scale(1,1.06) rotate(-90)" font-size="9.8" text-anchor="middle" font-weight="normal" fill="#222" stroke="#222" stroke-width="0.27">Relative KCND2 mRNA level</text>
<text transform="translate(516.2,438.6) scale(1,1.06) rotate(-45)" font-size="10.6" text-anchor="end" font-weight="normal" fill="#222" stroke="#222" stroke-width="0.3">WT-R</text>
<text transform="translate(551.2,438.6) scale(1,1.06) rotate(-45)" font-size="10.6" text-anchor="end" font-weight="normal" fill="#222" stroke="#222" stroke-width="0.3">CIRBIL-TG-R</text>
<rect x="375.5" y="566.4" width="12.9" height="29" fill="#fff" stroke="#111" stroke-width="1.1" />
<line x1="381.95" y1="563.4" x2="381.95" y2="569.4" stroke="#111" stroke-width="1.0" />
<line x1="378.95" y1="563.4" x2="384.95" y2="563.4" stroke="#111" stroke-width="1.0" />
<line x1="378.95" y1="569.4" x2="384.95" y2="569.4" stroke="#111" stroke-width="1.0" />
<circle cx="383.39" cy="549.37" r="1.7" fill="#000"/>
<circle cx="380.35" cy="553.26" r="1.7" fill="#000"/>
<circle cx="383.39" cy="556.67" r="1.7" fill="#000"/>
<circle cx="380.35" cy="559.35" r="1.7" fill="#000"/>
<circle cx="383.39" cy="561.18" r="1.7" fill="#000"/>
<circle cx="377.55" cy="562.76" r="1.7" fill="#000"/>
<circle cx="380.96" cy="564.22" r="1.7" fill="#000"/>
<circle cx="385.59" cy="565.2" r="1.7" fill="#000"/>
<circle cx="379.13" cy="567.88" r="1.7" fill="#000"/>
<circle cx="384.61" cy="569.09" r="1.7" fill="#000"/>
<circle cx="382.18" cy="571.53" r="1.7" fill="#000"/>
<circle cx="377.31" cy="574.57" r="1.7" fill="#000"/>
<circle cx="380.35" cy="573.96" r="1.7" fill="#000"/>
<circle cx="379.13" cy="575.18" r="1.7" fill="#000"/>
<circle cx="383.15" cy="577.37" r="1.7" fill="#000"/>
<circle cx="386.44" cy="580.05" r="1.7" fill="#000"/>
<circle cx="381.57" cy="570.92" r="1.7" fill="#000"/>
<circle cx="385.83" cy="567.27" r="1.7" fill="#000"/>
<rect x="391.7" y="579.4" width="12.4" height="16" fill="#fff" stroke="#1ec21e" stroke-width="1.1" />
<line x1="397.9" y1="577.4" x2="397.9" y2="581.4" stroke="#1ec21e" stroke-width="1.0" />
<line x1="394.9" y1="577.4" x2="400.9" y2="577.4" stroke="#1ec21e" stroke-width="1.0" />
<line x1="394.9" y1="581.4" x2="400.9" y2="581.4" stroke="#1ec21e" stroke-width="1.0" />
<rect x="396.11" y="565.01" width="3.3" height="3.3" fill="#1ec21e" stroke="none" stroke-width="1" />
<rect x="393.31" y="570.49" width="3.3" height="3.3" fill="#1ec21e" stroke="none" stroke-width="1" />
<rect x="398.79" y="570.85" width="3.3" height="3.3" fill="#1ec21e" stroke="none" stroke-width="1" />
<rect x="396.11" y="572.31" width="3.3" height="3.3" fill="#1ec21e" stroke="none" stroke-width="1" />
<rect x="394.53" y="574.75" width="3.3" height="3.3" fill="#1ec21e" stroke="none" stroke-width="1" />
<rect x="398.18" y="575.97" width="3.3" height="3.3" fill="#1ec21e" stroke="none" stroke-width="1" />
<rect x="392.09" y="578.4" width="3.3" height="3.3" fill="#1ec21e" stroke="none" stroke-width="1" />
<rect x="396.36" y="579.38" width="3.3" height="3.3" fill="#1ec21e" stroke="none" stroke-width="1" />
<rect x="400.01" y="579.01" width="3.3" height="3.3" fill="#1ec21e" stroke="none" stroke-width="1" />
<rect x="393.92" y="581.45" width="3.3" height="3.3" fill="#1ec21e" stroke="none" stroke-width="1" />
<rect x="397.57" y="583.27" width="3.3" height="3.3" fill="#1ec21e" stroke="none" stroke-width="1" />
<rect x="400.62" y="585.71" width="3.3" height="3.3" fill="#1ec21e" stroke="none" stroke-width="1" />
<rect x="395.14" y="580.23" width="3.3" height="3.3" fill="#1ec21e" stroke="none" stroke-width="1" />
<rect x="398.79" y="581.45" width="3.3" height="3.3" fill="#1ec21e" stroke="none" stroke-width="1" />
<rect x="392.7" y="579.62" width="3.3" height="3.3" fill="#1ec21e" stroke="none" stroke-width="1" />
<rect x="414.4" y="572.1" width="12.5" height="23.3" fill="#fff" stroke="#111" stroke-width="1.1" />
<line x1="420.65" y1="568.6" x2="420.65" y2="575.6" stroke="#111" stroke-width="1.0" />
<line x1="417.65" y1="568.6" x2="423.65" y2="568.6" stroke="#111" stroke-width="1.0" />
<line x1="417.65" y1="575.6" x2="423.65" y2="575.6" stroke="#111" stroke-width="1.0" />
<circle cx="418.1" cy="555.94" r="1.7" fill="#000"/>
<circle cx="422.6" cy="560.81" r="1.7" fill="#000"/>
<circle cx="416.27" cy="569.34" r="1.7" fill="#000"/>
<circle cx="420.17" cy="567.63" r="1.7" fill="#000"/>
<circle cx="424.55" cy="567.27" r="1.7" fill="#000"/>
<circle cx="420.17" cy="575.18" r="1.7" fill="#000"/>
<circle cx="415.66" cy="580.66" r="1.7" fill="#000"/>
<circle cx="420.17" cy="583.34" r="1.7" fill="#000"/>
<circle cx="424.79" cy="583.95" r="1.7" fill="#000"/>
<rect x="429.7" y="564.2" width="12.8" height="31.2" fill="#fff" stroke="#1ec21e" stroke-width="1.1" />
<line x1="436.1" y1="560.6" x2="436.1" y2="567.8" stroke="#1ec21e" stroke-width="1.0" />
<line x1="433.1" y1="560.6" x2="439.1" y2="560.6" stroke="#1ec21e" stroke-width="1.0" />
<line x1="433.1" y1="567.8" x2="439.1" y2="567.8" stroke="#1ec21e" stroke-width="1.0" />
<rect x="433.13" y="541.63" width="3.3" height="3.3" fill="#1ec21e" stroke="none" stroke-width="1" />
<rect x="435.69" y="545.53" width="3.3" height="3.3" fill="#1ec21e" stroke="none" stroke-width="1" />
<rect x="434.1" y="562.57" width="3.3" height="3.3" fill="#1ec21e" stroke="none" stroke-width="1" />
<rect x="431.67" y="565.01" width="3.3" height="3.3" fill="#1ec21e" stroke="none" stroke-width="1" />
<rect x="435.93" y="565.98" width="3.3" height="3.3" fill="#1ec21e" stroke="none" stroke-width="1" />
<rect x="429.84" y="567.44" width="3.3" height="3.3" fill="#1ec21e" stroke="none" stroke-width="1" />
<rect x="434.1" y="568.66" width="3.3" height="3.3" fill="#1ec21e" stroke="none" stroke-width="1" />
<rect x="437.15" y="569.27" width="3.3" height="3.3" fill="#1ec21e" stroke="none" stroke-width="1" />
<rect x="438.97" y="572.07" width="3.3" height="3.3" fill="#1ec21e" stroke="none" stroke-width="1" />
<rect x="431.67" y="569.88" width="3.3" height="3.3" fill="#1ec21e" stroke="none" stroke-width="1" />
<line x1="368.4" y1="514.7" x2="368.4" y2="595.9" stroke="#333" stroke-width="1.1" />
<line x1="367.9" y1="595.4" x2="449.8" y2="595.4" stroke="#333" stroke-width="1.1" />
<line x1="365.4" y1="595.4" x2="368.4" y2="595.4" stroke="#333" stroke-width="1.1" />
<text transform="translate(365.4,598.86) scale(1,1.06)" font-size="9.6" text-anchor="end" font-weight="normal" fill="#222" stroke="#222" stroke-width="0.27" >0</text>
<line x1="365.4" y1="579.26" x2="368.4" y2="579.26" stroke="#333" stroke-width="1.1" />
<text transform="translate(365.4,582.72) scale(1,1.06)" font-size="9.6" text-anchor="end" font-weight="normal" fill="#222" stroke="#222" stroke-width="0.27" >5</text>
<line x1="365.4" y1="563.12" x2="368.4" y2="563.12" stroke="#333" stroke-width="1.1" />
<text transform="translate(365.4,566.58) scale(1,1.06)" font-size="9.6" text-anchor="end" font-weight="normal" fill="#222" stroke="#222" stroke-width="0.27" >10</text>
<line x1="365.4" y1="546.98" x2="368.4" y2="546.98" stroke="#333" stroke-width="1.1" />
<text transform="translate(365.4,550.44) scale(1,1.06)" font-size="9.6" text-anchor="end" font-weight="normal" fill="#222" stroke="#222" stroke-width="0.27" >15</text>
<line x1="365.4" y1="530.84" x2="368.4" y2="530.84" stroke="#333" stroke-width="1.1" />
<text transform="translate(365.4,534.3) scale(1,1.06)" font-size="9.6" text-anchor="end" font-weight="normal" fill="#222" stroke="#222" stroke-width="0.27" >20</text>
<line x1="365.4" y1="514.7" x2="368.4" y2="514.7" stroke="#333" stroke-width="1.1" />
<text transform="translate(365.4,518.16) scale(1,1.06)" font-size="9.6" text-anchor="end" font-weight="normal" fill="#222" stroke="#222" stroke-width="0.27" >25</text>
<line x1="389.5" y1="595.4" x2="389.5" y2="597.9" stroke="#333" stroke-width="1.0" />
<line x1="428.4" y1="595.4" x2="428.4" y2="597.9" stroke="#333" stroke-width="1.0" />
<circle cx="376.6" cy="503.4" r="1.57" fill="#000"/>
<text transform="translate(382.6,505.67) scale(1,1.06)" font-size="6.3" text-anchor="start" font-weight="normal" fill="#222" stroke="#222" stroke-width="0.18" >ENDO</text>
<rect x="414.23" y="501.82" width="3.15" height="3.15" fill="#1ec21e" stroke="none" stroke-width="1" />
<text transform="translate(422,505.67) scale(1,1.06)" font-size="6.3" text-anchor="start" font-weight="normal" fill="#222" stroke="#222" stroke-width="0.18" >EPI</text>
<polyline points="379.3,543.9 379.3,541.2 399.8,541.2 399.8,560.4" fill="none" stroke="#333" stroke-width="1.0" stroke-linejoin="round" />
<text transform="translate(389.8,543.8) scale(1.12,1)" font-size="15.8" text-anchor="middle" fill="#111" stroke="#111" stroke-width="0.35">**</text>
<polyline points="419.9,554.9 419.9,534.8 436.9,534.8 436.9,538.4" fill="none" stroke="#333" stroke-width="1.0" stroke-linejoin="round" />
<text transform="translate(429,533.8) scale(1,1.06)" font-size="9.8" text-anchor="middle" font-weight="normal" fill="#111" stroke="#111" stroke-width="0.27" >ns</text>
<text transform="translate(347.2,551.9) scale(1,1.06) rotate(-90)" font-size="9.3" text-anchor="middle" font-weight="normal" fill="#222" stroke="#222" stroke-width="0.26">APD<tspan font-size="6.98" dy="1.49">20</tspan><tspan dy="-1.49"> (ms)</tspan></text>
<text transform="translate(393.5,605.5) scale(1,1.06) rotate(-45)" font-size="9.9" text-anchor="end" font-weight="normal" fill="#222" stroke="#222" stroke-width="0.28">WT-R</text>
<text transform="translate(432.5,605.3) scale(1,1.06) rotate(-45)" font-size="9.9" text-anchor="end" font-weight="normal" fill="#222" stroke="#222" stroke-width="0.28">CIRBIL-TG-R</text>
<rect x="510.5" y="559.2" width="12.5" height="28.9" fill="#fff" stroke="#111" stroke-width="1.1" />
<line x1="516.75" y1="556.2" x2="516.75" y2="562.2" stroke="#111" stroke-width="1.0" />
<line x1="513.75" y1="556.2" x2="519.75" y2="556.2" stroke="#111" stroke-width="1.0" />
<line x1="513.75" y1="562.2" x2="519.75" y2="562.2" stroke="#111" stroke-width="1.0" />
<circle cx="516.57" cy="534.37" r="1.7" fill="#000"/>
<circle cx="517.18" cy="542.53" r="1.7" fill="#000"/>
<circle cx="515.35" cy="544.96" r="1.7" fill="#000"/>
<circle cx="517.18" cy="549.22" r="1.7" fill="#000"/>
<circle cx="515.35" cy="551.42" r="1.7" fill="#000"/>
<circle cx="517.18" cy="553.49" r="1.7" fill="#000"/>
<circle cx="515.35" cy="556.53" r="1.7" fill="#000"/>
<circle cx="512.91" cy="560.18" r="1.7" fill="#000"/>
<circle cx="516.57" cy="560.18" r="1.7" fill="#000"/>
<circle cx="519.61" cy="562.01" r="1.7" fill="#000"/>
<circle cx="513.28" cy="563.23" r="1.7" fill="#000"/>
<circle cx="511.7" cy="568.71" r="1.7" fill="#000"/>
<circle cx="512.91" cy="569.92" r="1.7" fill="#000"/>
<circle cx="514.5" cy="571.75" r="1.7" fill="#000"/>
<circle cx="516.57" cy="572.97" r="1.7" fill="#000"/>
<circle cx="518.39" cy="573.58" r="1.7" fill="#000"/>
<circle cx="520.22" cy="573.82" r="1.7" fill="#000"/>
<circle cx="517.18" cy="555.31" r="1.7" fill="#000"/>
<rect x="526" y="572.4" width="12.9" height="15.7" fill="#fff" stroke="#1ec21e" stroke-width="1.1" />
<line x1="532.45" y1="570.4" x2="532.45" y2="574.4" stroke="#1ec21e" stroke-width="1.0" />
<line x1="529.45" y1="570.4" x2="535.45" y2="570.4" stroke="#1ec21e" stroke-width="1.0" />
<line x1="529.45" y1="574.4" x2="535.45" y2="574.4" stroke="#1ec21e" stroke-width="1.0" />
<rect x="530.14" y="559.14" width="3.3" height="3.3" fill="#1ec21e" stroke="none" stroke-width="1" />
<rect x="530.75" y="561.58" width="3.3" height="3.3" fill="#1ec21e" stroke="none" stroke-width="1" />
<rect x="527.7" y="568.88" width="3.3" height="3.3" fill="#1ec21e" stroke="none" stroke-width="1" />
<rect x="533.79" y="568.27" width="3.3" height="3.3" fill="#1ec21e" stroke="none" stroke-width="1" />
<rect x="531.36" y="570.71" width="3.3" height="3.3" fill="#1ec21e" stroke="none" stroke-width="1" />
<rect x="528.92" y="572.54" width="3.3" height="3.3" fill="#1ec21e" stroke="none" stroke-width="1" />
<rect x="525.27" y="573.14" width="3.3" height="3.3" fill="#1ec21e" stroke="none" stroke-width="1" />
<rect x="532.57" y="574.36" width="3.3" height="3.3" fill="#1ec21e" stroke="none" stroke-width="1" />
<rect x="530.14" y="576.19" width="3.3" height="3.3" fill="#1ec21e" stroke="none" stroke-width="1" />
<rect x="531.96" y="579.23" width="3.3" height="3.3" fill="#1ec21e" stroke="none" stroke-width="1" />
<rect x="527.7" y="571.32" width="3.3" height="3.3" fill="#1ec21e" stroke="none" stroke-width="1" />
<rect x="535.01" y="570.71" width="3.3" height="3.3" fill="#1ec21e" stroke="none" stroke-width="1" />
<rect x="548.6" y="561.4" width="12.7" height="26.7" fill="#fff" stroke="#111" stroke-width="1.1" />
<line x1="554.95" y1="558.4" x2="554.95" y2="564.4" stroke="#111" stroke-width="1.0" />
<line x1="551.95" y1="558.4" x2="557.95" y2="558.4" stroke="#111" stroke-width="1.0" />
<line x1="551.95" y1="564.4" x2="557.95" y2="564.4" stroke="#111" stroke-width="1.0" />
<circle cx="550.3" cy="549.83" r="1.7" fill="#000"/>
<circle cx="554.68" cy="549.83" r="1.7" fill="#000"/>
<circle cx="558.58" cy="551.05" r="1.7" fill="#000"/>
<circle cx="556.75" cy="554.09" r="1.7" fill="#000"/>
<circle cx="553.1" cy="557.14" r="1.7" fill="#000"/>
<circle cx="554.68" cy="568.1" r="1.7" fill="#000"/>
<circle cx="550.3" cy="571.14" r="1.7" fill="#000"/>
<circle cx="555.17" cy="573.58" r="1.7" fill="#000"/>
<circle cx="559.55" cy="573.58" r="1.7" fill="#000"/>
<rect x="564.3" y="560.2" width="12.5" height="27.9" fill="#fff" stroke="#1ec21e" stroke-width="1.1" />
<line x1="570.55" y1="556.6" x2="570.55" y2="563.8" stroke="#1ec21e" stroke-width="1.0" />
<line x1="567.55" y1="556.6" x2="573.55" y2="556.6" stroke="#1ec21e" stroke-width="1.0" />
<line x1="567.55" y1="563.8" x2="573.55" y2="563.8" stroke="#1ec21e" stroke-width="1.0" />
<rect x="569.1" y="536.01" width="3.3" height="3.3" fill="#1ec21e" stroke="none" stroke-width="1" />
<rect x="564.84" y="547.57" width="3.3" height="3.3" fill="#1ec21e" stroke="none" stroke-width="1" />
<rect x="569.1" y="550.25" width="3.3" height="3.3" fill="#1ec21e" stroke="none" stroke-width="1" />
<rect x="573.37" y="553.05" width="3.3" height="3.3" fill="#1ec21e" stroke="none" stroke-width="1" />
<rect x="565.45" y="554.88" width="3.3" height="3.3" fill="#1ec21e" stroke="none" stroke-width="1" />
<rect x="569.71" y="558.53" width="3.3" height="3.3" fill="#1ec21e" stroke="none" stroke-width="1" />
<rect x="566.67" y="559.75" width="3.3" height="3.3" fill="#1ec21e" stroke="none" stroke-width="1" />
<rect x="564.23" y="565.23" width="3.3" height="3.3" fill="#1ec21e" stroke="none" stroke-width="1" />
<rect x="569.1" y="567.67" width="3.3" height="3.3" fill="#1ec21e" stroke="none" stroke-width="1" />
<rect x="573.37" y="568.27" width="3.3" height="3.3" fill="#1ec21e" stroke="none" stroke-width="1" />
<rect x="569.1" y="574.61" width="3.3" height="3.3" fill="#1ec21e" stroke="none" stroke-width="1" />
<rect x="570.93" y="560.36" width="3.3" height="3.3" fill="#1ec21e" stroke="none" stroke-width="1" />
<line x1="503.3" y1="507.22" x2="503.3" y2="588.6" stroke="#333" stroke-width="1.1" />
<line x1="502.8" y1="588.1" x2="583.6" y2="588.1" stroke="#333" stroke-width="1.1" />
<line x1="500.3" y1="588.1" x2="503.3" y2="588.1" stroke="#333" stroke-width="1.1" />
<text transform="translate(500.3,591.56) scale(1,1.06)" font-size="9.6" text-anchor="end" font-weight="normal" fill="#222" stroke="#222" stroke-width="0.27" >0</text>
<line x1="500.3" y1="567.88" x2="503.3" y2="567.88" stroke="#333" stroke-width="1.1" />
<text transform="translate(500.3,571.34) scale(1,1.06)" font-size="9.6" text-anchor="end" font-weight="normal" fill="#222" stroke="#222" stroke-width="0.27" >10</text>
<line x1="500.3" y1="547.66" x2="503.3" y2="547.66" stroke="#333" stroke-width="1.1" />
<text transform="translate(500.3,551.12) scale(1,1.06)" font-size="9.6" text-anchor="end" font-weight="normal" fill="#222" stroke="#222" stroke-width="0.27" >20</text>
<line x1="500.3" y1="527.44" x2="503.3" y2="527.44" stroke="#333" stroke-width="1.1" />
<text transform="translate(500.3,530.9) scale(1,1.06)" font-size="9.6" text-anchor="end" font-weight="normal" fill="#222" stroke="#222" stroke-width="0.27" >30</text>
<line x1="500.3" y1="507.22" x2="503.3" y2="507.22" stroke="#333" stroke-width="1.1" />
<text transform="translate(500.3,510.68) scale(1,1.06)" font-size="9.6" text-anchor="end" font-weight="normal" fill="#222" stroke="#222" stroke-width="0.27" >40</text>
<line x1="524.2" y1="588.1" x2="524.2" y2="590.6" stroke="#333" stroke-width="1.0" />
<line x1="562.2" y1="588.1" x2="562.2" y2="590.6" stroke="#333" stroke-width="1.0" />
<circle cx="507.3" cy="497.5" r="1.57" fill="#000"/>
<text transform="translate(514,499.77) scale(1,1.06)" font-size="6.3" text-anchor="start" font-weight="normal" fill="#222" stroke="#222" stroke-width="0.18" >ENDO</text>
<rect x="552.22" y="495.93" width="3.15" height="3.15" fill="#1ec21e" stroke="none" stroke-width="1" />
<text transform="translate(560,499.77) scale(1,1.06)" font-size="6.3" text-anchor="start" font-weight="normal" fill="#222" stroke="#222" stroke-width="0.18" >EPI</text>
<polyline points="517.1,533.3 517.1,527.3 533.5,527.3 533.5,561" fill="none" stroke="#333" stroke-width="1.0" stroke-linejoin="round" />
<text transform="translate(525,530.8) scale(1.12,1)" font-size="17.2" text-anchor="middle" fill="#111" stroke="#111" stroke-width="0.35">**</text>
<polyline points="554.8,548.2 554.8,530.1 570.8,530.1 570.8,533.3" fill="none" stroke="#333" stroke-width="1.0" stroke-linejoin="round" />
<text transform="translate(558.6,528.9) scale(1,1.06)" font-size="9.9" text-anchor="middle" font-weight="normal" fill="#111" stroke="#111" stroke-width="0.28" >ns</text>
<text transform="translate(483.4,544.8) scale(1,1.06) rotate(-90)" font-size="9.35" text-anchor="middle" font-weight="normal" fill="#222" stroke="#222" stroke-width="0.26">APD<tspan font-size="7.01" dy="1.5">50</tspan><tspan dy="-1.5"> (ms)</tspan></text>
<text transform="translate(528,598.6) scale(1,1.06) rotate(-45)" font-size="9.9" text-anchor="end" font-weight="normal" fill="#222" stroke="#222" stroke-width="0.28">WT-R</text>
<text transform="translate(566,598.6) scale(1,1.06) rotate(-45)" font-size="9.9" text-anchor="end" font-weight="normal" fill="#222" stroke="#222" stroke-width="0.28">CIRBIL-TG-R</text>
<rect x="102.9" y="725" width="13.1" height="28.3" fill="#fff" stroke="#111" stroke-width="1.1" />
<line x1="109.45" y1="722" x2="109.45" y2="728" stroke="#111" stroke-width="1.0" />
<line x1="106.45" y1="722" x2="112.45" y2="722" stroke="#111" stroke-width="1.0" />
<line x1="106.45" y1="728" x2="112.45" y2="728" stroke="#111" stroke-width="1.0" />
<circle cx="109.2" cy="688.26" r="1.7" fill="#000"/>
<circle cx="107.98" cy="706.53" r="1.7" fill="#000"/>
<circle cx="110.79" cy="709.57" r="1.7" fill="#000"/>
<circle cx="107.98" cy="716.88" r="1.7" fill="#000"/>
<circle cx="110.79" cy="719.92" r="1.7" fill="#000"/>
<circle cx="106.52" cy="723.58" r="1.7" fill="#000"/>
<circle cx="109.93" cy="724.79" r="1.7" fill="#000"/>
<circle cx="112.37" cy="727.23" r="1.7" fill="#000"/>
<circle cx="108.96" cy="728.45" r="1.7" fill="#000"/>
<circle cx="113.83" cy="730.88" r="1.7" fill="#000"/>
<circle cx="104.7" cy="733.32" r="1.7" fill="#000"/>
<circle cx="106.52" cy="735.75" r="1.7" fill="#000"/>
<circle cx="108.35" cy="736.36" r="1.7" fill="#000"/>
<circle cx="110.18" cy="740.02" r="1.7" fill="#000"/>
<circle cx="112.37" cy="740.87" r="1.7" fill="#000"/>
<circle cx="105.31" cy="730.88" r="1.7" fill="#000"/>
<circle cx="111.39" cy="729.67" r="1.7" fill="#000"/>
<rect x="118.7" y="737.6" width="13.2" height="15.7" fill="#fff" stroke="#1ec21e" stroke-width="1.1" />
<line x1="125.3" y1="735.6" x2="125.3" y2="739.6" stroke="#1ec21e" stroke-width="1.0" />
<line x1="122.3" y1="735.6" x2="128.3" y2="735.6" stroke="#1ec21e" stroke-width="1.0" />
<line x1="122.3" y1="739.6" x2="128.3" y2="739.6" stroke="#1ec21e" stroke-width="1.0" />
<rect x="124.11" y="723.75" width="3.3" height="3.3" fill="#1ec21e" stroke="none" stroke-width="1" />
<rect x="123.75" y="726.8" width="3.3" height="3.3" fill="#1ec21e" stroke="none" stroke-width="1" />
<rect x="123.14" y="729.84" width="3.3" height="3.3" fill="#1ec21e" stroke="none" stroke-width="1" />
<rect x="118.88" y="733.49" width="3.3" height="3.3" fill="#1ec21e" stroke="none" stroke-width="1" />
<rect x="125.57" y="731.67" width="3.3" height="3.3" fill="#1ec21e" stroke="none" stroke-width="1" />
<rect x="121.92" y="734.1" width="3.3" height="3.3" fill="#1ec21e" stroke="none" stroke-width="1" />
<rect x="126.79" y="735.32" width="3.3" height="3.3" fill="#1ec21e" stroke="none" stroke-width="1" />
<rect x="120.7" y="737.15" width="3.3" height="3.3" fill="#1ec21e" stroke="none" stroke-width="1" />
<rect x="128.62" y="737.76" width="3.3" height="3.3" fill="#1ec21e" stroke="none" stroke-width="1" />
<rect x="123.14" y="740.19" width="3.3" height="3.3" fill="#1ec21e" stroke="none" stroke-width="1" />
<rect x="125.57" y="743.24" width="3.3" height="3.3" fill="#1ec21e" stroke="none" stroke-width="1" />
<rect x="127.4" y="745.67" width="3.3" height="3.3" fill="#1ec21e" stroke="none" stroke-width="1" />
<rect x="124.36" y="741.41" width="3.3" height="3.3" fill="#1ec21e" stroke="none" stroke-width="1" />
<rect x="119.49" y="735.32" width="3.3" height="3.3" fill="#1ec21e" stroke="none" stroke-width="1" />
<rect x="129.23" y="740.19" width="3.3" height="3.3" fill="#1ec21e" stroke="none" stroke-width="1" />
<rect x="141.6" y="709.2" width="13" height="44.1" fill="#fff" stroke="#111" stroke-width="1.1" />
<line x1="148.1" y1="705.2" x2="148.1" y2="713.2" stroke="#111" stroke-width="1.0" />
<line x1="145.1" y1="705.2" x2="151.1" y2="705.2" stroke="#111" stroke-width="1.0" />
<line x1="145.1" y1="713.2" x2="151.1" y2="713.2" stroke="#111" stroke-width="1.0" />
<circle cx="143.66" cy="695.57" r="1.7" fill="#000"/>
<circle cx="147.68" cy="697.4" r="1.7" fill="#000"/>
<circle cx="152.55" cy="697.4" r="1.7" fill="#000"/>
<circle cx="150.36" cy="702.27" r="1.7" fill="#000"/>
<circle cx="146.1" cy="704.09" r="1.7" fill="#000"/>
<circle cx="147.92" cy="706.53" r="1.7" fill="#000"/>
<circle cx="146.46" cy="710.18" r="1.7" fill="#000"/>
<circle cx="150.36" cy="713.23" r="1.7" fill="#000"/>
<circle cx="146.1" cy="729.06" r="1.7" fill="#000"/>
<circle cx="150.36" cy="730.27" r="1.7" fill="#000"/>
<rect x="157.4" y="717.2" width="13.4" height="36.1" fill="#fff" stroke="#1ec21e" stroke-width="1.1" />
<line x1="164.1" y1="714.2" x2="164.1" y2="720.2" stroke="#1ec21e" stroke-width="1.0" />
<line x1="161.1" y1="714.2" x2="167.1" y2="714.2" stroke="#1ec21e" stroke-width="1.0" />
<line x1="161.1" y1="720.2" x2="167.1" y2="720.2" stroke="#1ec21e" stroke-width="1.0" />
<rect x="162.71" y="700.25" width="3.3" height="3.3" fill="#1ec21e" stroke="none" stroke-width="1" />
<rect x="159.06" y="707.31" width="3.3" height="3.3" fill="#1ec21e" stroke="none" stroke-width="1" />
<rect x="162.71" y="708.53" width="3.3" height="3.3" fill="#1ec21e" stroke="none" stroke-width="1" />
<rect x="165.76" y="709.75" width="3.3" height="3.3" fill="#1ec21e" stroke="none" stroke-width="1" />
<rect x="160.89" y="713.4" width="3.3" height="3.3" fill="#1ec21e" stroke="none" stroke-width="1" />
<rect x="163.32" y="714.62" width="3.3" height="3.3" fill="#1ec21e" stroke="none" stroke-width="1" />
<rect x="160.89" y="718.27" width="3.3" height="3.3" fill="#1ec21e" stroke="none" stroke-width="1" />
<rect x="164.54" y="718.88" width="3.3" height="3.3" fill="#1ec21e" stroke="none" stroke-width="1" />
<rect x="157.23" y="721.93" width="3.3" height="3.3" fill="#1ec21e" stroke="none" stroke-width="1" />
<rect x="160.28" y="724.36" width="3.3" height="3.3" fill="#1ec21e" stroke="none" stroke-width="1" />
<rect x="163.32" y="725.58" width="3.3" height="3.3" fill="#1ec21e" stroke="none" stroke-width="1" />
<rect x="166.37" y="726.8" width="3.3" height="3.3" fill="#1ec21e" stroke="none" stroke-width="1" />
<rect x="168.19" y="728.02" width="3.3" height="3.3" fill="#1ec21e" stroke="none" stroke-width="1" />
<line x1="96.2" y1="671.8" x2="96.2" y2="753.8" stroke="#333" stroke-width="1.1" />
<line x1="95.7" y1="753.3" x2="176.1" y2="753.3" stroke="#333" stroke-width="1.1" />
<line x1="93.2" y1="753.3" x2="96.2" y2="753.3" stroke="#333" stroke-width="1.1" />
<text transform="translate(93.2,756.76) scale(1,1.06)" font-size="9.6" text-anchor="end" font-weight="normal" fill="#222" stroke="#222" stroke-width="0.27" >0</text>
<line x1="93.2" y1="737" x2="96.2" y2="737" stroke="#333" stroke-width="1.1" />
<text transform="translate(93.2,740.46) scale(1,1.06)" font-size="9.6" text-anchor="end" font-weight="normal" fill="#222" stroke="#222" stroke-width="0.27" >20</text>
<line x1="93.2" y1="720.7" x2="96.2" y2="720.7" stroke="#333" stroke-width="1.1" />
<text transform="translate(93.2,724.16) scale(1,1.06)" font-size="9.6" text-anchor="end" font-weight="normal" fill="#222" stroke="#222" stroke-width="0.27" >40</text>
<line x1="93.2" y1="704.4" x2="96.2" y2="704.4" stroke="#333" stroke-width="1.1" />
<text transform="translate(93.2,707.86) scale(1,1.06)" font-size="9.6" text-anchor="end" font-weight="normal" fill="#222" stroke="#222" stroke-width="0.27" >60</text>
<line x1="93.2" y1="688.1" x2="96.2" y2="688.1" stroke="#333" stroke-width="1.1" />
<text transform="translate(93.2,691.56) scale(1,1.06)" font-size="9.6" text-anchor="end" font-weight="normal" fill="#222" stroke="#222" stroke-width="0.27" >80</text>
<line x1="93.2" y1="671.8" x2="96.2" y2="671.8" stroke="#333" stroke-width="1.1" />
<text transform="translate(93.2,675.26) scale(1,1.06)" font-size="9.6" text-anchor="end" font-weight="normal" fill="#222" stroke="#222" stroke-width="0.27" >100</text>
<line x1="117" y1="753.3" x2="117" y2="755.8" stroke="#333" stroke-width="1.0" />
<line x1="156.1" y1="753.3" x2="156.1" y2="755.8" stroke="#333" stroke-width="1.0" />
<circle cx="101.9" cy="661.2" r="1.57" fill="#000"/>
<text transform="translate(108.6,663.47) scale(1,1.06)" font-size="6.3" text-anchor="start" font-weight="normal" fill="#222" stroke="#222" stroke-width="0.18" >ENDO</text>
<rect x="144.43" y="659.62" width="3.15" height="3.15" fill="#1ec21e" stroke="none" stroke-width="1" />
<text transform="translate(152.6,663.47) scale(1,1.06)" font-size="6.3" text-anchor="start" font-weight="normal" fill="#222" stroke="#222" stroke-width="0.18" >EPI</text>
<polyline points="109.9,686.6 109.9,681.6 125.4,681.6 125.4,720.9" fill="none" stroke="#333" stroke-width="1.0" stroke-linejoin="round" />
<text transform="translate(116.8,685.2) scale(1.05,1)" font-size="16.8" text-anchor="middle" fill="#111" stroke="#111" stroke-width="0.35">**</text>
<polyline points="148.7,693.5 148.7,688.9 164.7,688.9 164.7,697.6" fill="none" stroke="#333" stroke-width="1.0" stroke-linejoin="round" />
<text transform="translate(157.2,687.7) scale(1,1.06)" font-size="10.3" text-anchor="middle" font-weight="normal" fill="#111" stroke="#111" stroke-width="0.29" >ns</text>
<text transform="translate(70.6,709.5) scale(1,1.06) rotate(-90)" font-size="9.5" text-anchor="middle" font-weight="normal" fill="#222" stroke="#222" stroke-width="0.27">APD<tspan font-size="7.12" dy="1.52">90</tspan><tspan dy="-1.52"> (ms)</tspan></text>
<text transform="translate(121,764) scale(1,1.06) rotate(-45)" font-size="9.8" text-anchor="end" font-weight="normal" fill="#222" stroke="#222" stroke-width="0.27">WT-R</text>
<text transform="translate(160,764) scale(1,1.06) rotate(-45)" font-size="9.8" text-anchor="end" font-weight="normal" fill="#222" stroke="#222" stroke-width="0.27">CIRBIL-TG-R</text>
<rect x="250.5" y="696" width="13" height="57.3" fill="#fff" stroke="#111" stroke-width="1.1" />
<line x1="257" y1="693.5" x2="257" y2="698.5" stroke="#111" stroke-width="1.0" />
<line x1="254" y1="693.5" x2="260" y2="693.5" stroke="#111" stroke-width="1.0" />
<line x1="254" y1="698.5" x2="260" y2="698.5" stroke="#111" stroke-width="1.0" />
<circle cx="253.52" cy="685.35" r="1.7" fill="#000"/>
<circle cx="256.57" cy="685.96" r="1.7" fill="#000"/>
<circle cx="259.61" cy="686.57" r="1.7" fill="#000"/>
<circle cx="260.83" cy="687.79" r="1.7" fill="#000"/>
<circle cx="252.31" cy="690.83" r="1.7" fill="#000"/>
<circle cx="255.35" cy="691.44" r="1.7" fill="#000"/>
<circle cx="257.79" cy="690.83" r="1.7" fill="#000"/>
<circle cx="253.52" cy="693.26" r="1.7" fill="#000"/>
<circle cx="256.57" cy="693.87" r="1.7" fill="#000"/>
<circle cx="259.61" cy="694.48" r="1.7" fill="#000"/>
<circle cx="262.05" cy="695.7" r="1.7" fill="#000"/>
<circle cx="254.74" cy="695.7" r="1.7" fill="#000"/>
<circle cx="258.39" cy="700.57" r="1.7" fill="#000"/>
<circle cx="255.35" cy="702.4" r="1.7" fill="#000"/>
<circle cx="256.57" cy="704.83" r="1.7" fill="#000"/>
<circle cx="254.74" cy="706.05" r="1.7" fill="#000"/>
<circle cx="258.64" cy="710.92" r="1.7" fill="#000"/>
<circle cx="252.91" cy="688.39" r="1.7" fill="#000"/>
<circle cx="257.18" cy="689" r="1.7" fill="#000"/>
<rect x="267.2" y="700" width="13.1" height="53.3" fill="#fff" stroke="#1ec21e" stroke-width="1.1" />
<line x1="273.75" y1="697.5" x2="273.75" y2="702.5" stroke="#1ec21e" stroke-width="1.0" />
<line x1="270.75" y1="697.5" x2="276.75" y2="697.5" stroke="#1ec21e" stroke-width="1.0" />
<line x1="270.75" y1="702.5" x2="276.75" y2="702.5" stroke="#1ec21e" stroke-width="1.0" />
<rect x="269.53" y="681.87" width="3.3" height="3.3" fill="#1ec21e" stroke="none" stroke-width="1" />
<rect x="272.57" y="684.31" width="3.3" height="3.3" fill="#1ec21e" stroke="none" stroke-width="1" />
<rect x="274.77" y="685.28" width="3.3" height="3.3" fill="#1ec21e" stroke="none" stroke-width="1" />
<rect x="268.31" y="689.18" width="3.3" height="3.3" fill="#1ec21e" stroke="none" stroke-width="1" />
<rect x="275.62" y="689.18" width="3.3" height="3.3" fill="#1ec21e" stroke="none" stroke-width="1" />
<rect x="271.36" y="691.61" width="3.3" height="3.3" fill="#1ec21e" stroke="none" stroke-width="1" />
<rect x="269.53" y="693.44" width="3.3" height="3.3" fill="#1ec21e" stroke="none" stroke-width="1" />
<rect x="272.57" y="694.05" width="3.3" height="3.3" fill="#1ec21e" stroke="none" stroke-width="1" />
<rect x="267.7" y="697.09" width="3.3" height="3.3" fill="#1ec21e" stroke="none" stroke-width="1" />
<rect x="270.75" y="697.7" width="3.3" height="3.3" fill="#1ec21e" stroke="none" stroke-width="1" />
<rect x="274.4" y="697.7" width="3.3" height="3.3" fill="#1ec21e" stroke="none" stroke-width="1" />
<rect x="277.44" y="698.31" width="3.3" height="3.3" fill="#1ec21e" stroke="none" stroke-width="1" />
<rect x="268.92" y="699.53" width="3.3" height="3.3" fill="#1ec21e" stroke="none" stroke-width="1" />
<rect x="272.57" y="700.75" width="3.3" height="3.3" fill="#1ec21e" stroke="none" stroke-width="1" />
<rect x="271.36" y="702.57" width="3.3" height="3.3" fill="#1ec21e" stroke="none" stroke-width="1" />
<rect x="274.4" y="706.84" width="3.3" height="3.3" fill="#1ec21e" stroke="none" stroke-width="1" />
<rect x="270.75" y="712.92" width="3.3" height="3.3" fill="#1ec21e" stroke="none" stroke-width="1" />
<rect x="273.18" y="714.75" width="3.3" height="3.3" fill="#1ec21e" stroke="none" stroke-width="1" />
<rect x="267.09" y="698.31" width="3.3" height="3.3" fill="#1ec21e" stroke="none" stroke-width="1" />
<rect x="290.7" y="696.3" width="13.3" height="57" fill="#fff" stroke="#111" stroke-width="1.1" />
<line x1="297.35" y1="693.5" x2="297.35" y2="699.1" stroke="#111" stroke-width="1.0" />
<line x1="294.35" y1="693.5" x2="300.35" y2="693.5" stroke="#111" stroke-width="1.0" />
<line x1="294.35" y1="699.1" x2="300.35" y2="699.1" stroke="#111" stroke-width="1.0" />
<circle cx="294.92" cy="687.18" r="1.7" fill="#000"/>
<circle cx="298.58" cy="687.79" r="1.7" fill="#000"/>
<circle cx="301.01" cy="689" r="1.7" fill="#000"/>
<circle cx="292.49" cy="690.22" r="1.7" fill="#000"/>
<circle cx="296.14" cy="690.22" r="1.7" fill="#000"/>
<circle cx="296.14" cy="693.26" r="1.7" fill="#000"/>
<circle cx="298.58" cy="698.14" r="1.7" fill="#000"/>
<circle cx="296.14" cy="703.01" r="1.7" fill="#000"/>
<circle cx="298.58" cy="706.9" r="1.7" fill="#000"/>
<circle cx="297.12" cy="712.5" r="1.7" fill="#000"/>
<rect x="307.3" y="694.7" width="13" height="58.6" fill="#fff" stroke="#1ec21e" stroke-width="1.1" />
<line x1="313.8" y1="692.5" x2="313.8" y2="696.9" stroke="#1ec21e" stroke-width="1.0" />
<line x1="310.8" y1="692.5" x2="316.8" y2="692.5" stroke="#1ec21e" stroke-width="1.0" />
<line x1="310.8" y1="696.9" x2="316.8" y2="696.9" stroke="#1ec21e" stroke-width="1.0" />
<rect x="307.28" y="685.53" width="3.3" height="3.3" fill="#1ec21e" stroke="none" stroke-width="1" />
<rect x="310.32" y="686.14" width="3.3" height="3.3" fill="#1ec21e" stroke="none" stroke-width="1" />
<rect x="313.97" y="686.74" width="3.3" height="3.3" fill="#1ec21e" stroke="none" stroke-width="1" />
<rect x="316.41" y="687.96" width="3.3" height="3.3" fill="#1ec21e" stroke="none" stroke-width="1" />
<rect x="307.89" y="691.61" width="3.3" height="3.3" fill="#1ec21e" stroke="none" stroke-width="1" />
<rect x="313.37" y="691.61" width="3.3" height="3.3" fill="#1ec21e" stroke="none" stroke-width="1" />
<rect x="316.41" y="692.22" width="3.3" height="3.3" fill="#1ec21e" stroke="none" stroke-width="1" />
<rect x="307.28" y="694.05" width="3.3" height="3.3" fill="#1ec21e" stroke="none" stroke-width="1" />
<rect x="310.93" y="694.66" width="3.3" height="3.3" fill="#1ec21e" stroke="none" stroke-width="1" />
<rect x="313.97" y="695.27" width="3.3" height="3.3" fill="#1ec21e" stroke="none" stroke-width="1" />
<rect x="310.32" y="701.36" width="3.3" height="3.3" fill="#1ec21e" stroke="none" stroke-width="1" />
<rect x="313.37" y="704.4" width="3.3" height="3.3" fill="#1ec21e" stroke="none" stroke-width="1" />
<line x1="243.3" y1="668.8" x2="243.3" y2="753.8" stroke="#333" stroke-width="1.1" />
<line x1="242.8" y1="753.3" x2="326.1" y2="753.3" stroke="#333" stroke-width="1.1" />
<line x1="240.3" y1="753.3" x2="243.3" y2="753.3" stroke="#333" stroke-width="1.1" />
<text transform="translate(240.3,757.12) scale(1,1.06)" font-size="10.6" text-anchor="end" font-weight="normal" fill="#222" stroke="#222" stroke-width="0.3" >0</text>
<line x1="240.3" y1="725.13" x2="243.3" y2="725.13" stroke="#333" stroke-width="1.1" />
<text transform="translate(240.3,728.95) scale(1,1.06)" font-size="10.6" text-anchor="end" font-weight="normal" fill="#222" stroke="#222" stroke-width="0.3" >50</text>
<line x1="240.3" y1="696.97" x2="243.3" y2="696.97" stroke="#333" stroke-width="1.1" />
<text transform="translate(240.3,700.79) scale(1,1.06)" font-size="10.6" text-anchor="end" font-weight="normal" fill="#222" stroke="#222" stroke-width="0.3" >100</text>
<line x1="240.3" y1="668.8" x2="243.3" y2="668.8" stroke="#333" stroke-width="1.1" />
<text transform="translate(240.3,672.62) scale(1,1.06)" font-size="10.6" text-anchor="end" font-weight="normal" fill="#222" stroke="#222" stroke-width="0.3" >150</text>
<line x1="265.2" y1="753.3" x2="265.2" y2="755.8" stroke="#333" stroke-width="1.0" />
<line x1="305.6" y1="753.3" x2="305.6" y2="755.8" stroke="#333" stroke-width="1.0" />
<circle cx="251.5" cy="666.6" r="1.65" fill="#000"/>
<text transform="translate(257.4,668.98) scale(1,1.06)" font-size="6.6" text-anchor="start" font-weight="normal" fill="#222" stroke="#222" stroke-width="0.18" >ENDO</text>
<rect x="299.35" y="664.95" width="3.3" height="3.3" fill="#1ec21e" stroke="none" stroke-width="1" />
<text transform="translate(307.6,668.98) scale(1,1.06)" font-size="6.6" text-anchor="start" font-weight="normal" fill="#222" stroke="#222" stroke-width="0.18" >EPI</text>
<text transform="translate(217.9,708.1) scale(1,1.06) rotate(-90)" font-size="10.0" text-anchor="middle" font-weight="normal" fill="#222" stroke="#222" stroke-width="0.28">APA (mV)</text>
<text transform="translate(269,764) scale(1,1.06) rotate(-45)" font-size="9.8" text-anchor="end" font-weight="normal" fill="#222" stroke="#222" stroke-width="0.27">WT-R</text>
<text transform="translate(309.5,764) scale(1,1.06) rotate(-45)" font-size="9.8" text-anchor="end" font-weight="normal" fill="#222" stroke="#222" stroke-width="0.27">CIRBIL-TG-R</text>
<rect x="396.3" y="676.42" width="12.2" height="61.78" fill="#fff" stroke="none" stroke-width="1" />
<polyline points="396.3,676.42 396.3,738.2 408.5,738.2 408.5,676.42" fill="none" stroke="#111" stroke-width="1.1" stroke-linejoin="round" />
<line x1="402.4" y1="736.6" x2="402.4" y2="739.8" stroke="#111" stroke-width="1.0" />
<line x1="399.4" y1="736.6" x2="405.4" y2="736.6" stroke="#111" stroke-width="1.0" />
<line x1="399.4" y1="739.8" x2="405.4" y2="739.8" stroke="#111" stroke-width="1.0" />
<circle cx="401.99" cy="732.53" r="1.7" fill="#000"/>
<circle cx="400.27" cy="738.81" r="1.7" fill="#000"/>
<circle cx="404.84" cy="738.81" r="1.7" fill="#000"/>
<circle cx="397.99" cy="740.53" r="1.7" fill="#000"/>
<circle cx="401.42" cy="739.95" r="1.7" fill="#000"/>
<circle cx="399.13" cy="742.24" r="1.7" fill="#000"/>
<circle cx="403.7" cy="742.81" r="1.7" fill="#000"/>
<circle cx="406.55" cy="743.95" r="1.7" fill="#000"/>
<circle cx="396.85" cy="741.1" r="1.7" fill="#000"/>
<rect x="411.1" y="676.42" width="12.6" height="64.08" fill="#fff" stroke="none" stroke-width="1" />
<polyline points="411.1,676.42 411.1,740.5 423.7,740.5 423.7,676.42" fill="none" stroke="#1ec21e" stroke-width="1.1" stroke-linejoin="round" />
<line x1="417.4" y1="738.9" x2="417.4" y2="742.1" stroke="#1ec21e" stroke-width="1.0" />
<line x1="414.4" y1="738.9" x2="420.4" y2="738.9" stroke="#1ec21e" stroke-width="1.0" />
<line x1="414.4" y1="742.1" x2="420.4" y2="742.1" stroke="#1ec21e" stroke-width="1.0" />
<rect x="412.89" y="732.6" width="3.3" height="3.3" fill="#1ec21e" stroke="none" stroke-width="1" />
<rect x="416.32" y="733.17" width="3.3" height="3.3" fill="#1ec21e" stroke="none" stroke-width="1" />
<rect x="414.03" y="734.88" width="3.3" height="3.3" fill="#1ec21e" stroke="none" stroke-width="1" />
<rect x="418.6" y="736.02" width="3.3" height="3.3" fill="#1ec21e" stroke="none" stroke-width="1" />
<rect x="412.32" y="737.16" width="3.3" height="3.3" fill="#1ec21e" stroke="none" stroke-width="1" />
<rect x="415.75" y="738.3" width="3.3" height="3.3" fill="#1ec21e" stroke="none" stroke-width="1" />
<rect x="411.18" y="740.59" width="3.3" height="3.3" fill="#1ec21e" stroke="none" stroke-width="1" />
<rect x="414.61" y="741.16" width="3.3" height="3.3" fill="#1ec21e" stroke="none" stroke-width="1" />
<rect x="419.17" y="740.02" width="3.3" height="3.3" fill="#1ec21e" stroke="none" stroke-width="1" />
<rect x="412.89" y="742.87" width="3.3" height="3.3" fill="#1ec21e" stroke="none" stroke-width="1" />
<rect x="416.32" y="744.01" width="3.3" height="3.3" fill="#1ec21e" stroke="none" stroke-width="1" />
<rect x="418.03" y="746.3" width="3.3" height="3.3" fill="#1ec21e" stroke="none" stroke-width="1" />
<rect x="411.75" y="741.73" width="3.3" height="3.3" fill="#1ec21e" stroke="none" stroke-width="1" />
<rect x="433.2" y="676.42" width="12.2" height="57.78" fill="#fff" stroke="none" stroke-width="1" />
<polyline points="433.2,676.42 433.2,734.2 445.4,734.2 445.4,676.42" fill="none" stroke="#111" stroke-width="1.1" stroke-linejoin="round" />
<line x1="439.3" y1="732.6" x2="439.3" y2="735.8" stroke="#111" stroke-width="1.0" />
<line x1="436.3" y1="732.6" x2="442.3" y2="732.6" stroke="#111" stroke-width="1.0" />
<line x1="436.3" y1="735.8" x2="442.3" y2="735.8" stroke="#111" stroke-width="1.0" />
<circle cx="435.09" cy="730.25" r="1.7" fill="#000"/>
<circle cx="437.95" cy="730.25" r="1.7" fill="#000"/>
<circle cx="440.8" cy="730.25" r="1.7" fill="#000"/>
<circle cx="443.08" cy="731.39" r="1.7" fill="#000"/>
<circle cx="434.52" cy="732.53" r="1.7" fill="#000"/>
<circle cx="437.37" cy="733.11" r="1.7" fill="#000"/>
<circle cx="442.51" cy="733.11" r="1.7" fill="#000"/>
<circle cx="439.09" cy="736.53" r="1.7" fill="#000"/>
<circle cx="436.8" cy="739.38" r="1.7" fill="#000"/>
<circle cx="439.09" cy="741.67" r="1.7" fill="#000"/>
<circle cx="441.14" cy="743.95" r="1.7" fill="#000"/>
<rect x="448.2" y="676.42" width="12" height="56.68" fill="#fff" stroke="none" stroke-width="1" />
<polyline points="448.2,676.42 448.2,733.1 460.2,733.1 460.2,676.42" fill="none" stroke="#1ec21e" stroke-width="1.1" stroke-linejoin="round" />
<line x1="454.2" y1="731.5" x2="454.2" y2="734.7" stroke="#1ec21e" stroke-width="1.0" />
<line x1="451.2" y1="731.5" x2="457.2" y2="731.5" stroke="#1ec21e" stroke-width="1.0" />
<line x1="451.2" y1="734.7" x2="457.2" y2="734.7" stroke="#1ec21e" stroke-width="1.0" />
<rect x="451.71" y="725.75" width="3.3" height="3.3" fill="#1ec21e" stroke="none" stroke-width="1" />
<rect x="449.99" y="728.6" width="3.3" height="3.3" fill="#1ec21e" stroke="none" stroke-width="1" />
<rect x="455.7" y="729.17" width="3.3" height="3.3" fill="#1ec21e" stroke="none" stroke-width="1" />
<rect x="456.84" y="730.31" width="3.3" height="3.3" fill="#1ec21e" stroke="none" stroke-width="1" />
<rect x="447.71" y="730.88" width="3.3" height="3.3" fill="#1ec21e" stroke="none" stroke-width="1" />
<rect x="450.56" y="732.03" width="3.3" height="3.3" fill="#1ec21e" stroke="none" stroke-width="1" />
<rect x="452.28" y="733.74" width="3.3" height="3.3" fill="#1ec21e" stroke="none" stroke-width="1" />
<rect x="453.99" y="736.02" width="3.3" height="3.3" fill="#1ec21e" stroke="none" stroke-width="1" />
<rect x="454.56" y="738.3" width="3.3" height="3.3" fill="#1ec21e" stroke="none" stroke-width="1" />
<rect x="452.51" y="744.01" width="3.3" height="3.3" fill="#1ec21e" stroke="none" stroke-width="1" />
<line x1="389" y1="676.42" x2="389" y2="753.8" stroke="#333" stroke-width="1.1" />
<line x1="388.5" y1="753.3" x2="467" y2="753.3" stroke="#333" stroke-width="1.1" />
<line x1="386" y1="753.3" x2="389" y2="753.3" stroke="#333" stroke-width="1.1" />
<text transform="translate(386,756.61) scale(1,1.06)" font-size="9.2" text-anchor="end" font-weight="normal" fill="#222" stroke="#222" stroke-width="0.26" >-80</text>
<line x1="386" y1="734.08" x2="389" y2="734.08" stroke="#333" stroke-width="1.1" />
<text transform="translate(386,737.39) scale(1,1.06)" font-size="9.2" text-anchor="end" font-weight="normal" fill="#222" stroke="#222" stroke-width="0.26" >-60</text>
<line x1="386" y1="714.86" x2="389" y2="714.86" stroke="#333" stroke-width="1.1" />
<text transform="translate(386,718.17) scale(1,1.06)" font-size="9.2" text-anchor="end" font-weight="normal" fill="#222" stroke="#222" stroke-width="0.26" >-40</text>
<line x1="386" y1="695.64" x2="389" y2="695.64" stroke="#333" stroke-width="1.1" />
<text transform="translate(386,698.95) scale(1,1.06)" font-size="9.2" text-anchor="end" font-weight="normal" fill="#222" stroke="#222" stroke-width="0.26" >-20</text>
<line x1="386" y1="676.42" x2="389" y2="676.42" stroke="#333" stroke-width="1.1" />
<text transform="translate(386,679.73) scale(1,1.06)" font-size="9.2" text-anchor="end" font-weight="normal" fill="#222" stroke="#222" stroke-width="0.26" >0</text>
<line x1="410" y1="753.3" x2="410" y2="755.8" stroke="#333" stroke-width="1.0" />
<line x1="446.7" y1="753.3" x2="446.7" y2="755.8" stroke="#333" stroke-width="1.0" />
<line x1="389" y1="676.42" x2="467" y2="676.42" stroke="#999" stroke-width="0.8" stroke-dasharray="1,1.2"/>
<circle cx="396.7" cy="665" r="1.55" fill="#000"/>
<text transform="translate(402.8,667.23) scale(1,1.06)" font-size="6.2" text-anchor="start" font-weight="normal" fill="#222" stroke="#222" stroke-width="0.17" >ENDO</text>
<rect x="441.45" y="663.45" width="3.1" height="3.1" fill="#1ec21e" stroke="none" stroke-width="1" />
<text transform="translate(449.7,667.23) scale(1,1.06)" font-size="6.2" text-anchor="start" font-weight="normal" fill="#222" stroke="#222" stroke-width="0.17" >EPI</text>
<text transform="translate(368.5,711.9) scale(1,1.06) rotate(-90)" font-size="8.5" text-anchor="middle" font-weight="normal" fill="#222" stroke="#222" stroke-width="0.24">RP (mV)</text>
<text transform="translate(413.2,762.8) scale(1,1.06) rotate(-45)" font-size="9.1" text-anchor="end" font-weight="normal" fill="#222" stroke="#222" stroke-width="0.25">WT-R</text>
<text transform="translate(449.6,762.8) scale(1,1.06) rotate(-45)" font-size="9.1" text-anchor="end" font-weight="normal" fill="#222" stroke="#222" stroke-width="0.25">CIRBIL-TG-R</text>
<rect x="529" y="714.2" width="12.6" height="39.1" fill="#fff" stroke="#111" stroke-width="1.1" />
<line x1="535.3" y1="711.6" x2="535.3" y2="716.8" stroke="#111" stroke-width="1.0" />
<line x1="532.3" y1="711.6" x2="538.3" y2="711.6" stroke="#111" stroke-width="1.0" />
<line x1="532.3" y1="716.8" x2="538.3" y2="716.8" stroke="#111" stroke-width="1.0" />
<circle cx="531.85" cy="698.56" r="1.7" fill="#000"/>
<circle cx="535.27" cy="698.22" r="1.7" fill="#000"/>
<circle cx="534.13" cy="701.42" r="1.7" fill="#000"/>
<circle cx="532.99" cy="703.47" r="1.7" fill="#000"/>
<circle cx="536.42" cy="703.13" r="1.7" fill="#000"/>
<circle cx="538.7" cy="703.7" r="1.7" fill="#000"/>
<circle cx="531.85" cy="709.98" r="1.7" fill="#000"/>
<circle cx="535.27" cy="709.98" r="1.7" fill="#000"/>
<circle cx="537.56" cy="710.55" r="1.7" fill="#000"/>
<circle cx="539.27" cy="712.26" r="1.7" fill="#000"/>
<circle cx="530.14" cy="713.97" r="1.7" fill="#000"/>
<circle cx="535.84" cy="713.97" r="1.7" fill="#000"/>
<circle cx="533.56" cy="724.25" r="1.7" fill="#000"/>
<circle cx="535.84" cy="727.67" r="1.7" fill="#000"/>
<circle cx="534.13" cy="733.38" r="1.7" fill="#000"/>
<circle cx="535.84" cy="735.66" r="1.7" fill="#000"/>
<circle cx="532.42" cy="710.55" r="1.7" fill="#000"/>
<rect x="544.2" y="718.5" width="13.3" height="34.8" fill="#fff" stroke="#1ec21e" stroke-width="1.1" />
<line x1="550.85" y1="716.3" x2="550.85" y2="720.7" stroke="#1ec21e" stroke-width="1.0" />
<line x1="547.85" y1="716.3" x2="553.85" y2="716.3" stroke="#1ec21e" stroke-width="1.0" />
<line x1="547.85" y1="720.7" x2="553.85" y2="720.7" stroke="#1ec21e" stroke-width="1.0" />
<rect x="549.38" y="699.42" width="3.3" height="3.3" fill="#1ec21e" stroke="none" stroke-width="1" />
<rect x="545.04" y="706.61" width="3.3" height="3.3" fill="#1ec21e" stroke="none" stroke-width="1" />
<rect x="553.6" y="706.61" width="3.3" height="3.3" fill="#1ec21e" stroke="none" stroke-width="1" />
<rect x="547.89" y="710.04" width="3.3" height="3.3" fill="#1ec21e" stroke="none" stroke-width="1" />
<rect x="550.75" y="711.18" width="3.3" height="3.3" fill="#1ec21e" stroke="none" stroke-width="1" />
<rect x="545.04" y="713.46" width="3.3" height="3.3" fill="#1ec21e" stroke="none" stroke-width="1" />
<rect x="549.61" y="714.03" width="3.3" height="3.3" fill="#1ec21e" stroke="none" stroke-width="1" />
<rect x="553.6" y="716.32" width="3.3" height="3.3" fill="#1ec21e" stroke="none" stroke-width="1" />
<rect x="547.89" y="718.03" width="3.3" height="3.3" fill="#1ec21e" stroke="none" stroke-width="1" />
<rect x="552.46" y="721.46" width="3.3" height="3.3" fill="#1ec21e" stroke="none" stroke-width="1" />
<rect x="546.18" y="724.88" width="3.3" height="3.3" fill="#1ec21e" stroke="none" stroke-width="1" />
<rect x="549.61" y="726.02" width="3.3" height="3.3" fill="#1ec21e" stroke="none" stroke-width="1" />
<rect x="547.32" y="727.73" width="3.3" height="3.3" fill="#1ec21e" stroke="none" stroke-width="1" />
<rect x="551.89" y="731.73" width="3.3" height="3.3" fill="#1ec21e" stroke="none" stroke-width="1" />
<rect x="549.03" y="730.59" width="3.3" height="3.3" fill="#1ec21e" stroke="none" stroke-width="1" />
<rect x="567.5" y="712.3" width="12.1" height="41" fill="#fff" stroke="#111" stroke-width="1.1" />
<line x1="573.55" y1="707.3" x2="573.55" y2="717.3" stroke="#111" stroke-width="1.0" />
<line x1="570.55" y1="707.3" x2="576.55" y2="707.3" stroke="#111" stroke-width="1.0" />
<line x1="570.55" y1="717.3" x2="576.55" y2="717.3" stroke="#111" stroke-width="1.0" />
<circle cx="568.95" cy="694.34" r="1.7" fill="#000"/>
<circle cx="573.52" cy="694.34" r="1.7" fill="#000"/>
<circle cx="577.74" cy="695.48" r="1.7" fill="#000"/>
<circle cx="571.23" cy="704.27" r="1.7" fill="#000"/>
<circle cx="575.23" cy="704.27" r="1.7" fill="#000"/>
<circle cx="573.86" cy="711.69" r="1.7" fill="#000"/>
<circle cx="573.52" cy="721.39" r="1.7" fill="#000"/>
<circle cx="571.23" cy="726.3" r="1.7" fill="#000"/>
<circle cx="575.8" cy="727.1" r="1.7" fill="#000"/>
<circle cx="573.52" cy="738.52" r="1.7" fill="#000"/>
<rect x="582.6" y="709.4" width="12.6" height="43.9" fill="#fff" stroke="#1ec21e" stroke-width="1.1" />
<line x1="588.9" y1="705.6" x2="588.9" y2="713.2" stroke="#1ec21e" stroke-width="1.0" />
<line x1="585.9" y1="705.6" x2="591.9" y2="705.6" stroke="#1ec21e" stroke-width="1.0" />
<line x1="585.9" y1="713.2" x2="591.9" y2="713.2" stroke="#1ec21e" stroke-width="1.0" />
<rect x="583.28" y="696.11" width="3.3" height="3.3" fill="#1ec21e" stroke="none" stroke-width="1" />
<rect x="587.85" y="695.2" width="3.3" height="3.3" fill="#1ec21e" stroke="none" stroke-width="1" />
<rect x="587.85" y="699.77" width="3.3" height="3.3" fill="#1ec21e" stroke="none" stroke-width="1" />
<rect x="591.84" y="700.68" width="3.3" height="3.3" fill="#1ec21e" stroke="none" stroke-width="1" />
<rect x="591.84" y="702.96" width="3.3" height="3.3" fill="#1ec21e" stroke="none" stroke-width="1" />
<rect x="583.28" y="707.76" width="3.3" height="3.3" fill="#1ec21e" stroke="none" stroke-width="1" />
<rect x="587.85" y="708.33" width="3.3" height="3.3" fill="#1ec21e" stroke="none" stroke-width="1" />
<rect x="587.85" y="715.18" width="3.3" height="3.3" fill="#1ec21e" stroke="none" stroke-width="1" />
<rect x="585.56" y="720.88" width="3.3" height="3.3" fill="#1ec21e" stroke="none" stroke-width="1" />
<rect x="589.79" y="725.11" width="3.3" height="3.3" fill="#1ec21e" stroke="none" stroke-width="1" />
<line x1="521.8" y1="672.98" x2="521.8" y2="753.8" stroke="#333" stroke-width="1.1" />
<line x1="521.3" y1="753.3" x2="603" y2="753.3" stroke="#333" stroke-width="1.1" />
<line x1="518.8" y1="753.3" x2="521.8" y2="753.3" stroke="#333" stroke-width="1.1" />
<text transform="translate(518.8,756.83) scale(1,1.06)" font-size="9.8" text-anchor="end" font-weight="normal" fill="#222" stroke="#222" stroke-width="0.27" >0</text>
<line x1="518.8" y1="733.22" x2="521.8" y2="733.22" stroke="#333" stroke-width="1.1" />
<text transform="translate(518.8,736.75) scale(1,1.06)" font-size="9.8" text-anchor="end" font-weight="normal" fill="#222" stroke="#222" stroke-width="0.27" >20</text>
<line x1="518.8" y1="713.14" x2="521.8" y2="713.14" stroke="#333" stroke-width="1.1" />
<text transform="translate(518.8,716.67) scale(1,1.06)" font-size="9.8" text-anchor="end" font-weight="normal" fill="#222" stroke="#222" stroke-width="0.27" >40</text>
<line x1="518.8" y1="693.06" x2="521.8" y2="693.06" stroke="#333" stroke-width="1.1" />
<text transform="translate(518.8,696.59) scale(1,1.06)" font-size="9.8" text-anchor="end" font-weight="normal" fill="#222" stroke="#222" stroke-width="0.27" >60</text>
<line x1="518.8" y1="672.98" x2="521.8" y2="672.98" stroke="#333" stroke-width="1.1" />
<text transform="translate(518.8,676.51) scale(1,1.06)" font-size="9.8" text-anchor="end" font-weight="normal" fill="#222" stroke="#222" stroke-width="0.27" >80</text>
<line x1="543" y1="753.3" x2="543" y2="755.8" stroke="#333" stroke-width="1.0" />
<line x1="581.3" y1="753.3" x2="581.3" y2="755.8" stroke="#333" stroke-width="1.0" />
<circle cx="526" cy="663.4" r="1.57" fill="#000"/>
<text transform="translate(532.6,665.67) scale(1,1.06)" font-size="6.3" text-anchor="start" font-weight="normal" fill="#222" stroke="#222" stroke-width="0.18" >ENDO</text>
<rect x="570.72" y="661.82" width="3.15" height="3.15" fill="#1ec21e" stroke="none" stroke-width="1" />
<text transform="translate(578.2,665.67) scale(1,1.06)" font-size="6.3" text-anchor="start" font-weight="normal" fill="#222" stroke="#222" stroke-width="0.18" >EPI</text>
<text transform="translate(502.5,709.4) scale(1,1.06) rotate(-90)" font-size="9.0" text-anchor="middle" font-weight="normal" fill="#222" stroke="#222" stroke-width="0.25">Overshoot (mV)</text>
<text transform="translate(546.6,762) scale(1,1.06) rotate(-45)" font-size="9.9" text-anchor="end" font-weight="normal" fill="#222" stroke="#222" stroke-width="0.28">WT-R</text>
<text transform="translate(584.6,762) scale(1,1.06) rotate(-45)" font-size="9.9" text-anchor="end" font-weight="normal" fill="#222" stroke="#222" stroke-width="0.28">CIRBIL-TG-R</text>
<polyline points="68.4,572.4 78.3,572.4 79,566 79.8,540 80.7,518 81.6,526.3 84,532.5 86.7,539.6 88.8,546 90.6,551.4 92,556 93.5,558.6 96.8,561.3 100,562.8 105,564.5 110,565.8 120,568 132.7,570.3 144.2,571.4 155,572.2 165.8,572.4" fill="none" stroke="#1414f0" stroke-width="1.3" stroke-linejoin="round" />
<polyline points="68.4,572.6 78.4,572.6 79.3,566 80,561 80.4,540 80.9,516.5 82,530.2 84,540 85.9,545.5 87.2,552 88.2,557.3 89.5,560.3 91.3,562.1 95,564 100,566 105,568 110,569.6 120,571.5 130,572.3 165.8,572.6" fill="none" stroke="#f01414" stroke-width="1.3" stroke-linejoin="round" />
<polyline points="198.7,572 207.9,572 208.4,567.8 209.9,566.6 210.5,556 211,532 211.5,520.6 212.2,526 214.2,532.5 216,541 217.7,548.5 219.5,554 221.1,557.4 224,559.4 228,560.4 237,562.2 242,563.8 246.2,565.6 251,568 255.3,570.2 262.2,571.7 270,572 291.9,572" fill="none" stroke="#111" stroke-width="1.3" stroke-linejoin="round" />
<polyline points="207.9,572 208.6,569 210.2,566.8 211,545 211.8,525 212.3,523.5 212.9,529 215,538 217.7,547.4 220,553.6 223.4,558.6 228,561.6 234.8,565.4 240,567.9 246.2,570.1 255.3,571.8 262,572.1" fill="none" stroke="#22c022" stroke-width="1.3" stroke-linejoin="round" />
<line x1="114.5" y1="521.6" x2="132.7" y2="521.6" stroke="#1414f0" stroke-width="1.9" />
<line x1="114.5" y1="533" x2="132.7" y2="533" stroke="#f01414" stroke-width="1.9" />
<text transform="translate(136,525.8) scale(1,1.06)" font-size="11.9" text-anchor="start" font-weight="normal" fill="#111" stroke="#111" stroke-width="0.3" >ENDO</text>
<text transform="translate(136,537.2) scale(1,1.06)" font-size="11.9" text-anchor="start" font-weight="normal" fill="#111" stroke="#111" stroke-width="0.3" >EPI</text>
<line x1="248.5" y1="521.1" x2="267.9" y2="521.1" stroke="#111" stroke-width="1.9" />
<line x1="248.5" y1="530.7" x2="267.9" y2="530.7" stroke="#22c022" stroke-width="1.9" />
<text transform="translate(271,525.8) scale(1,1.06)" font-size="11.9" text-anchor="start" font-weight="normal" fill="#111" stroke="#111" stroke-width="0.3" >ENDO</text>
<text transform="translate(271,535.6) scale(1,1.06)" font-size="11.9" text-anchor="start" font-weight="normal" fill="#111" stroke="#111" stroke-width="0.3" >EPI</text>
<text transform="translate(82.2,589.2) scale(1,1.06)" font-size="11.9" text-anchor="start" font-weight="normal" fill="#111" stroke="#111" stroke-width="0.3" >WT-R</text>
<text transform="translate(201.3,589.6) scale(1,1.06)" font-size="11.9" text-anchor="start" font-weight="normal" fill="#111" stroke="#111" stroke-width="0.3" >CIRBIL-TG-R</text>
</svg>
</body></html>
